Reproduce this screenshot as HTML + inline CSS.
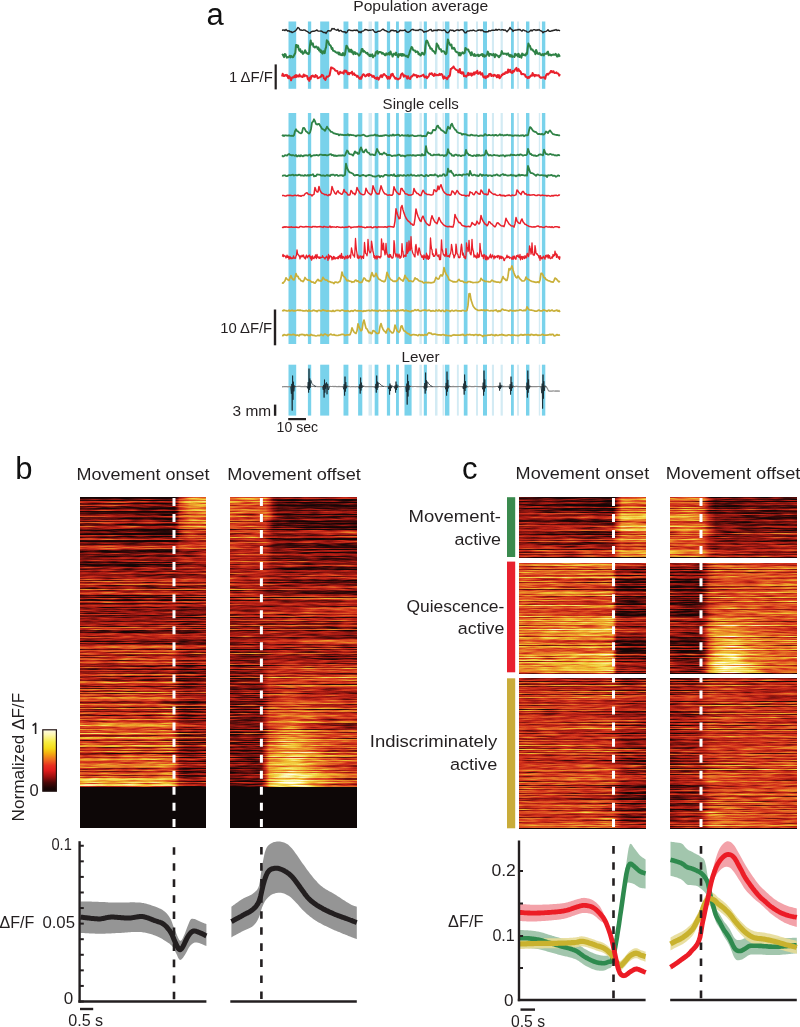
<!DOCTYPE html>
<html><head><meta charset="utf-8"><title>Figure</title>
<style>
html,body{margin:0;padding:0;background:#fff;overflow:hidden}
svg{display:block;will-change:transform;font-family:"Liberation Sans", sans-serif}
</style></head><body>
<svg width="800" height="1027" viewBox="0 0 800 1027">
<defs>
<filter id="hm" filterUnits="objectBoundingBox" x="0" y="0" width="1" height="1" color-interpolation-filters="sRGB">
<feTurbulence type="fractalNoise" baseFrequency="0.004 0.75" numOctaves="1" seed="5" result="t1"/>
<feColorMatrix in="t1" type="matrix" values="1 0 0 0 0  1 0 0 0 0  1 0 0 0 0  0 0 0 0 1" result="n1"/>
<feTurbulence type="fractalNoise" baseFrequency="0.05 0.75" numOctaves="2" seed="9" result="t2"/>
<feColorMatrix in="t2" type="matrix" values="1 0 0 0 0  1 0 0 0 0  1 0 0 0 0  0 0 0 0 1" result="n2"/>
<feComposite in="n1" in2="n2" operator="arithmetic" k1="0" k2="0.7" k3="0.3" k4="0" result="n"/>
<feComposite in="SourceGraphic" in2="n" operator="arithmetic" k1="0" k2="1" k3="1.6" k4="-0.8" result="v"/>
<feComponentTransfer in="v"><feFuncR type="table" tableValues="0.078 0.157 0.235 0.349 0.463 0.569 0.675 0.749 0.824 0.855 0.886 0.902 0.918 0.929 0.941 0.951 0.961 0.971 0.980 0.990 1.000"/><feFuncG type="table" tableValues="0.024 0.031 0.039 0.055 0.071 0.090 0.110 0.153 0.196 0.278 0.361 0.459 0.557 0.655 0.753 0.820 0.886 0.922 0.957 0.978 1.000"/><feFuncB type="table" tableValues="0.024 0.031 0.039 0.047 0.055 0.067 0.078 0.094 0.110 0.125 0.141 0.149 0.157 0.176 0.196 0.275 0.353 0.510 0.667 0.804 0.941"/><feFuncA type="linear" slope="0" intercept="1"/></feComponentTransfer>
</filter>
<linearGradient id="g1"><stop offset="0.00" stop-color="#292929"/><stop offset="0.24" stop-color="#292929"/><stop offset="0.40" stop-color="#242424"/><stop offset="0.56" stop-color="#1b1b1b"/><stop offset="0.65" stop-color="#181818"/><stop offset="0.70" stop-color="#181818"/><stop offset="0.72" stop-color="#181818"/><stop offset="0.75" stop-color="#181818"/><stop offset="0.77" stop-color="#333333"/><stop offset="0.79" stop-color="#636363"/><stop offset="0.83" stop-color="#7d7d7d"/><stop offset="0.87" stop-color="#959595"/><stop offset="0.93" stop-color="#9c9c9c"/><stop offset="1.00" stop-color="#9c9c9c"/></linearGradient>
<linearGradient id="g2"><stop offset="0.00" stop-color="#2b2b2b"/><stop offset="0.24" stop-color="#2b2b2b"/><stop offset="0.40" stop-color="#252525"/><stop offset="0.56" stop-color="#1c1c1c"/><stop offset="0.65" stop-color="#191919"/><stop offset="0.70" stop-color="#191919"/><stop offset="0.72" stop-color="#191919"/><stop offset="0.75" stop-color="#191919"/><stop offset="0.77" stop-color="#333333"/><stop offset="0.79" stop-color="#606060"/><stop offset="0.83" stop-color="#7a7a7a"/><stop offset="0.87" stop-color="#929292"/><stop offset="0.93" stop-color="#999999"/><stop offset="1.00" stop-color="#999999"/></linearGradient>
<linearGradient id="g3"><stop offset="0.00" stop-color="#2c2c2c"/><stop offset="0.24" stop-color="#2c2c2c"/><stop offset="0.40" stop-color="#272727"/><stop offset="0.56" stop-color="#1e1e1e"/><stop offset="0.65" stop-color="#1a1a1a"/><stop offset="0.70" stop-color="#1a1a1a"/><stop offset="0.72" stop-color="#1a1a1a"/><stop offset="0.75" stop-color="#1a1a1a"/><stop offset="0.77" stop-color="#333333"/><stop offset="0.79" stop-color="#5d5d5d"/><stop offset="0.83" stop-color="#757575"/><stop offset="0.87" stop-color="#8c8c8c"/><stop offset="0.93" stop-color="#939393"/><stop offset="1.00" stop-color="#939393"/></linearGradient>
<linearGradient id="g4"><stop offset="0.00" stop-color="#2d2d2d"/><stop offset="0.24" stop-color="#2d2d2d"/><stop offset="0.40" stop-color="#282828"/><stop offset="0.56" stop-color="#1f1f1f"/><stop offset="0.65" stop-color="#1c1c1c"/><stop offset="0.70" stop-color="#1c1c1c"/><stop offset="0.72" stop-color="#1c1c1c"/><stop offset="0.75" stop-color="#1c1c1c"/><stop offset="0.77" stop-color="#323232"/><stop offset="0.79" stop-color="#5a5a5a"/><stop offset="0.83" stop-color="#707070"/><stop offset="0.87" stop-color="#848484"/><stop offset="0.93" stop-color="#8a8a8a"/><stop offset="1.00" stop-color="#8a8a8a"/></linearGradient>
<linearGradient id="g5"><stop offset="0.00" stop-color="#303030"/><stop offset="0.24" stop-color="#303030"/><stop offset="0.40" stop-color="#2a2a2a"/><stop offset="0.56" stop-color="#212121"/><stop offset="0.65" stop-color="#1e1e1e"/><stop offset="0.70" stop-color="#1e1e1e"/><stop offset="0.72" stop-color="#1e1e1e"/><stop offset="0.75" stop-color="#1e1e1e"/><stop offset="0.77" stop-color="#333333"/><stop offset="0.79" stop-color="#575757"/><stop offset="0.83" stop-color="#6a6a6a"/><stop offset="0.87" stop-color="#7a7a7a"/><stop offset="0.93" stop-color="#7f7f7f"/><stop offset="1.00" stop-color="#7f7f7f"/></linearGradient>
<linearGradient id="g6"><stop offset="0.00" stop-color="#323232"/><stop offset="0.24" stop-color="#323232"/><stop offset="0.40" stop-color="#2d2d2d"/><stop offset="0.56" stop-color="#232323"/><stop offset="0.65" stop-color="#202020"/><stop offset="0.70" stop-color="#202020"/><stop offset="0.72" stop-color="#202020"/><stop offset="0.75" stop-color="#202020"/><stop offset="0.77" stop-color="#333333"/><stop offset="0.79" stop-color="#535353"/><stop offset="0.83" stop-color="#636363"/><stop offset="0.87" stop-color="#6f6f6f"/><stop offset="0.93" stop-color="#737373"/><stop offset="1.00" stop-color="#737373"/></linearGradient>
<linearGradient id="g7"><stop offset="0.00" stop-color="#343434"/><stop offset="0.24" stop-color="#343434"/><stop offset="0.40" stop-color="#2f2f2f"/><stop offset="0.56" stop-color="#272727"/><stop offset="0.65" stop-color="#242424"/><stop offset="0.70" stop-color="#242424"/><stop offset="0.72" stop-color="#242424"/><stop offset="0.75" stop-color="#242424"/><stop offset="0.77" stop-color="#343434"/><stop offset="0.79" stop-color="#515151"/><stop offset="0.83" stop-color="#5d5d5d"/><stop offset="0.87" stop-color="#656565"/><stop offset="0.93" stop-color="#686868"/><stop offset="1.00" stop-color="#686868"/></linearGradient>
<linearGradient id="g8"><stop offset="0.00" stop-color="#373737"/><stop offset="0.24" stop-color="#373737"/><stop offset="0.40" stop-color="#333333"/><stop offset="0.56" stop-color="#2b2b2b"/><stop offset="0.65" stop-color="#292929"/><stop offset="0.70" stop-color="#292929"/><stop offset="0.72" stop-color="#292929"/><stop offset="0.75" stop-color="#292929"/><stop offset="0.77" stop-color="#373737"/><stop offset="0.79" stop-color="#4f4f4f"/><stop offset="0.83" stop-color="#585858"/><stop offset="0.87" stop-color="#5c5c5c"/><stop offset="0.93" stop-color="#5d5d5d"/><stop offset="1.00" stop-color="#5d5d5d"/></linearGradient>
<linearGradient id="g9"><stop offset="0.00" stop-color="#393939"/><stop offset="0.24" stop-color="#393939"/><stop offset="0.40" stop-color="#363636"/><stop offset="0.56" stop-color="#313131"/><stop offset="0.65" stop-color="#2f2f2f"/><stop offset="0.70" stop-color="#2f2f2f"/><stop offset="0.72" stop-color="#2f2f2f"/><stop offset="0.75" stop-color="#2f2f2f"/><stop offset="0.77" stop-color="#3a3a3a"/><stop offset="0.79" stop-color="#4d4d4d"/><stop offset="0.83" stop-color="#535353"/><stop offset="0.87" stop-color="#555555"/><stop offset="0.93" stop-color="#555555"/><stop offset="1.00" stop-color="#555555"/></linearGradient>
<linearGradient id="g10"><stop offset="0.00" stop-color="#3c3c3c"/><stop offset="0.24" stop-color="#3c3c3c"/><stop offset="0.40" stop-color="#3a3a3a"/><stop offset="0.56" stop-color="#373737"/><stop offset="0.65" stop-color="#363636"/><stop offset="0.70" stop-color="#353535"/><stop offset="0.72" stop-color="#353535"/><stop offset="0.75" stop-color="#353535"/><stop offset="0.77" stop-color="#3e3e3e"/><stop offset="0.79" stop-color="#4c4c4c"/><stop offset="0.83" stop-color="#505050"/><stop offset="0.87" stop-color="#505050"/><stop offset="0.93" stop-color="#505050"/><stop offset="1.00" stop-color="#505050"/></linearGradient>
<linearGradient id="g11"><stop offset="0.00" stop-color="#3e3e3e"/><stop offset="0.24" stop-color="#3e3e3e"/><stop offset="0.40" stop-color="#3d3d3d"/><stop offset="0.56" stop-color="#3c3c3c"/><stop offset="0.65" stop-color="#3b3b3b"/><stop offset="0.70" stop-color="#3b3b3b"/><stop offset="0.72" stop-color="#3b3b3b"/><stop offset="0.75" stop-color="#3e3e3e"/><stop offset="0.77" stop-color="#444444"/><stop offset="0.79" stop-color="#4b4b4b"/><stop offset="0.83" stop-color="#4d4d4d"/><stop offset="0.87" stop-color="#4d4d4d"/><stop offset="0.93" stop-color="#4d4d4d"/><stop offset="1.00" stop-color="#4d4d4d"/></linearGradient>
<linearGradient id="g12"><stop offset="0.00" stop-color="#414141"/><stop offset="0.24" stop-color="#414141"/><stop offset="0.40" stop-color="#414141"/><stop offset="0.56" stop-color="#404040"/><stop offset="0.65" stop-color="#404040"/><stop offset="0.70" stop-color="#404040"/><stop offset="0.72" stop-color="#404040"/><stop offset="0.75" stop-color="#424242"/><stop offset="0.77" stop-color="#454545"/><stop offset="0.79" stop-color="#494949"/><stop offset="0.83" stop-color="#4b4b4b"/><stop offset="0.87" stop-color="#4b4b4b"/><stop offset="0.93" stop-color="#505050"/><stop offset="1.00" stop-color="#555555"/></linearGradient>
<linearGradient id="g13"><stop offset="0.00" stop-color="#434343"/><stop offset="0.24" stop-color="#434343"/><stop offset="0.40" stop-color="#434343"/><stop offset="0.56" stop-color="#434343"/><stop offset="0.65" stop-color="#434343"/><stop offset="0.70" stop-color="#434343"/><stop offset="0.72" stop-color="#434343"/><stop offset="0.75" stop-color="#444444"/><stop offset="0.77" stop-color="#454545"/><stop offset="0.79" stop-color="#474747"/><stop offset="0.83" stop-color="#484848"/><stop offset="0.87" stop-color="#484848"/><stop offset="0.93" stop-color="#4d4d4d"/><stop offset="1.00" stop-color="#525252"/></linearGradient>
<linearGradient id="g14"><stop offset="0.00" stop-color="#444444"/><stop offset="0.24" stop-color="#444444"/><stop offset="0.40" stop-color="#444444"/><stop offset="0.56" stop-color="#444444"/><stop offset="0.65" stop-color="#444444"/><stop offset="0.70" stop-color="#444444"/><stop offset="0.72" stop-color="#444444"/><stop offset="0.75" stop-color="#444444"/><stop offset="0.77" stop-color="#454545"/><stop offset="0.79" stop-color="#454545"/><stop offset="0.83" stop-color="#464646"/><stop offset="0.87" stop-color="#464646"/><stop offset="0.93" stop-color="#4b4b4b"/><stop offset="1.00" stop-color="#505050"/></linearGradient>
<linearGradient id="g15"><stop offset="0.00" stop-color="#454545"/><stop offset="0.24" stop-color="#454545"/><stop offset="0.40" stop-color="#454545"/><stop offset="0.56" stop-color="#454545"/><stop offset="0.65" stop-color="#454545"/><stop offset="0.70" stop-color="#454545"/><stop offset="0.72" stop-color="#454545"/><stop offset="0.75" stop-color="#454545"/><stop offset="0.77" stop-color="#444444"/><stop offset="0.79" stop-color="#444444"/><stop offset="0.83" stop-color="#444444"/><stop offset="0.87" stop-color="#444444"/><stop offset="0.93" stop-color="#494949"/><stop offset="1.00" stop-color="#4e4e4e"/></linearGradient>
<linearGradient id="g16"><stop offset="0.00" stop-color="#464646"/><stop offset="0.24" stop-color="#464646"/><stop offset="0.40" stop-color="#464646"/><stop offset="0.56" stop-color="#464646"/><stop offset="0.65" stop-color="#464646"/><stop offset="0.70" stop-color="#464646"/><stop offset="0.72" stop-color="#464646"/><stop offset="0.75" stop-color="#454545"/><stop offset="0.77" stop-color="#444444"/><stop offset="0.79" stop-color="#434343"/><stop offset="0.83" stop-color="#434343"/><stop offset="0.87" stop-color="#434343"/><stop offset="0.93" stop-color="#484848"/><stop offset="1.00" stop-color="#4d4d4d"/></linearGradient>
<linearGradient id="g17"><stop offset="0.00" stop-color="#474747"/><stop offset="0.24" stop-color="#474747"/><stop offset="0.40" stop-color="#474747"/><stop offset="0.56" stop-color="#474747"/><stop offset="0.65" stop-color="#474747"/><stop offset="0.70" stop-color="#474747"/><stop offset="0.72" stop-color="#474747"/><stop offset="0.75" stop-color="#464646"/><stop offset="0.77" stop-color="#444444"/><stop offset="0.79" stop-color="#434343"/><stop offset="0.83" stop-color="#424242"/><stop offset="0.87" stop-color="#424242"/><stop offset="0.93" stop-color="#474747"/><stop offset="1.00" stop-color="#4c4c4c"/></linearGradient>
<linearGradient id="g18"><stop offset="0.00" stop-color="#484848"/><stop offset="0.24" stop-color="#484848"/><stop offset="0.40" stop-color="#484848"/><stop offset="0.56" stop-color="#484848"/><stop offset="0.65" stop-color="#484848"/><stop offset="0.70" stop-color="#484848"/><stop offset="0.72" stop-color="#484848"/><stop offset="0.75" stop-color="#474747"/><stop offset="0.77" stop-color="#444444"/><stop offset="0.79" stop-color="#424242"/><stop offset="0.83" stop-color="#414141"/><stop offset="0.87" stop-color="#414141"/><stop offset="0.93" stop-color="#464646"/><stop offset="1.00" stop-color="#4b4b4b"/></linearGradient>
<linearGradient id="g19"><stop offset="0.00" stop-color="#494949"/><stop offset="0.24" stop-color="#494949"/><stop offset="0.40" stop-color="#494949"/><stop offset="0.56" stop-color="#494949"/><stop offset="0.65" stop-color="#494949"/><stop offset="0.70" stop-color="#494949"/><stop offset="0.72" stop-color="#494949"/><stop offset="0.75" stop-color="#484848"/><stop offset="0.77" stop-color="#444444"/><stop offset="0.79" stop-color="#414141"/><stop offset="0.83" stop-color="#3f3f3f"/><stop offset="0.87" stop-color="#3f3f3f"/><stop offset="0.93" stop-color="#454545"/><stop offset="1.00" stop-color="#4a4a4a"/></linearGradient>
<linearGradient id="g20"><stop offset="0.00" stop-color="#4a4a4a"/><stop offset="0.24" stop-color="#4a4a4a"/><stop offset="0.40" stop-color="#4a4a4a"/><stop offset="0.56" stop-color="#4a4a4a"/><stop offset="0.65" stop-color="#4a4a4a"/><stop offset="0.70" stop-color="#4a4a4a"/><stop offset="0.72" stop-color="#4a4a4a"/><stop offset="0.75" stop-color="#484848"/><stop offset="0.77" stop-color="#444444"/><stop offset="0.79" stop-color="#404040"/><stop offset="0.83" stop-color="#3e3e3e"/><stop offset="0.87" stop-color="#3e3e3e"/><stop offset="0.93" stop-color="#434343"/><stop offset="1.00" stop-color="#494949"/></linearGradient>
<linearGradient id="g21"><stop offset="0.00" stop-color="#4b4b4b"/><stop offset="0.24" stop-color="#4b4b4b"/><stop offset="0.40" stop-color="#4b4b4b"/><stop offset="0.56" stop-color="#4b4b4b"/><stop offset="0.65" stop-color="#4b4b4b"/><stop offset="0.70" stop-color="#4b4b4b"/><stop offset="0.72" stop-color="#4b4b4b"/><stop offset="0.75" stop-color="#494949"/><stop offset="0.77" stop-color="#444444"/><stop offset="0.79" stop-color="#3f3f3f"/><stop offset="0.83" stop-color="#3d3d3d"/><stop offset="0.87" stop-color="#3d3d3d"/><stop offset="0.93" stop-color="#424242"/><stop offset="1.00" stop-color="#474747"/></linearGradient>
<linearGradient id="g22"><stop offset="0.00" stop-color="#4d4d4d"/><stop offset="0.24" stop-color="#4d4d4d"/><stop offset="0.40" stop-color="#4d4d4d"/><stop offset="0.56" stop-color="#4d4d4d"/><stop offset="0.65" stop-color="#4d4d4d"/><stop offset="0.70" stop-color="#4d4d4d"/><stop offset="0.72" stop-color="#4d4d4d"/><stop offset="0.75" stop-color="#4a4a4a"/><stop offset="0.77" stop-color="#454545"/><stop offset="0.79" stop-color="#3f3f3f"/><stop offset="0.83" stop-color="#3d3d3d"/><stop offset="0.87" stop-color="#3d3d3d"/><stop offset="0.93" stop-color="#424242"/><stop offset="1.00" stop-color="#474747"/></linearGradient>
<linearGradient id="g23"><stop offset="0.00" stop-color="#4e4e4e"/><stop offset="0.24" stop-color="#4e4e4e"/><stop offset="0.40" stop-color="#4e4e4e"/><stop offset="0.56" stop-color="#4e4e4e"/><stop offset="0.65" stop-color="#4e4e4e"/><stop offset="0.70" stop-color="#4e4e4e"/><stop offset="0.72" stop-color="#4e4e4e"/><stop offset="0.75" stop-color="#4b4b4b"/><stop offset="0.77" stop-color="#454545"/><stop offset="0.79" stop-color="#3f3f3f"/><stop offset="0.83" stop-color="#3c3c3c"/><stop offset="0.87" stop-color="#3c3c3c"/><stop offset="0.93" stop-color="#414141"/><stop offset="1.00" stop-color="#464646"/></linearGradient>
<linearGradient id="g24"><stop offset="0.00" stop-color="#4f4f4f"/><stop offset="0.24" stop-color="#4f4f4f"/><stop offset="0.40" stop-color="#4f4f4f"/><stop offset="0.56" stop-color="#4f4f4f"/><stop offset="0.65" stop-color="#4f4f4f"/><stop offset="0.70" stop-color="#4f4f4f"/><stop offset="0.72" stop-color="#4f4f4f"/><stop offset="0.75" stop-color="#4c4c4c"/><stop offset="0.77" stop-color="#454545"/><stop offset="0.79" stop-color="#3f3f3f"/><stop offset="0.83" stop-color="#3c3c3c"/><stop offset="0.87" stop-color="#3c3c3c"/><stop offset="0.93" stop-color="#414141"/><stop offset="1.00" stop-color="#464646"/></linearGradient>
<linearGradient id="g25"><stop offset="0.00" stop-color="#505050"/><stop offset="0.24" stop-color="#505050"/><stop offset="0.40" stop-color="#505050"/><stop offset="0.56" stop-color="#505050"/><stop offset="0.65" stop-color="#505050"/><stop offset="0.70" stop-color="#505050"/><stop offset="0.72" stop-color="#505050"/><stop offset="0.75" stop-color="#4d4d4d"/><stop offset="0.77" stop-color="#464646"/><stop offset="0.79" stop-color="#3e3e3e"/><stop offset="0.83" stop-color="#3b3b3b"/><stop offset="0.87" stop-color="#3b3b3b"/><stop offset="0.93" stop-color="#404040"/><stop offset="1.00" stop-color="#454545"/></linearGradient>
<linearGradient id="g26"><stop offset="0.00" stop-color="#525252"/><stop offset="0.24" stop-color="#525252"/><stop offset="0.40" stop-color="#525252"/><stop offset="0.56" stop-color="#525252"/><stop offset="0.65" stop-color="#525252"/><stop offset="0.70" stop-color="#525252"/><stop offset="0.72" stop-color="#525252"/><stop offset="0.75" stop-color="#4e4e4e"/><stop offset="0.77" stop-color="#464646"/><stop offset="0.79" stop-color="#3e3e3e"/><stop offset="0.83" stop-color="#3b3b3b"/><stop offset="0.87" stop-color="#3b3b3b"/><stop offset="0.93" stop-color="#404040"/><stop offset="1.00" stop-color="#454545"/></linearGradient>
<linearGradient id="g27"><stop offset="0.00" stop-color="#535353"/><stop offset="0.24" stop-color="#535353"/><stop offset="0.40" stop-color="#535353"/><stop offset="0.56" stop-color="#535353"/><stop offset="0.65" stop-color="#535353"/><stop offset="0.70" stop-color="#535353"/><stop offset="0.72" stop-color="#535353"/><stop offset="0.75" stop-color="#4f4f4f"/><stop offset="0.77" stop-color="#474747"/><stop offset="0.79" stop-color="#3e3e3e"/><stop offset="0.83" stop-color="#3a3a3a"/><stop offset="0.87" stop-color="#3a3a3a"/><stop offset="0.93" stop-color="#3f3f3f"/><stop offset="1.00" stop-color="#444444"/></linearGradient>
<linearGradient id="g28"><stop offset="0.00" stop-color="#555555"/><stop offset="0.24" stop-color="#555555"/><stop offset="0.40" stop-color="#555555"/><stop offset="0.56" stop-color="#555555"/><stop offset="0.65" stop-color="#555555"/><stop offset="0.70" stop-color="#555555"/><stop offset="0.72" stop-color="#555555"/><stop offset="0.75" stop-color="#505050"/><stop offset="0.77" stop-color="#474747"/><stop offset="0.79" stop-color="#3e3e3e"/><stop offset="0.83" stop-color="#3a3a3a"/><stop offset="0.87" stop-color="#3a3a3a"/><stop offset="0.93" stop-color="#3f3f3f"/><stop offset="1.00" stop-color="#444444"/></linearGradient>
<linearGradient id="g29"><stop offset="0.00" stop-color="#565656"/><stop offset="0.24" stop-color="#565656"/><stop offset="0.40" stop-color="#565656"/><stop offset="0.56" stop-color="#565656"/><stop offset="0.65" stop-color="#565656"/><stop offset="0.70" stop-color="#565656"/><stop offset="0.72" stop-color="#565656"/><stop offset="0.75" stop-color="#525252"/><stop offset="0.77" stop-color="#484848"/><stop offset="0.79" stop-color="#3e3e3e"/><stop offset="0.83" stop-color="#393939"/><stop offset="0.87" stop-color="#393939"/><stop offset="0.93" stop-color="#3e3e3e"/><stop offset="1.00" stop-color="#434343"/></linearGradient>
<linearGradient id="g30"><stop offset="0.00" stop-color="#585858"/><stop offset="0.24" stop-color="#585858"/><stop offset="0.40" stop-color="#585858"/><stop offset="0.56" stop-color="#585858"/><stop offset="0.65" stop-color="#585858"/><stop offset="0.70" stop-color="#585858"/><stop offset="0.72" stop-color="#585858"/><stop offset="0.75" stop-color="#535353"/><stop offset="0.77" stop-color="#484848"/><stop offset="0.79" stop-color="#3d3d3d"/><stop offset="0.83" stop-color="#393939"/><stop offset="0.87" stop-color="#393939"/><stop offset="0.93" stop-color="#3e3e3e"/><stop offset="1.00" stop-color="#434343"/></linearGradient>
<linearGradient id="g31"><stop offset="0.00" stop-color="#595959"/><stop offset="0.24" stop-color="#595959"/><stop offset="0.40" stop-color="#595959"/><stop offset="0.56" stop-color="#595959"/><stop offset="0.65" stop-color="#595959"/><stop offset="0.70" stop-color="#595959"/><stop offset="0.72" stop-color="#595959"/><stop offset="0.75" stop-color="#545454"/><stop offset="0.77" stop-color="#494949"/><stop offset="0.79" stop-color="#3d3d3d"/><stop offset="0.83" stop-color="#383838"/><stop offset="0.87" stop-color="#383838"/><stop offset="0.93" stop-color="#3d3d3d"/><stop offset="1.00" stop-color="#424242"/></linearGradient>
<linearGradient id="g32"><stop offset="0.00" stop-color="#5b5b5b"/><stop offset="0.24" stop-color="#5b5b5b"/><stop offset="0.40" stop-color="#5b5b5b"/><stop offset="0.56" stop-color="#5b5b5b"/><stop offset="0.65" stop-color="#5b5b5b"/><stop offset="0.70" stop-color="#5b5b5b"/><stop offset="0.72" stop-color="#5b5b5b"/><stop offset="0.75" stop-color="#555555"/><stop offset="0.77" stop-color="#494949"/><stop offset="0.79" stop-color="#3d3d3d"/><stop offset="0.83" stop-color="#383838"/><stop offset="0.87" stop-color="#383838"/><stop offset="0.93" stop-color="#3d3d3d"/><stop offset="1.00" stop-color="#424242"/></linearGradient>
<linearGradient id="g33"><stop offset="0.00" stop-color="#5c5c5c"/><stop offset="0.24" stop-color="#5c5c5c"/><stop offset="0.40" stop-color="#5c5c5c"/><stop offset="0.56" stop-color="#5c5c5c"/><stop offset="0.65" stop-color="#5d5d5d"/><stop offset="0.70" stop-color="#5d5d5d"/><stop offset="0.72" stop-color="#5d5d5d"/><stop offset="0.75" stop-color="#575757"/><stop offset="0.77" stop-color="#4a4a4a"/><stop offset="0.79" stop-color="#3d3d3d"/><stop offset="0.83" stop-color="#383838"/><stop offset="0.87" stop-color="#383838"/><stop offset="0.93" stop-color="#3d3d3d"/><stop offset="1.00" stop-color="#424242"/></linearGradient>
<linearGradient id="g34"><stop offset="0.00" stop-color="#5e5e5e"/><stop offset="0.24" stop-color="#5e5e5e"/><stop offset="0.40" stop-color="#5e5e5e"/><stop offset="0.56" stop-color="#5e5e5e"/><stop offset="0.65" stop-color="#5f5f5f"/><stop offset="0.70" stop-color="#5f5f5f"/><stop offset="0.72" stop-color="#5f5f5f"/><stop offset="0.75" stop-color="#595959"/><stop offset="0.77" stop-color="#4b4b4b"/><stop offset="0.79" stop-color="#3e3e3e"/><stop offset="0.83" stop-color="#373737"/><stop offset="0.87" stop-color="#373737"/><stop offset="0.93" stop-color="#3c3c3c"/><stop offset="1.00" stop-color="#424242"/></linearGradient>
<linearGradient id="g35"><stop offset="0.00" stop-color="#606060"/><stop offset="0.24" stop-color="#606060"/><stop offset="0.40" stop-color="#606060"/><stop offset="0.56" stop-color="#606060"/><stop offset="0.65" stop-color="#616161"/><stop offset="0.70" stop-color="#616161"/><stop offset="0.72" stop-color="#616161"/><stop offset="0.75" stop-color="#5b5b5b"/><stop offset="0.77" stop-color="#4c4c4c"/><stop offset="0.79" stop-color="#3e3e3e"/><stop offset="0.83" stop-color="#373737"/><stop offset="0.87" stop-color="#373737"/><stop offset="0.93" stop-color="#3c3c3c"/><stop offset="1.00" stop-color="#414141"/></linearGradient>
<linearGradient id="g36"><stop offset="0.00" stop-color="#626262"/><stop offset="0.24" stop-color="#626262"/><stop offset="0.40" stop-color="#626262"/><stop offset="0.56" stop-color="#626262"/><stop offset="0.65" stop-color="#646464"/><stop offset="0.70" stop-color="#646464"/><stop offset="0.72" stop-color="#646464"/><stop offset="0.75" stop-color="#5d5d5d"/><stop offset="0.77" stop-color="#4e4e4e"/><stop offset="0.79" stop-color="#3e3e3e"/><stop offset="0.83" stop-color="#373737"/><stop offset="0.87" stop-color="#373737"/><stop offset="0.93" stop-color="#3c3c3c"/><stop offset="1.00" stop-color="#414141"/></linearGradient>
<linearGradient id="g37"><stop offset="0.00" stop-color="#636363"/><stop offset="0.24" stop-color="#636363"/><stop offset="0.40" stop-color="#636363"/><stop offset="0.56" stop-color="#646464"/><stop offset="0.65" stop-color="#676767"/><stop offset="0.70" stop-color="#676767"/><stop offset="0.72" stop-color="#676767"/><stop offset="0.75" stop-color="#606060"/><stop offset="0.77" stop-color="#4f4f4f"/><stop offset="0.79" stop-color="#3e3e3e"/><stop offset="0.83" stop-color="#373737"/><stop offset="0.87" stop-color="#373737"/><stop offset="0.93" stop-color="#3c3c3c"/><stop offset="1.00" stop-color="#414141"/></linearGradient>
<linearGradient id="g38"><stop offset="0.00" stop-color="#656565"/><stop offset="0.24" stop-color="#656565"/><stop offset="0.40" stop-color="#656565"/><stop offset="0.56" stop-color="#676767"/><stop offset="0.65" stop-color="#696969"/><stop offset="0.70" stop-color="#6a6a6a"/><stop offset="0.72" stop-color="#6a6a6a"/><stop offset="0.75" stop-color="#626262"/><stop offset="0.77" stop-color="#505050"/><stop offset="0.79" stop-color="#3e3e3e"/><stop offset="0.83" stop-color="#363636"/><stop offset="0.87" stop-color="#363636"/><stop offset="0.93" stop-color="#3b3b3b"/><stop offset="1.00" stop-color="#414141"/></linearGradient>
<linearGradient id="g39"><stop offset="0.00" stop-color="#676767"/><stop offset="0.24" stop-color="#676767"/><stop offset="0.40" stop-color="#676767"/><stop offset="0.56" stop-color="#696969"/><stop offset="0.65" stop-color="#6c6c6c"/><stop offset="0.70" stop-color="#6d6d6d"/><stop offset="0.72" stop-color="#6d6d6d"/><stop offset="0.75" stop-color="#656565"/><stop offset="0.77" stop-color="#525252"/><stop offset="0.79" stop-color="#3f3f3f"/><stop offset="0.83" stop-color="#363636"/><stop offset="0.87" stop-color="#363636"/><stop offset="0.93" stop-color="#3b3b3b"/><stop offset="1.00" stop-color="#404040"/></linearGradient>
<linearGradient id="g40"><stop offset="0.00" stop-color="#696969"/><stop offset="0.24" stop-color="#696969"/><stop offset="0.40" stop-color="#696969"/><stop offset="0.56" stop-color="#6b6b6b"/><stop offset="0.65" stop-color="#6f6f6f"/><stop offset="0.70" stop-color="#707070"/><stop offset="0.72" stop-color="#707070"/><stop offset="0.75" stop-color="#676767"/><stop offset="0.77" stop-color="#535353"/><stop offset="0.79" stop-color="#3f3f3f"/><stop offset="0.83" stop-color="#363636"/><stop offset="0.87" stop-color="#363636"/><stop offset="0.93" stop-color="#3b3b3b"/><stop offset="1.00" stop-color="#404040"/></linearGradient>
<linearGradient id="g41"><stop offset="0.00" stop-color="#6b6b6b"/><stop offset="0.24" stop-color="#6b6b6b"/><stop offset="0.40" stop-color="#6b6b6b"/><stop offset="0.56" stop-color="#6d6d6d"/><stop offset="0.65" stop-color="#727272"/><stop offset="0.70" stop-color="#737373"/><stop offset="0.72" stop-color="#737373"/><stop offset="0.75" stop-color="#6a6a6a"/><stop offset="0.77" stop-color="#545454"/><stop offset="0.79" stop-color="#3f3f3f"/><stop offset="0.83" stop-color="#363636"/><stop offset="0.87" stop-color="#363636"/><stop offset="0.93" stop-color="#3b3b3b"/><stop offset="1.00" stop-color="#404040"/></linearGradient>
<linearGradient id="g42"><stop offset="0.00" stop-color="#6e6e6e"/><stop offset="0.24" stop-color="#6e6e6e"/><stop offset="0.40" stop-color="#6e6e6e"/><stop offset="0.56" stop-color="#717171"/><stop offset="0.65" stop-color="#767676"/><stop offset="0.70" stop-color="#777777"/><stop offset="0.72" stop-color="#777777"/><stop offset="0.75" stop-color="#6d6d6d"/><stop offset="0.77" stop-color="#565656"/><stop offset="0.79" stop-color="#404040"/><stop offset="0.83" stop-color="#353535"/><stop offset="0.87" stop-color="#353535"/><stop offset="0.93" stop-color="#3a3a3a"/><stop offset="1.00" stop-color="#3f3f3f"/></linearGradient>
<linearGradient id="g43"><stop offset="0.00" stop-color="#717171"/><stop offset="0.24" stop-color="#717171"/><stop offset="0.40" stop-color="#717171"/><stop offset="0.56" stop-color="#747474"/><stop offset="0.65" stop-color="#7a7a7a"/><stop offset="0.70" stop-color="#7b7b7b"/><stop offset="0.72" stop-color="#7c7c7c"/><stop offset="0.75" stop-color="#707070"/><stop offset="0.77" stop-color="#585858"/><stop offset="0.79" stop-color="#404040"/><stop offset="0.83" stop-color="#353535"/><stop offset="0.87" stop-color="#353535"/><stop offset="0.93" stop-color="#3a3a3a"/><stop offset="1.00" stop-color="#3f3f3f"/></linearGradient>
<linearGradient id="g44"><stop offset="0.00" stop-color="#747474"/><stop offset="0.24" stop-color="#747474"/><stop offset="0.40" stop-color="#747474"/><stop offset="0.56" stop-color="#777777"/><stop offset="0.65" stop-color="#7d7d7d"/><stop offset="0.70" stop-color="#7f7f7f"/><stop offset="0.72" stop-color="#7f7f7f"/><stop offset="0.75" stop-color="#747474"/><stop offset="0.77" stop-color="#5a5a5a"/><stop offset="0.79" stop-color="#404040"/><stop offset="0.83" stop-color="#353535"/><stop offset="0.87" stop-color="#353535"/><stop offset="0.93" stop-color="#3a3a3a"/><stop offset="1.00" stop-color="#3f3f3f"/></linearGradient>
<linearGradient id="g45"><stop offset="0.00" stop-color="#777777"/><stop offset="0.24" stop-color="#777777"/><stop offset="0.40" stop-color="#777777"/><stop offset="0.56" stop-color="#7a7a7a"/><stop offset="0.65" stop-color="#818181"/><stop offset="0.70" stop-color="#838383"/><stop offset="0.72" stop-color="#838383"/><stop offset="0.75" stop-color="#777777"/><stop offset="0.77" stop-color="#5c5c5c"/><stop offset="0.79" stop-color="#414141"/><stop offset="0.83" stop-color="#343434"/><stop offset="0.87" stop-color="#343434"/><stop offset="0.93" stop-color="#393939"/><stop offset="1.00" stop-color="#3e3e3e"/></linearGradient>
<linearGradient id="g46"><stop offset="0.00" stop-color="#7a7a7a"/><stop offset="0.24" stop-color="#7a7a7a"/><stop offset="0.40" stop-color="#7a7a7a"/><stop offset="0.56" stop-color="#7e7e7e"/><stop offset="0.65" stop-color="#858585"/><stop offset="0.70" stop-color="#878787"/><stop offset="0.72" stop-color="#878787"/><stop offset="0.75" stop-color="#7a7a7a"/><stop offset="0.77" stop-color="#5d5d5d"/><stop offset="0.79" stop-color="#414141"/><stop offset="0.83" stop-color="#343434"/><stop offset="0.87" stop-color="#343434"/><stop offset="0.93" stop-color="#393939"/><stop offset="1.00" stop-color="#3e3e3e"/></linearGradient>
<linearGradient id="g47"><stop offset="0.00" stop-color="#848484"/><stop offset="0.24" stop-color="#848484"/><stop offset="0.40" stop-color="#848484"/><stop offset="0.56" stop-color="#878787"/><stop offset="0.65" stop-color="#8e8e8e"/><stop offset="0.70" stop-color="#909090"/><stop offset="0.72" stop-color="#909090"/><stop offset="0.75" stop-color="#828282"/><stop offset="0.77" stop-color="#626262"/><stop offset="0.79" stop-color="#424242"/><stop offset="0.83" stop-color="#343434"/><stop offset="0.87" stop-color="#343434"/><stop offset="0.93" stop-color="#393939"/><stop offset="1.00" stop-color="#3e3e3e"/></linearGradient>
<linearGradient id="g48"><stop offset="0.00" stop-color="#909090"/><stop offset="0.24" stop-color="#909090"/><stop offset="0.40" stop-color="#909090"/><stop offset="0.56" stop-color="#949494"/><stop offset="0.65" stop-color="#9b9b9b"/><stop offset="0.70" stop-color="#9d9d9d"/><stop offset="0.72" stop-color="#9d9d9d"/><stop offset="0.75" stop-color="#8c8c8c"/><stop offset="0.77" stop-color="#686868"/><stop offset="0.79" stop-color="#444444"/><stop offset="0.83" stop-color="#333333"/><stop offset="0.87" stop-color="#333333"/><stop offset="0.93" stop-color="#383838"/><stop offset="1.00" stop-color="#3d3d3d"/></linearGradient>
<linearGradient id="g49"><stop offset="0.00" stop-color="#9d9d9d"/><stop offset="0.24" stop-color="#9d9d9d"/><stop offset="0.40" stop-color="#9d9d9d"/><stop offset="0.56" stop-color="#a1a1a1"/><stop offset="0.65" stop-color="#a8a8a8"/><stop offset="0.70" stop-color="#aaaaaa"/><stop offset="0.72" stop-color="#aaaaaa"/><stop offset="0.75" stop-color="#989898"/><stop offset="0.77" stop-color="#6f6f6f"/><stop offset="0.79" stop-color="#464646"/><stop offset="0.83" stop-color="#333333"/><stop offset="0.87" stop-color="#333333"/><stop offset="0.93" stop-color="#383838"/><stop offset="1.00" stop-color="#3d3d3d"/></linearGradient>
<linearGradient id="g50"><stop offset="0.00" stop-color="#888888"/><stop offset="0.16" stop-color="#888888"/><stop offset="0.20" stop-color="#888888"/><stop offset="0.23" stop-color="#888888"/><stop offset="0.25" stop-color="#888888"/><stop offset="0.28" stop-color="#868686"/><stop offset="0.31" stop-color="#666666"/><stop offset="0.34" stop-color="#393939"/><stop offset="0.38" stop-color="#222222"/><stop offset="0.43" stop-color="#222222"/><stop offset="0.49" stop-color="#222222"/><stop offset="0.55" stop-color="#222222"/><stop offset="0.65" stop-color="#222222"/><stop offset="0.79" stop-color="#222222"/><stop offset="1.00" stop-color="#222222"/></linearGradient>
<linearGradient id="g51"><stop offset="0.00" stop-color="#808080"/><stop offset="0.16" stop-color="#808080"/><stop offset="0.20" stop-color="#808080"/><stop offset="0.23" stop-color="#808080"/><stop offset="0.25" stop-color="#808080"/><stop offset="0.28" stop-color="#7e7e7e"/><stop offset="0.31" stop-color="#626262"/><stop offset="0.34" stop-color="#393939"/><stop offset="0.38" stop-color="#242424"/><stop offset="0.43" stop-color="#242424"/><stop offset="0.49" stop-color="#242424"/><stop offset="0.55" stop-color="#242424"/><stop offset="0.65" stop-color="#242424"/><stop offset="0.79" stop-color="#242424"/><stop offset="1.00" stop-color="#242424"/></linearGradient>
<linearGradient id="g52"><stop offset="0.00" stop-color="#787878"/><stop offset="0.16" stop-color="#787878"/><stop offset="0.20" stop-color="#787878"/><stop offset="0.23" stop-color="#787878"/><stop offset="0.25" stop-color="#787878"/><stop offset="0.28" stop-color="#777777"/><stop offset="0.31" stop-color="#5d5d5d"/><stop offset="0.34" stop-color="#393939"/><stop offset="0.38" stop-color="#262626"/><stop offset="0.43" stop-color="#262626"/><stop offset="0.49" stop-color="#262626"/><stop offset="0.55" stop-color="#262626"/><stop offset="0.65" stop-color="#262626"/><stop offset="0.79" stop-color="#262626"/><stop offset="1.00" stop-color="#262626"/></linearGradient>
<linearGradient id="g53"><stop offset="0.00" stop-color="#727272"/><stop offset="0.16" stop-color="#727272"/><stop offset="0.20" stop-color="#727272"/><stop offset="0.23" stop-color="#727272"/><stop offset="0.25" stop-color="#727272"/><stop offset="0.28" stop-color="#717171"/><stop offset="0.31" stop-color="#5a5a5a"/><stop offset="0.34" stop-color="#393939"/><stop offset="0.38" stop-color="#282828"/><stop offset="0.43" stop-color="#282828"/><stop offset="0.49" stop-color="#282828"/><stop offset="0.55" stop-color="#282828"/><stop offset="0.65" stop-color="#282828"/><stop offset="0.79" stop-color="#282828"/><stop offset="1.00" stop-color="#282828"/></linearGradient>
<linearGradient id="g54"><stop offset="0.00" stop-color="#6c6c6c"/><stop offset="0.16" stop-color="#6c6c6c"/><stop offset="0.20" stop-color="#6c6c6c"/><stop offset="0.23" stop-color="#6c6c6c"/><stop offset="0.25" stop-color="#6c6c6c"/><stop offset="0.28" stop-color="#6b6b6b"/><stop offset="0.31" stop-color="#565656"/><stop offset="0.34" stop-color="#393939"/><stop offset="0.38" stop-color="#2b2b2b"/><stop offset="0.43" stop-color="#2b2b2b"/><stop offset="0.49" stop-color="#2b2b2b"/><stop offset="0.55" stop-color="#2b2b2b"/><stop offset="0.65" stop-color="#2b2b2b"/><stop offset="0.79" stop-color="#2b2b2b"/><stop offset="1.00" stop-color="#2b2b2b"/></linearGradient>
<linearGradient id="g55"><stop offset="0.00" stop-color="#666666"/><stop offset="0.16" stop-color="#666666"/><stop offset="0.20" stop-color="#666666"/><stop offset="0.23" stop-color="#666666"/><stop offset="0.25" stop-color="#666666"/><stop offset="0.28" stop-color="#656565"/><stop offset="0.31" stop-color="#535353"/><stop offset="0.34" stop-color="#3a3a3a"/><stop offset="0.38" stop-color="#2d2d2d"/><stop offset="0.43" stop-color="#2d2d2d"/><stop offset="0.49" stop-color="#2d2d2d"/><stop offset="0.55" stop-color="#2d2d2d"/><stop offset="0.65" stop-color="#2d2d2d"/><stop offset="0.79" stop-color="#2d2d2d"/><stop offset="1.00" stop-color="#2d2d2d"/></linearGradient>
<linearGradient id="g56"><stop offset="0.00" stop-color="#636363"/><stop offset="0.16" stop-color="#636363"/><stop offset="0.20" stop-color="#636363"/><stop offset="0.23" stop-color="#636363"/><stop offset="0.25" stop-color="#636363"/><stop offset="0.28" stop-color="#626262"/><stop offset="0.31" stop-color="#525252"/><stop offset="0.34" stop-color="#3b3b3b"/><stop offset="0.38" stop-color="#303030"/><stop offset="0.43" stop-color="#303030"/><stop offset="0.49" stop-color="#303030"/><stop offset="0.55" stop-color="#303030"/><stop offset="0.65" stop-color="#303030"/><stop offset="0.79" stop-color="#303030"/><stop offset="1.00" stop-color="#303030"/></linearGradient>
<linearGradient id="g57"><stop offset="0.00" stop-color="#606060"/><stop offset="0.16" stop-color="#606060"/><stop offset="0.20" stop-color="#606060"/><stop offset="0.23" stop-color="#606060"/><stop offset="0.25" stop-color="#606060"/><stop offset="0.28" stop-color="#5f5f5f"/><stop offset="0.31" stop-color="#4f4f4f"/><stop offset="0.34" stop-color="#3b3b3b"/><stop offset="0.38" stop-color="#333333"/><stop offset="0.43" stop-color="#333333"/><stop offset="0.49" stop-color="#333333"/><stop offset="0.55" stop-color="#333333"/><stop offset="0.65" stop-color="#333333"/><stop offset="0.79" stop-color="#333333"/><stop offset="1.00" stop-color="#333333"/></linearGradient>
<linearGradient id="g58"><stop offset="0.00" stop-color="#5d5d5d"/><stop offset="0.16" stop-color="#5d5d5d"/><stop offset="0.20" stop-color="#5d5d5d"/><stop offset="0.23" stop-color="#5d5d5d"/><stop offset="0.25" stop-color="#5d5d5d"/><stop offset="0.28" stop-color="#5b5b5b"/><stop offset="0.31" stop-color="#4c4c4c"/><stop offset="0.34" stop-color="#3a3a3a"/><stop offset="0.38" stop-color="#353535"/><stop offset="0.43" stop-color="#353535"/><stop offset="0.49" stop-color="#353535"/><stop offset="0.55" stop-color="#353535"/><stop offset="0.65" stop-color="#353535"/><stop offset="0.79" stop-color="#353535"/><stop offset="1.00" stop-color="#353535"/></linearGradient>
<linearGradient id="g59"><stop offset="0.00" stop-color="#5a5a5a"/><stop offset="0.16" stop-color="#5a5a5a"/><stop offset="0.20" stop-color="#5a5a5a"/><stop offset="0.23" stop-color="#5a5a5a"/><stop offset="0.25" stop-color="#5a5a5a"/><stop offset="0.28" stop-color="#585858"/><stop offset="0.31" stop-color="#494949"/><stop offset="0.34" stop-color="#3a3a3a"/><stop offset="0.38" stop-color="#383838"/><stop offset="0.43" stop-color="#383838"/><stop offset="0.49" stop-color="#383838"/><stop offset="0.55" stop-color="#383838"/><stop offset="0.65" stop-color="#383838"/><stop offset="0.79" stop-color="#383838"/><stop offset="1.00" stop-color="#383838"/></linearGradient>
<linearGradient id="g60"><stop offset="0.00" stop-color="#575757"/><stop offset="0.16" stop-color="#575757"/><stop offset="0.20" stop-color="#575757"/><stop offset="0.23" stop-color="#575757"/><stop offset="0.25" stop-color="#575757"/><stop offset="0.28" stop-color="#545454"/><stop offset="0.31" stop-color="#464646"/><stop offset="0.34" stop-color="#3b3b3b"/><stop offset="0.38" stop-color="#3b3b3b"/><stop offset="0.43" stop-color="#3b3b3b"/><stop offset="0.49" stop-color="#3b3b3b"/><stop offset="0.55" stop-color="#3b3b3b"/><stop offset="0.65" stop-color="#3b3b3b"/><stop offset="0.79" stop-color="#3b3b3b"/><stop offset="1.00" stop-color="#3b3b3b"/></linearGradient>
<linearGradient id="g61"><stop offset="0.00" stop-color="#555555"/><stop offset="0.16" stop-color="#555555"/><stop offset="0.20" stop-color="#555555"/><stop offset="0.23" stop-color="#555555"/><stop offset="0.25" stop-color="#555555"/><stop offset="0.28" stop-color="#515151"/><stop offset="0.31" stop-color="#444444"/><stop offset="0.34" stop-color="#3c3c3c"/><stop offset="0.38" stop-color="#3c3c3c"/><stop offset="0.43" stop-color="#3c3c3c"/><stop offset="0.49" stop-color="#3c3c3c"/><stop offset="0.55" stop-color="#3c3c3c"/><stop offset="0.65" stop-color="#3c3c3c"/><stop offset="0.79" stop-color="#3c3c3c"/><stop offset="1.00" stop-color="#3c3c3c"/></linearGradient>
<linearGradient id="g62"><stop offset="0.00" stop-color="#545454"/><stop offset="0.16" stop-color="#545454"/><stop offset="0.20" stop-color="#545454"/><stop offset="0.23" stop-color="#545454"/><stop offset="0.25" stop-color="#545454"/><stop offset="0.28" stop-color="#4f4f4f"/><stop offset="0.31" stop-color="#424242"/><stop offset="0.34" stop-color="#3e3e3e"/><stop offset="0.38" stop-color="#3e3e3e"/><stop offset="0.43" stop-color="#3e3e3e"/><stop offset="0.49" stop-color="#3e3e3e"/><stop offset="0.55" stop-color="#3e3e3e"/><stop offset="0.65" stop-color="#3e3e3e"/><stop offset="0.79" stop-color="#3e3e3e"/><stop offset="1.00" stop-color="#3e3e3e"/></linearGradient>
<linearGradient id="g63"><stop offset="0.00" stop-color="#525252"/><stop offset="0.16" stop-color="#525252"/><stop offset="0.20" stop-color="#525252"/><stop offset="0.23" stop-color="#525252"/><stop offset="0.25" stop-color="#525252"/><stop offset="0.28" stop-color="#4d4d4d"/><stop offset="0.31" stop-color="#414141"/><stop offset="0.34" stop-color="#3f3f3f"/><stop offset="0.38" stop-color="#3f3f3f"/><stop offset="0.43" stop-color="#3f3f3f"/><stop offset="0.49" stop-color="#3f3f3f"/><stop offset="0.55" stop-color="#3f3f3f"/><stop offset="0.65" stop-color="#3f3f3f"/><stop offset="0.79" stop-color="#3f3f3f"/><stop offset="1.00" stop-color="#3f3f3f"/></linearGradient>
<linearGradient id="g64"><stop offset="0.00" stop-color="#515151"/><stop offset="0.16" stop-color="#515151"/><stop offset="0.20" stop-color="#515151"/><stop offset="0.23" stop-color="#515151"/><stop offset="0.25" stop-color="#505050"/><stop offset="0.28" stop-color="#4b4b4b"/><stop offset="0.31" stop-color="#414141"/><stop offset="0.34" stop-color="#414141"/><stop offset="0.38" stop-color="#414141"/><stop offset="0.43" stop-color="#414141"/><stop offset="0.49" stop-color="#414141"/><stop offset="0.55" stop-color="#414141"/><stop offset="0.65" stop-color="#414141"/><stop offset="0.79" stop-color="#414141"/><stop offset="1.00" stop-color="#414141"/></linearGradient>
<linearGradient id="g65"><stop offset="0.00" stop-color="#4f4f4f"/><stop offset="0.16" stop-color="#4f4f4f"/><stop offset="0.20" stop-color="#4f4f4f"/><stop offset="0.23" stop-color="#4f4f4f"/><stop offset="0.25" stop-color="#4f4f4f"/><stop offset="0.28" stop-color="#494949"/><stop offset="0.31" stop-color="#424242"/><stop offset="0.34" stop-color="#424242"/><stop offset="0.38" stop-color="#424242"/><stop offset="0.43" stop-color="#424242"/><stop offset="0.49" stop-color="#424242"/><stop offset="0.55" stop-color="#424242"/><stop offset="0.65" stop-color="#424242"/><stop offset="0.79" stop-color="#424242"/><stop offset="1.00" stop-color="#424242"/></linearGradient>
<linearGradient id="g66"><stop offset="0.00" stop-color="#4e4e4e"/><stop offset="0.16" stop-color="#4e4e4e"/><stop offset="0.20" stop-color="#4e4e4e"/><stop offset="0.23" stop-color="#4e4e4e"/><stop offset="0.25" stop-color="#4d4d4d"/><stop offset="0.28" stop-color="#494949"/><stop offset="0.31" stop-color="#444444"/><stop offset="0.34" stop-color="#444444"/><stop offset="0.38" stop-color="#444444"/><stop offset="0.43" stop-color="#444444"/><stop offset="0.49" stop-color="#444444"/><stop offset="0.55" stop-color="#444444"/><stop offset="0.65" stop-color="#444444"/><stop offset="0.79" stop-color="#444444"/><stop offset="1.00" stop-color="#444444"/></linearGradient>
<linearGradient id="g67"><stop offset="0.00" stop-color="#4c4c4c"/><stop offset="0.16" stop-color="#4c4c4c"/><stop offset="0.20" stop-color="#4c4c4c"/><stop offset="0.23" stop-color="#4c4c4c"/><stop offset="0.25" stop-color="#4c4c4c"/><stop offset="0.28" stop-color="#494949"/><stop offset="0.31" stop-color="#454545"/><stop offset="0.34" stop-color="#454545"/><stop offset="0.38" stop-color="#454545"/><stop offset="0.43" stop-color="#454545"/><stop offset="0.49" stop-color="#454545"/><stop offset="0.55" stop-color="#454545"/><stop offset="0.65" stop-color="#454545"/><stop offset="0.79" stop-color="#454545"/><stop offset="1.00" stop-color="#454545"/></linearGradient>
<linearGradient id="g68"><stop offset="0.00" stop-color="#4a4a4a"/><stop offset="0.16" stop-color="#4a4a4a"/><stop offset="0.20" stop-color="#4a4a4a"/><stop offset="0.23" stop-color="#4a4a4a"/><stop offset="0.25" stop-color="#4a4a4a"/><stop offset="0.28" stop-color="#494949"/><stop offset="0.31" stop-color="#474747"/><stop offset="0.34" stop-color="#474747"/><stop offset="0.38" stop-color="#474747"/><stop offset="0.43" stop-color="#474747"/><stop offset="0.49" stop-color="#474747"/><stop offset="0.55" stop-color="#474747"/><stop offset="0.65" stop-color="#474747"/><stop offset="0.79" stop-color="#474747"/><stop offset="1.00" stop-color="#474747"/></linearGradient>
<linearGradient id="g69"><stop offset="0.00" stop-color="#494949"/><stop offset="0.16" stop-color="#494949"/><stop offset="0.20" stop-color="#494949"/><stop offset="0.23" stop-color="#494949"/><stop offset="0.25" stop-color="#494949"/><stop offset="0.28" stop-color="#494949"/><stop offset="0.31" stop-color="#484848"/><stop offset="0.34" stop-color="#484848"/><stop offset="0.38" stop-color="#484848"/><stop offset="0.43" stop-color="#484848"/><stop offset="0.49" stop-color="#484848"/><stop offset="0.55" stop-color="#484848"/><stop offset="0.65" stop-color="#484848"/><stop offset="0.79" stop-color="#484848"/><stop offset="1.00" stop-color="#484848"/></linearGradient>
<linearGradient id="g70"><stop offset="0.00" stop-color="#474747"/><stop offset="0.16" stop-color="#474747"/><stop offset="0.20" stop-color="#474747"/><stop offset="0.23" stop-color="#474747"/><stop offset="0.25" stop-color="#484848"/><stop offset="0.28" stop-color="#494949"/><stop offset="0.31" stop-color="#4a4a4a"/><stop offset="0.34" stop-color="#4a4a4a"/><stop offset="0.38" stop-color="#4a4a4a"/><stop offset="0.43" stop-color="#4a4a4a"/><stop offset="0.49" stop-color="#4a4a4a"/><stop offset="0.55" stop-color="#4a4a4a"/><stop offset="0.65" stop-color="#4a4a4a"/><stop offset="0.79" stop-color="#4a4a4a"/><stop offset="1.00" stop-color="#4a4a4a"/></linearGradient>
<linearGradient id="g71"><stop offset="0.00" stop-color="#464646"/><stop offset="0.16" stop-color="#464646"/><stop offset="0.20" stop-color="#464646"/><stop offset="0.23" stop-color="#464646"/><stop offset="0.25" stop-color="#464646"/><stop offset="0.28" stop-color="#494949"/><stop offset="0.31" stop-color="#4b4b4b"/><stop offset="0.34" stop-color="#4b4b4b"/><stop offset="0.38" stop-color="#4b4b4b"/><stop offset="0.43" stop-color="#4b4b4b"/><stop offset="0.49" stop-color="#4b4b4b"/><stop offset="0.55" stop-color="#4b4b4b"/><stop offset="0.65" stop-color="#4b4b4b"/><stop offset="0.79" stop-color="#4b4b4b"/><stop offset="1.00" stop-color="#4b4b4b"/></linearGradient>
<linearGradient id="g72"><stop offset="0.00" stop-color="#444444"/><stop offset="0.16" stop-color="#444444"/><stop offset="0.20" stop-color="#444444"/><stop offset="0.23" stop-color="#444444"/><stop offset="0.25" stop-color="#454545"/><stop offset="0.28" stop-color="#494949"/><stop offset="0.31" stop-color="#4d4d4d"/><stop offset="0.34" stop-color="#4d4d4d"/><stop offset="0.38" stop-color="#4d4d4d"/><stop offset="0.43" stop-color="#4d4d4d"/><stop offset="0.49" stop-color="#4d4d4d"/><stop offset="0.55" stop-color="#4d4d4d"/><stop offset="0.65" stop-color="#4d4d4d"/><stop offset="0.79" stop-color="#4d4d4d"/><stop offset="1.00" stop-color="#4d4d4d"/></linearGradient>
<linearGradient id="g73"><stop offset="0.00" stop-color="#434343"/><stop offset="0.16" stop-color="#434343"/><stop offset="0.20" stop-color="#434343"/><stop offset="0.23" stop-color="#434343"/><stop offset="0.25" stop-color="#434343"/><stop offset="0.28" stop-color="#494949"/><stop offset="0.31" stop-color="#4f4f4f"/><stop offset="0.34" stop-color="#4f4f4f"/><stop offset="0.38" stop-color="#4f4f4f"/><stop offset="0.43" stop-color="#4f4f4f"/><stop offset="0.49" stop-color="#4f4f4f"/><stop offset="0.55" stop-color="#4f4f4f"/><stop offset="0.65" stop-color="#4f4f4f"/><stop offset="0.79" stop-color="#4f4f4f"/><stop offset="1.00" stop-color="#4f4f4f"/></linearGradient>
<linearGradient id="g74"><stop offset="0.00" stop-color="#414141"/><stop offset="0.16" stop-color="#414141"/><stop offset="0.20" stop-color="#414141"/><stop offset="0.23" stop-color="#414141"/><stop offset="0.25" stop-color="#424242"/><stop offset="0.28" stop-color="#494949"/><stop offset="0.31" stop-color="#505050"/><stop offset="0.34" stop-color="#505050"/><stop offset="0.38" stop-color="#505050"/><stop offset="0.43" stop-color="#505050"/><stop offset="0.49" stop-color="#505050"/><stop offset="0.55" stop-color="#505050"/><stop offset="0.65" stop-color="#505050"/><stop offset="0.79" stop-color="#505050"/><stop offset="1.00" stop-color="#505050"/></linearGradient>
<linearGradient id="g75"><stop offset="0.00" stop-color="#404040"/><stop offset="0.16" stop-color="#404040"/><stop offset="0.20" stop-color="#404040"/><stop offset="0.23" stop-color="#404040"/><stop offset="0.25" stop-color="#414141"/><stop offset="0.28" stop-color="#494949"/><stop offset="0.31" stop-color="#525252"/><stop offset="0.34" stop-color="#525252"/><stop offset="0.38" stop-color="#525252"/><stop offset="0.43" stop-color="#525252"/><stop offset="0.49" stop-color="#525252"/><stop offset="0.55" stop-color="#525252"/><stop offset="0.65" stop-color="#525252"/><stop offset="0.79" stop-color="#525252"/><stop offset="1.00" stop-color="#525252"/></linearGradient>
<linearGradient id="g76"><stop offset="0.00" stop-color="#3e3e3e"/><stop offset="0.16" stop-color="#3e3e3e"/><stop offset="0.20" stop-color="#3e3e3e"/><stop offset="0.23" stop-color="#3e3e3e"/><stop offset="0.25" stop-color="#3f3f3f"/><stop offset="0.28" stop-color="#494949"/><stop offset="0.31" stop-color="#535353"/><stop offset="0.34" stop-color="#535353"/><stop offset="0.38" stop-color="#535353"/><stop offset="0.43" stop-color="#535353"/><stop offset="0.49" stop-color="#535353"/><stop offset="0.55" stop-color="#535353"/><stop offset="0.65" stop-color="#535353"/><stop offset="0.79" stop-color="#535353"/><stop offset="1.00" stop-color="#535353"/></linearGradient>
<linearGradient id="g77"><stop offset="0.00" stop-color="#3d3d3d"/><stop offset="0.16" stop-color="#3d3d3d"/><stop offset="0.20" stop-color="#3d3d3d"/><stop offset="0.23" stop-color="#3d3d3d"/><stop offset="0.25" stop-color="#3e3e3e"/><stop offset="0.28" stop-color="#494949"/><stop offset="0.31" stop-color="#555555"/><stop offset="0.34" stop-color="#555555"/><stop offset="0.38" stop-color="#555555"/><stop offset="0.43" stop-color="#555555"/><stop offset="0.49" stop-color="#555555"/><stop offset="0.55" stop-color="#555555"/><stop offset="0.65" stop-color="#555555"/><stop offset="0.79" stop-color="#555555"/><stop offset="1.00" stop-color="#555555"/></linearGradient>
<linearGradient id="g78"><stop offset="0.00" stop-color="#3b3b3b"/><stop offset="0.16" stop-color="#3b3b3b"/><stop offset="0.20" stop-color="#3b3b3b"/><stop offset="0.23" stop-color="#3b3b3b"/><stop offset="0.25" stop-color="#3c3c3c"/><stop offset="0.28" stop-color="#494949"/><stop offset="0.31" stop-color="#565656"/><stop offset="0.34" stop-color="#565656"/><stop offset="0.38" stop-color="#575757"/><stop offset="0.43" stop-color="#575757"/><stop offset="0.49" stop-color="#575757"/><stop offset="0.55" stop-color="#575757"/><stop offset="0.65" stop-color="#565656"/><stop offset="0.79" stop-color="#565656"/><stop offset="1.00" stop-color="#565656"/></linearGradient>
<linearGradient id="g79"><stop offset="0.00" stop-color="#3a3a3a"/><stop offset="0.16" stop-color="#3a3a3a"/><stop offset="0.20" stop-color="#3a3a3a"/><stop offset="0.23" stop-color="#3a3a3a"/><stop offset="0.25" stop-color="#3b3b3b"/><stop offset="0.28" stop-color="#494949"/><stop offset="0.31" stop-color="#585858"/><stop offset="0.34" stop-color="#595959"/><stop offset="0.38" stop-color="#595959"/><stop offset="0.43" stop-color="#5a5a5a"/><stop offset="0.49" stop-color="#5b5b5b"/><stop offset="0.55" stop-color="#5a5a5a"/><stop offset="0.65" stop-color="#585858"/><stop offset="0.79" stop-color="#585858"/><stop offset="1.00" stop-color="#585858"/></linearGradient>
<linearGradient id="g80"><stop offset="0.00" stop-color="#383838"/><stop offset="0.16" stop-color="#383838"/><stop offset="0.20" stop-color="#383838"/><stop offset="0.23" stop-color="#383838"/><stop offset="0.25" stop-color="#3a3a3a"/><stop offset="0.28" stop-color="#494949"/><stop offset="0.31" stop-color="#5a5a5a"/><stop offset="0.34" stop-color="#5b5b5b"/><stop offset="0.38" stop-color="#5c5c5c"/><stop offset="0.43" stop-color="#5e5e5e"/><stop offset="0.49" stop-color="#5f5f5f"/><stop offset="0.55" stop-color="#5e5e5e"/><stop offset="0.65" stop-color="#5b5b5b"/><stop offset="0.79" stop-color="#595959"/><stop offset="1.00" stop-color="#595959"/></linearGradient>
<linearGradient id="g81"><stop offset="0.00" stop-color="#373737"/><stop offset="0.16" stop-color="#373737"/><stop offset="0.20" stop-color="#373737"/><stop offset="0.23" stop-color="#373737"/><stop offset="0.25" stop-color="#393939"/><stop offset="0.28" stop-color="#4a4a4a"/><stop offset="0.31" stop-color="#5d5d5d"/><stop offset="0.34" stop-color="#5e5e5e"/><stop offset="0.38" stop-color="#606060"/><stop offset="0.43" stop-color="#626262"/><stop offset="0.49" stop-color="#646464"/><stop offset="0.55" stop-color="#626262"/><stop offset="0.65" stop-color="#5e5e5e"/><stop offset="0.79" stop-color="#5b5b5b"/><stop offset="1.00" stop-color="#5b5b5b"/></linearGradient>
<linearGradient id="g82"><stop offset="0.00" stop-color="#373737"/><stop offset="0.16" stop-color="#373737"/><stop offset="0.20" stop-color="#373737"/><stop offset="0.23" stop-color="#373737"/><stop offset="0.25" stop-color="#383838"/><stop offset="0.28" stop-color="#4a4a4a"/><stop offset="0.31" stop-color="#606060"/><stop offset="0.34" stop-color="#616161"/><stop offset="0.38" stop-color="#646464"/><stop offset="0.43" stop-color="#686868"/><stop offset="0.49" stop-color="#6a6a6a"/><stop offset="0.55" stop-color="#686868"/><stop offset="0.65" stop-color="#616161"/><stop offset="0.79" stop-color="#5d5d5d"/><stop offset="1.00" stop-color="#5c5c5c"/></linearGradient>
<linearGradient id="g83"><stop offset="0.00" stop-color="#363636"/><stop offset="0.16" stop-color="#363636"/><stop offset="0.20" stop-color="#363636"/><stop offset="0.23" stop-color="#363636"/><stop offset="0.25" stop-color="#383838"/><stop offset="0.28" stop-color="#4b4b4b"/><stop offset="0.31" stop-color="#636363"/><stop offset="0.34" stop-color="#656565"/><stop offset="0.38" stop-color="#696969"/><stop offset="0.43" stop-color="#6d6d6d"/><stop offset="0.49" stop-color="#707070"/><stop offset="0.55" stop-color="#6d6d6d"/><stop offset="0.65" stop-color="#656565"/><stop offset="0.79" stop-color="#5e5e5e"/><stop offset="1.00" stop-color="#5e5e5e"/></linearGradient>
<linearGradient id="g84"><stop offset="0.00" stop-color="#353535"/><stop offset="0.16" stop-color="#353535"/><stop offset="0.20" stop-color="#353535"/><stop offset="0.23" stop-color="#353535"/><stop offset="0.25" stop-color="#373737"/><stop offset="0.28" stop-color="#4c4c4c"/><stop offset="0.31" stop-color="#666666"/><stop offset="0.34" stop-color="#6a6a6a"/><stop offset="0.38" stop-color="#6e6e6e"/><stop offset="0.43" stop-color="#737373"/><stop offset="0.49" stop-color="#777777"/><stop offset="0.55" stop-color="#737373"/><stop offset="0.65" stop-color="#696969"/><stop offset="0.79" stop-color="#606060"/><stop offset="1.00" stop-color="#5f5f5f"/></linearGradient>
<linearGradient id="g85"><stop offset="0.00" stop-color="#343434"/><stop offset="0.16" stop-color="#343434"/><stop offset="0.20" stop-color="#343434"/><stop offset="0.23" stop-color="#343434"/><stop offset="0.25" stop-color="#363636"/><stop offset="0.28" stop-color="#4e4e4e"/><stop offset="0.31" stop-color="#6a6a6a"/><stop offset="0.34" stop-color="#6e6e6e"/><stop offset="0.38" stop-color="#747474"/><stop offset="0.43" stop-color="#7a7a7a"/><stop offset="0.49" stop-color="#7e7e7e"/><stop offset="0.55" stop-color="#7a7a7a"/><stop offset="0.65" stop-color="#6d6d6d"/><stop offset="0.79" stop-color="#626262"/><stop offset="1.00" stop-color="#616161"/></linearGradient>
<linearGradient id="g86"><stop offset="0.00" stop-color="#343434"/><stop offset="0.16" stop-color="#343434"/><stop offset="0.20" stop-color="#343434"/><stop offset="0.23" stop-color="#343434"/><stop offset="0.25" stop-color="#363636"/><stop offset="0.28" stop-color="#4f4f4f"/><stop offset="0.31" stop-color="#6e6e6e"/><stop offset="0.34" stop-color="#737373"/><stop offset="0.38" stop-color="#7a7a7a"/><stop offset="0.43" stop-color="#818181"/><stop offset="0.49" stop-color="#858585"/><stop offset="0.55" stop-color="#818181"/><stop offset="0.65" stop-color="#727272"/><stop offset="0.79" stop-color="#646464"/><stop offset="1.00" stop-color="#626262"/></linearGradient>
<linearGradient id="g87"><stop offset="0.00" stop-color="#333333"/><stop offset="0.16" stop-color="#333333"/><stop offset="0.20" stop-color="#333333"/><stop offset="0.23" stop-color="#333333"/><stop offset="0.25" stop-color="#353535"/><stop offset="0.28" stop-color="#505050"/><stop offset="0.31" stop-color="#737373"/><stop offset="0.34" stop-color="#787878"/><stop offset="0.38" stop-color="#808080"/><stop offset="0.43" stop-color="#888888"/><stop offset="0.49" stop-color="#8d8d8d"/><stop offset="0.55" stop-color="#888888"/><stop offset="0.65" stop-color="#777777"/><stop offset="0.79" stop-color="#676767"/><stop offset="1.00" stop-color="#646464"/></linearGradient>
<linearGradient id="g88"><stop offset="0.00" stop-color="#323232"/><stop offset="0.16" stop-color="#323232"/><stop offset="0.20" stop-color="#323232"/><stop offset="0.23" stop-color="#323232"/><stop offset="0.25" stop-color="#353535"/><stop offset="0.28" stop-color="#525252"/><stop offset="0.31" stop-color="#777777"/><stop offset="0.34" stop-color="#7e7e7e"/><stop offset="0.38" stop-color="#868686"/><stop offset="0.43" stop-color="#8f8f8f"/><stop offset="0.49" stop-color="#949494"/><stop offset="0.55" stop-color="#8f8f8f"/><stop offset="0.65" stop-color="#7c7c7c"/><stop offset="0.79" stop-color="#696969"/><stop offset="1.00" stop-color="#666666"/></linearGradient>
<linearGradient id="g89"><stop offset="0.00" stop-color="#313131"/><stop offset="0.16" stop-color="#313131"/><stop offset="0.20" stop-color="#313131"/><stop offset="0.23" stop-color="#313131"/><stop offset="0.25" stop-color="#343434"/><stop offset="0.28" stop-color="#545454"/><stop offset="0.31" stop-color="#7c7c7c"/><stop offset="0.34" stop-color="#838383"/><stop offset="0.38" stop-color="#8c8c8c"/><stop offset="0.43" stop-color="#969696"/><stop offset="0.49" stop-color="#9b9b9b"/><stop offset="0.55" stop-color="#969696"/><stop offset="0.65" stop-color="#818181"/><stop offset="0.79" stop-color="#6b6b6b"/><stop offset="1.00" stop-color="#676767"/></linearGradient>
<linearGradient id="g90"><stop offset="0.00" stop-color="#303030"/><stop offset="0.16" stop-color="#303030"/><stop offset="0.20" stop-color="#303030"/><stop offset="0.23" stop-color="#303030"/><stop offset="0.25" stop-color="#333333"/><stop offset="0.28" stop-color="#555555"/><stop offset="0.31" stop-color="#818181"/><stop offset="0.34" stop-color="#898989"/><stop offset="0.38" stop-color="#939393"/><stop offset="0.43" stop-color="#9d9d9d"/><stop offset="0.49" stop-color="#a3a3a3"/><stop offset="0.55" stop-color="#9d9d9d"/><stop offset="0.65" stop-color="#878787"/><stop offset="0.79" stop-color="#6e6e6e"/><stop offset="1.00" stop-color="#696969"/></linearGradient>
<linearGradient id="g91"><stop offset="0.00" stop-color="#303030"/><stop offset="0.16" stop-color="#303030"/><stop offset="0.20" stop-color="#303030"/><stop offset="0.23" stop-color="#303030"/><stop offset="0.25" stop-color="#333333"/><stop offset="0.28" stop-color="#575757"/><stop offset="0.31" stop-color="#868686"/><stop offset="0.34" stop-color="#8e8e8e"/><stop offset="0.38" stop-color="#999999"/><stop offset="0.43" stop-color="#a4a4a4"/><stop offset="0.49" stop-color="#aaaaaa"/><stop offset="0.55" stop-color="#a4a4a4"/><stop offset="0.65" stop-color="#8c8c8c"/><stop offset="0.79" stop-color="#717171"/><stop offset="1.00" stop-color="#6a6a6a"/></linearGradient>
<linearGradient id="g92"><stop offset="0.00" stop-color="#2f2f2f"/><stop offset="0.16" stop-color="#2f2f2f"/><stop offset="0.20" stop-color="#2f2f2f"/><stop offset="0.23" stop-color="#2f2f2f"/><stop offset="0.25" stop-color="#333333"/><stop offset="0.28" stop-color="#595959"/><stop offset="0.31" stop-color="#8b8b8b"/><stop offset="0.34" stop-color="#949494"/><stop offset="0.38" stop-color="#9f9f9f"/><stop offset="0.43" stop-color="#aaaaaa"/><stop offset="0.49" stop-color="#b0b0b0"/><stop offset="0.55" stop-color="#aaaaaa"/><stop offset="0.65" stop-color="#929292"/><stop offset="0.79" stop-color="#747474"/><stop offset="1.00" stop-color="#6c6c6c"/></linearGradient>
<linearGradient id="g93"><stop offset="0.00" stop-color="#2e2e2e"/><stop offset="0.16" stop-color="#2e2e2e"/><stop offset="0.20" stop-color="#2e2e2e"/><stop offset="0.23" stop-color="#2e2e2e"/><stop offset="0.25" stop-color="#323232"/><stop offset="0.28" stop-color="#5b5b5b"/><stop offset="0.31" stop-color="#909090"/><stop offset="0.34" stop-color="#999999"/><stop offset="0.38" stop-color="#a5a5a5"/><stop offset="0.43" stop-color="#b0b0b0"/><stop offset="0.49" stop-color="#b6b6b6"/><stop offset="0.55" stop-color="#b0b0b0"/><stop offset="0.65" stop-color="#979797"/><stop offset="0.79" stop-color="#777777"/><stop offset="1.00" stop-color="#6e6e6e"/></linearGradient>
<linearGradient id="g94"><stop offset="0.00" stop-color="#2e2e2e"/><stop offset="0.16" stop-color="#2e2e2e"/><stop offset="0.20" stop-color="#2e2e2e"/><stop offset="0.23" stop-color="#2e2e2e"/><stop offset="0.25" stop-color="#323232"/><stop offset="0.28" stop-color="#5d5d5d"/><stop offset="0.31" stop-color="#959595"/><stop offset="0.34" stop-color="#9f9f9f"/><stop offset="0.38" stop-color="#aaaaaa"/><stop offset="0.43" stop-color="#b6b6b6"/><stop offset="0.49" stop-color="#bcbcbc"/><stop offset="0.55" stop-color="#b6b6b6"/><stop offset="0.65" stop-color="#9c9c9c"/><stop offset="0.79" stop-color="#7a7a7a"/><stop offset="1.00" stop-color="#6f6f6f"/></linearGradient>
<linearGradient id="g95"><stop offset="0.00" stop-color="#2d2d2d"/><stop offset="0.16" stop-color="#2d2d2d"/><stop offset="0.20" stop-color="#2d2d2d"/><stop offset="0.23" stop-color="#2d2d2d"/><stop offset="0.25" stop-color="#313131"/><stop offset="0.28" stop-color="#5f5f5f"/><stop offset="0.31" stop-color="#9a9a9a"/><stop offset="0.34" stop-color="#a3a3a3"/><stop offset="0.38" stop-color="#afafaf"/><stop offset="0.43" stop-color="#bababa"/><stop offset="0.49" stop-color="#c1c1c1"/><stop offset="0.55" stop-color="#bababa"/><stop offset="0.65" stop-color="#a1a1a1"/><stop offset="0.79" stop-color="#7e7e7e"/><stop offset="1.00" stop-color="#717171"/></linearGradient>
<linearGradient id="g96"><stop offset="0.00" stop-color="#2d2d2d"/><stop offset="0.16" stop-color="#2d2d2d"/><stop offset="0.20" stop-color="#2d2d2d"/><stop offset="0.23" stop-color="#2d2d2d"/><stop offset="0.25" stop-color="#313131"/><stop offset="0.28" stop-color="#636363"/><stop offset="0.31" stop-color="#a4a4a4"/><stop offset="0.34" stop-color="#afafaf"/><stop offset="0.38" stop-color="#bdbdbd"/><stop offset="0.43" stop-color="#cacaca"/><stop offset="0.49" stop-color="#d1d1d1"/><stop offset="0.55" stop-color="#cacaca"/><stop offset="0.65" stop-color="#acacac"/><stop offset="0.79" stop-color="#828282"/><stop offset="1.00" stop-color="#737373"/></linearGradient>
<linearGradient id="g97"><stop offset="0.00" stop-color="#2c2c2c"/><stop offset="0.16" stop-color="#2c2c2c"/><stop offset="0.20" stop-color="#2c2c2c"/><stop offset="0.23" stop-color="#2c2c2c"/><stop offset="0.25" stop-color="#313131"/><stop offset="0.28" stop-color="#676767"/><stop offset="0.31" stop-color="#b0b0b0"/><stop offset="0.34" stop-color="#bebebe"/><stop offset="0.38" stop-color="#cfcfcf"/><stop offset="0.43" stop-color="#dfdfdf"/><stop offset="0.49" stop-color="#e8e8e8"/><stop offset="0.55" stop-color="#dfdfdf"/><stop offset="0.65" stop-color="#bababa"/><stop offset="0.79" stop-color="#888888"/><stop offset="1.00" stop-color="#757575"/></linearGradient>
<linearGradient id="g98"><stop offset="0.00" stop-color="#2b2b2b"/><stop offset="0.16" stop-color="#2b2b2b"/><stop offset="0.20" stop-color="#2b2b2b"/><stop offset="0.23" stop-color="#2b2b2b"/><stop offset="0.25" stop-color="#303030"/><stop offset="0.28" stop-color="#696969"/><stop offset="0.31" stop-color="#b4b4b4"/><stop offset="0.34" stop-color="#c2c2c2"/><stop offset="0.38" stop-color="#d3d3d3"/><stop offset="0.43" stop-color="#e4e4e4"/><stop offset="0.49" stop-color="#ededed"/><stop offset="0.55" stop-color="#e4e4e4"/><stop offset="0.65" stop-color="#bfbfbf"/><stop offset="0.79" stop-color="#8a8a8a"/><stop offset="1.00" stop-color="#767676"/></linearGradient>
<linearGradient id="g99"><stop offset="0.00" stop-color="#303030"/><stop offset="0.20" stop-color="#303030"/><stop offset="0.40" stop-color="#2e2e2e"/><stop offset="0.52" stop-color="#272727"/><stop offset="0.61" stop-color="#222222"/><stop offset="0.67" stop-color="#202020"/><stop offset="0.71" stop-color="#202020"/><stop offset="0.74" stop-color="#242424"/><stop offset="0.77" stop-color="#5c5c5c"/><stop offset="0.81" stop-color="#989898"/><stop offset="0.86" stop-color="#989898"/><stop offset="1.00" stop-color="#989898"/></linearGradient>
<linearGradient id="g100"><stop offset="0.00" stop-color="#333333"/><stop offset="0.20" stop-color="#333333"/><stop offset="0.40" stop-color="#313131"/><stop offset="0.52" stop-color="#2a2a2a"/><stop offset="0.61" stop-color="#252525"/><stop offset="0.67" stop-color="#232323"/><stop offset="0.71" stop-color="#232323"/><stop offset="0.74" stop-color="#272727"/><stop offset="0.77" stop-color="#5d5d5d"/><stop offset="0.81" stop-color="#969696"/><stop offset="0.86" stop-color="#969696"/><stop offset="1.00" stop-color="#969696"/></linearGradient>
<linearGradient id="g101"><stop offset="0.00" stop-color="#363636"/><stop offset="0.20" stop-color="#363636"/><stop offset="0.40" stop-color="#343434"/><stop offset="0.52" stop-color="#2d2d2d"/><stop offset="0.61" stop-color="#282828"/><stop offset="0.67" stop-color="#272727"/><stop offset="0.71" stop-color="#272727"/><stop offset="0.74" stop-color="#2a2a2a"/><stop offset="0.77" stop-color="#5e5e5e"/><stop offset="0.81" stop-color="#949494"/><stop offset="0.86" stop-color="#949494"/><stop offset="1.00" stop-color="#949494"/></linearGradient>
<linearGradient id="g102"><stop offset="0.00" stop-color="#393939"/><stop offset="0.20" stop-color="#393939"/><stop offset="0.40" stop-color="#373737"/><stop offset="0.52" stop-color="#303030"/><stop offset="0.61" stop-color="#2b2b2b"/><stop offset="0.67" stop-color="#2a2a2a"/><stop offset="0.71" stop-color="#2a2a2a"/><stop offset="0.74" stop-color="#2d2d2d"/><stop offset="0.77" stop-color="#5e5e5e"/><stop offset="0.81" stop-color="#939393"/><stop offset="0.86" stop-color="#939393"/><stop offset="1.00" stop-color="#939393"/></linearGradient>
<linearGradient id="g103"><stop offset="0.00" stop-color="#3d3d3d"/><stop offset="0.20" stop-color="#3d3d3d"/><stop offset="0.40" stop-color="#3b3b3b"/><stop offset="0.52" stop-color="#343434"/><stop offset="0.61" stop-color="#2f2f2f"/><stop offset="0.67" stop-color="#2e2e2e"/><stop offset="0.71" stop-color="#2e2e2e"/><stop offset="0.74" stop-color="#313131"/><stop offset="0.77" stop-color="#5f5f5f"/><stop offset="0.81" stop-color="#919191"/><stop offset="0.86" stop-color="#919191"/><stop offset="1.00" stop-color="#919191"/></linearGradient>
<linearGradient id="g104"><stop offset="0.00" stop-color="#404040"/><stop offset="0.20" stop-color="#404040"/><stop offset="0.40" stop-color="#3e3e3e"/><stop offset="0.52" stop-color="#393939"/><stop offset="0.61" stop-color="#353535"/><stop offset="0.67" stop-color="#343434"/><stop offset="0.71" stop-color="#343434"/><stop offset="0.74" stop-color="#373737"/><stop offset="0.77" stop-color="#626262"/><stop offset="0.81" stop-color="#8f8f8f"/><stop offset="0.86" stop-color="#8f8f8f"/><stop offset="1.00" stop-color="#8f8f8f"/></linearGradient>
<linearGradient id="g105"><stop offset="0.00" stop-color="#444444"/><stop offset="0.20" stop-color="#444444"/><stop offset="0.40" stop-color="#434343"/><stop offset="0.52" stop-color="#404040"/><stop offset="0.61" stop-color="#3d3d3d"/><stop offset="0.67" stop-color="#3d3d3d"/><stop offset="0.71" stop-color="#3d3d3d"/><stop offset="0.74" stop-color="#3f3f3f"/><stop offset="0.77" stop-color="#656565"/><stop offset="0.81" stop-color="#8d8d8d"/><stop offset="0.86" stop-color="#8d8d8d"/><stop offset="1.00" stop-color="#8d8d8d"/></linearGradient>
<linearGradient id="g106"><stop offset="0.00" stop-color="#484848"/><stop offset="0.20" stop-color="#484848"/><stop offset="0.40" stop-color="#474747"/><stop offset="0.52" stop-color="#464646"/><stop offset="0.61" stop-color="#454545"/><stop offset="0.67" stop-color="#454545"/><stop offset="0.71" stop-color="#454545"/><stop offset="0.74" stop-color="#474747"/><stop offset="0.77" stop-color="#686868"/><stop offset="0.81" stop-color="#8a8a8a"/><stop offset="0.86" stop-color="#8a8a8a"/><stop offset="1.00" stop-color="#8a8a8a"/></linearGradient>
<linearGradient id="g107"><stop offset="0.00" stop-color="#4c4c4c"/><stop offset="0.20" stop-color="#4c4c4c"/><stop offset="0.40" stop-color="#4c4c4c"/><stop offset="0.52" stop-color="#4c4c4c"/><stop offset="0.61" stop-color="#4b4b4b"/><stop offset="0.67" stop-color="#4b4b4b"/><stop offset="0.71" stop-color="#4b4b4b"/><stop offset="0.74" stop-color="#4d4d4d"/><stop offset="0.77" stop-color="#6a6a6a"/><stop offset="0.81" stop-color="#888888"/><stop offset="0.86" stop-color="#888888"/><stop offset="1.00" stop-color="#888888"/></linearGradient>
<linearGradient id="g108"><stop offset="0.00" stop-color="#505050"/><stop offset="0.20" stop-color="#505050"/><stop offset="0.40" stop-color="#505050"/><stop offset="0.52" stop-color="#505050"/><stop offset="0.61" stop-color="#505050"/><stop offset="0.67" stop-color="#505050"/><stop offset="0.71" stop-color="#505050"/><stop offset="0.74" stop-color="#515151"/><stop offset="0.77" stop-color="#6b6b6b"/><stop offset="0.81" stop-color="#868686"/><stop offset="0.86" stop-color="#868686"/><stop offset="1.00" stop-color="#868686"/></linearGradient>
<linearGradient id="g109"><stop offset="0.00" stop-color="#747474"/><stop offset="0.20" stop-color="#747474"/><stop offset="0.40" stop-color="#747474"/><stop offset="0.52" stop-color="#747474"/><stop offset="0.61" stop-color="#747474"/><stop offset="0.67" stop-color="#747474"/><stop offset="0.71" stop-color="#747474"/><stop offset="0.74" stop-color="#6f6f6f"/><stop offset="0.77" stop-color="#3a3a3a"/><stop offset="0.81" stop-color="#353535"/><stop offset="0.86" stop-color="#353535"/><stop offset="1.00" stop-color="#353535"/></linearGradient>
<linearGradient id="g110"><stop offset="0.00" stop-color="#767676"/><stop offset="0.20" stop-color="#767676"/><stop offset="0.40" stop-color="#767676"/><stop offset="0.52" stop-color="#767676"/><stop offset="0.61" stop-color="#767676"/><stop offset="0.67" stop-color="#767676"/><stop offset="0.71" stop-color="#767676"/><stop offset="0.74" stop-color="#717171"/><stop offset="0.77" stop-color="#3a3a3a"/><stop offset="0.81" stop-color="#353535"/><stop offset="0.86" stop-color="#353535"/><stop offset="1.00" stop-color="#353535"/></linearGradient>
<linearGradient id="g111"><stop offset="0.00" stop-color="#787878"/><stop offset="0.20" stop-color="#787878"/><stop offset="0.40" stop-color="#787878"/><stop offset="0.52" stop-color="#787878"/><stop offset="0.61" stop-color="#787878"/><stop offset="0.67" stop-color="#787878"/><stop offset="0.71" stop-color="#787878"/><stop offset="0.74" stop-color="#737373"/><stop offset="0.77" stop-color="#3a3a3a"/><stop offset="0.81" stop-color="#353535"/><stop offset="0.86" stop-color="#353535"/><stop offset="1.00" stop-color="#353535"/></linearGradient>
<linearGradient id="g112"><stop offset="0.00" stop-color="#7a7a7a"/><stop offset="0.20" stop-color="#7a7a7a"/><stop offset="0.40" stop-color="#7a7a7a"/><stop offset="0.52" stop-color="#7a7a7a"/><stop offset="0.61" stop-color="#7a7a7a"/><stop offset="0.67" stop-color="#7a7a7a"/><stop offset="0.71" stop-color="#7a7a7a"/><stop offset="0.74" stop-color="#757575"/><stop offset="0.77" stop-color="#3a3a3a"/><stop offset="0.81" stop-color="#353535"/><stop offset="0.86" stop-color="#353535"/><stop offset="1.00" stop-color="#353535"/></linearGradient>
<linearGradient id="g113"><stop offset="0.00" stop-color="#7c7c7c"/><stop offset="0.20" stop-color="#7c7c7c"/><stop offset="0.40" stop-color="#7c7c7c"/><stop offset="0.52" stop-color="#7c7c7c"/><stop offset="0.61" stop-color="#7c7c7c"/><stop offset="0.67" stop-color="#7c7c7c"/><stop offset="0.71" stop-color="#7c7c7c"/><stop offset="0.74" stop-color="#777777"/><stop offset="0.77" stop-color="#3a3a3a"/><stop offset="0.81" stop-color="#343434"/><stop offset="0.86" stop-color="#343434"/><stop offset="1.00" stop-color="#343434"/></linearGradient>
<linearGradient id="g114"><stop offset="0.00" stop-color="#7e7e7e"/><stop offset="0.20" stop-color="#7e7e7e"/><stop offset="0.40" stop-color="#7e7e7e"/><stop offset="0.52" stop-color="#7e7e7e"/><stop offset="0.61" stop-color="#7e7e7e"/><stop offset="0.67" stop-color="#7e7e7e"/><stop offset="0.71" stop-color="#7e7e7e"/><stop offset="0.74" stop-color="#797979"/><stop offset="0.77" stop-color="#3a3a3a"/><stop offset="0.81" stop-color="#343434"/><stop offset="0.86" stop-color="#343434"/><stop offset="1.00" stop-color="#343434"/></linearGradient>
<linearGradient id="g115"><stop offset="0.00" stop-color="#808080"/><stop offset="0.20" stop-color="#808080"/><stop offset="0.40" stop-color="#808080"/><stop offset="0.52" stop-color="#808080"/><stop offset="0.61" stop-color="#808080"/><stop offset="0.67" stop-color="#808080"/><stop offset="0.71" stop-color="#808080"/><stop offset="0.74" stop-color="#7a7a7a"/><stop offset="0.77" stop-color="#393939"/><stop offset="0.81" stop-color="#343434"/><stop offset="0.86" stop-color="#343434"/><stop offset="1.00" stop-color="#343434"/></linearGradient>
<linearGradient id="g116"><stop offset="0.00" stop-color="#828282"/><stop offset="0.20" stop-color="#828282"/><stop offset="0.40" stop-color="#828282"/><stop offset="0.52" stop-color="#828282"/><stop offset="0.61" stop-color="#828282"/><stop offset="0.67" stop-color="#828282"/><stop offset="0.71" stop-color="#828282"/><stop offset="0.74" stop-color="#7c7c7c"/><stop offset="0.77" stop-color="#393939"/><stop offset="0.81" stop-color="#333333"/><stop offset="0.86" stop-color="#333333"/><stop offset="1.00" stop-color="#333333"/></linearGradient>
<linearGradient id="g117"><stop offset="0.00" stop-color="#838383"/><stop offset="0.20" stop-color="#838383"/><stop offset="0.40" stop-color="#838383"/><stop offset="0.52" stop-color="#838383"/><stop offset="0.61" stop-color="#838383"/><stop offset="0.67" stop-color="#838383"/><stop offset="0.71" stop-color="#838383"/><stop offset="0.74" stop-color="#7d7d7d"/><stop offset="0.77" stop-color="#393939"/><stop offset="0.81" stop-color="#333333"/><stop offset="0.86" stop-color="#333333"/><stop offset="1.00" stop-color="#333333"/></linearGradient>
<linearGradient id="g118"><stop offset="0.00" stop-color="#858585"/><stop offset="0.20" stop-color="#858585"/><stop offset="0.40" stop-color="#858585"/><stop offset="0.52" stop-color="#868686"/><stop offset="0.61" stop-color="#878787"/><stop offset="0.67" stop-color="#878787"/><stop offset="0.71" stop-color="#878787"/><stop offset="0.74" stop-color="#818181"/><stop offset="0.77" stop-color="#393939"/><stop offset="0.81" stop-color="#333333"/><stop offset="0.86" stop-color="#333333"/><stop offset="1.00" stop-color="#333333"/></linearGradient>
<linearGradient id="g119"><stop offset="0.00" stop-color="#868686"/><stop offset="0.20" stop-color="#868686"/><stop offset="0.40" stop-color="#878787"/><stop offset="0.52" stop-color="#8a8a8a"/><stop offset="0.61" stop-color="#8b8b8b"/><stop offset="0.67" stop-color="#8b8b8b"/><stop offset="0.71" stop-color="#8b8b8b"/><stop offset="0.74" stop-color="#858585"/><stop offset="0.77" stop-color="#393939"/><stop offset="0.81" stop-color="#333333"/><stop offset="0.86" stop-color="#333333"/><stop offset="1.00" stop-color="#333333"/></linearGradient>
<linearGradient id="g120"><stop offset="0.00" stop-color="#888888"/><stop offset="0.20" stop-color="#888888"/><stop offset="0.40" stop-color="#8a8a8a"/><stop offset="0.52" stop-color="#8e8e8e"/><stop offset="0.61" stop-color="#909090"/><stop offset="0.67" stop-color="#909090"/><stop offset="0.71" stop-color="#909090"/><stop offset="0.74" stop-color="#898989"/><stop offset="0.77" stop-color="#393939"/><stop offset="0.81" stop-color="#323232"/><stop offset="0.86" stop-color="#323232"/><stop offset="1.00" stop-color="#323232"/></linearGradient>
<linearGradient id="g121"><stop offset="0.00" stop-color="#898989"/><stop offset="0.20" stop-color="#898989"/><stop offset="0.40" stop-color="#8c8c8c"/><stop offset="0.52" stop-color="#929292"/><stop offset="0.61" stop-color="#959595"/><stop offset="0.67" stop-color="#959595"/><stop offset="0.71" stop-color="#959595"/><stop offset="0.74" stop-color="#8e8e8e"/><stop offset="0.77" stop-color="#393939"/><stop offset="0.81" stop-color="#323232"/><stop offset="0.86" stop-color="#323232"/><stop offset="1.00" stop-color="#323232"/></linearGradient>
<linearGradient id="g122"><stop offset="0.00" stop-color="#8c8c8c"/><stop offset="0.20" stop-color="#8c8c8c"/><stop offset="0.40" stop-color="#909090"/><stop offset="0.52" stop-color="#979797"/><stop offset="0.61" stop-color="#9b9b9b"/><stop offset="0.67" stop-color="#9b9b9b"/><stop offset="0.71" stop-color="#9b9b9b"/><stop offset="0.74" stop-color="#939393"/><stop offset="0.77" stop-color="#3a3a3a"/><stop offset="0.81" stop-color="#323232"/><stop offset="0.86" stop-color="#323232"/><stop offset="1.00" stop-color="#323232"/></linearGradient>
<linearGradient id="g123"><stop offset="0.00" stop-color="#8e8e8e"/><stop offset="0.20" stop-color="#8e8e8e"/><stop offset="0.40" stop-color="#939393"/><stop offset="0.52" stop-color="#9c9c9c"/><stop offset="0.61" stop-color="#a0a0a0"/><stop offset="0.67" stop-color="#a1a1a1"/><stop offset="0.71" stop-color="#a1a1a1"/><stop offset="0.74" stop-color="#989898"/><stop offset="0.77" stop-color="#3a3a3a"/><stop offset="0.81" stop-color="#323232"/><stop offset="0.86" stop-color="#323232"/><stop offset="1.00" stop-color="#323232"/></linearGradient>
<linearGradient id="g124"><stop offset="0.00" stop-color="#919191"/><stop offset="0.20" stop-color="#919191"/><stop offset="0.40" stop-color="#969696"/><stop offset="0.52" stop-color="#a0a0a0"/><stop offset="0.61" stop-color="#a5a5a5"/><stop offset="0.67" stop-color="#a5a5a5"/><stop offset="0.71" stop-color="#a5a5a5"/><stop offset="0.74" stop-color="#9d9d9d"/><stop offset="0.77" stop-color="#3a3a3a"/><stop offset="0.81" stop-color="#313131"/><stop offset="0.86" stop-color="#313131"/><stop offset="1.00" stop-color="#313131"/></linearGradient>
<linearGradient id="g125"><stop offset="0.00" stop-color="#949494"/><stop offset="0.20" stop-color="#949494"/><stop offset="0.40" stop-color="#999999"/><stop offset="0.52" stop-color="#a3a3a3"/><stop offset="0.61" stop-color="#a8a8a8"/><stop offset="0.67" stop-color="#a8a8a8"/><stop offset="0.71" stop-color="#a8a8a8"/><stop offset="0.74" stop-color="#9f9f9f"/><stop offset="0.77" stop-color="#3a3a3a"/><stop offset="0.81" stop-color="#313131"/><stop offset="0.86" stop-color="#313131"/><stop offset="1.00" stop-color="#313131"/></linearGradient>
<linearGradient id="g126"><stop offset="0.00" stop-color="#979797"/><stop offset="0.20" stop-color="#979797"/><stop offset="0.40" stop-color="#9c9c9c"/><stop offset="0.52" stop-color="#a6a6a6"/><stop offset="0.61" stop-color="#ababab"/><stop offset="0.67" stop-color="#ababab"/><stop offset="0.71" stop-color="#ababab"/><stop offset="0.74" stop-color="#a2a2a2"/><stop offset="0.77" stop-color="#3a3a3a"/><stop offset="0.81" stop-color="#313131"/><stop offset="0.86" stop-color="#313131"/><stop offset="1.00" stop-color="#313131"/></linearGradient>
<linearGradient id="g127"><stop offset="0.00" stop-color="#999999"/><stop offset="0.20" stop-color="#999999"/><stop offset="0.40" stop-color="#9e9e9e"/><stop offset="0.52" stop-color="#a8a8a8"/><stop offset="0.61" stop-color="#adadad"/><stop offset="0.67" stop-color="#adadad"/><stop offset="0.71" stop-color="#adadad"/><stop offset="0.74" stop-color="#a4a4a4"/><stop offset="0.77" stop-color="#3a3a3a"/><stop offset="0.81" stop-color="#303030"/><stop offset="0.86" stop-color="#303030"/><stop offset="1.00" stop-color="#303030"/></linearGradient>
<linearGradient id="g128"><stop offset="0.00" stop-color="#5c5c5c"/><stop offset="0.20" stop-color="#5c5c5c"/><stop offset="0.40" stop-color="#5c5c5c"/><stop offset="0.52" stop-color="#5c5c5c"/><stop offset="0.61" stop-color="#5c5c5c"/><stop offset="0.67" stop-color="#5c5c5c"/><stop offset="0.71" stop-color="#5c5c5c"/><stop offset="0.74" stop-color="#5c5c5c"/><stop offset="0.77" stop-color="#575757"/><stop offset="0.81" stop-color="#4f4f4f"/><stop offset="0.86" stop-color="#4e4e4e"/><stop offset="1.00" stop-color="#4e4e4e"/></linearGradient>
<linearGradient id="g129"><stop offset="0.00" stop-color="#5c5c5c"/><stop offset="0.20" stop-color="#5c5c5c"/><stop offset="0.40" stop-color="#5c5c5c"/><stop offset="0.52" stop-color="#5c5c5c"/><stop offset="0.61" stop-color="#5c5c5c"/><stop offset="0.67" stop-color="#5c5c5c"/><stop offset="0.71" stop-color="#5c5c5c"/><stop offset="0.74" stop-color="#5c5c5c"/><stop offset="0.77" stop-color="#575757"/><stop offset="0.81" stop-color="#4e4e4e"/><stop offset="0.86" stop-color="#4d4d4d"/><stop offset="1.00" stop-color="#4d4d4d"/></linearGradient>
<linearGradient id="g130"><stop offset="0.00" stop-color="#5d5d5d"/><stop offset="0.20" stop-color="#5d5d5d"/><stop offset="0.40" stop-color="#5d5d5d"/><stop offset="0.52" stop-color="#5d5d5d"/><stop offset="0.61" stop-color="#5d5d5d"/><stop offset="0.67" stop-color="#5d5d5d"/><stop offset="0.71" stop-color="#5d5d5d"/><stop offset="0.74" stop-color="#5d5d5d"/><stop offset="0.77" stop-color="#565656"/><stop offset="0.81" stop-color="#4d4d4d"/><stop offset="0.86" stop-color="#4c4c4c"/><stop offset="1.00" stop-color="#4c4c4c"/></linearGradient>
<linearGradient id="g131"><stop offset="0.00" stop-color="#5d5d5d"/><stop offset="0.20" stop-color="#5d5d5d"/><stop offset="0.40" stop-color="#5d5d5d"/><stop offset="0.52" stop-color="#5d5d5d"/><stop offset="0.61" stop-color="#5d5d5d"/><stop offset="0.67" stop-color="#5d5d5d"/><stop offset="0.71" stop-color="#5d5d5d"/><stop offset="0.74" stop-color="#5d5d5d"/><stop offset="0.77" stop-color="#565656"/><stop offset="0.81" stop-color="#4c4c4c"/><stop offset="0.86" stop-color="#4b4b4b"/><stop offset="1.00" stop-color="#4b4b4b"/></linearGradient>
<linearGradient id="g132"><stop offset="0.00" stop-color="#5e5e5e"/><stop offset="0.20" stop-color="#5e5e5e"/><stop offset="0.40" stop-color="#5e5e5e"/><stop offset="0.52" stop-color="#5e5e5e"/><stop offset="0.61" stop-color="#5e5e5e"/><stop offset="0.67" stop-color="#5e5e5e"/><stop offset="0.71" stop-color="#5e5e5e"/><stop offset="0.74" stop-color="#5d5d5d"/><stop offset="0.77" stop-color="#565656"/><stop offset="0.81" stop-color="#4b4b4b"/><stop offset="0.86" stop-color="#494949"/><stop offset="1.00" stop-color="#494949"/></linearGradient>
<linearGradient id="g133"><stop offset="0.00" stop-color="#5e5e5e"/><stop offset="0.20" stop-color="#5e5e5e"/><stop offset="0.40" stop-color="#5e5e5e"/><stop offset="0.52" stop-color="#5e5e5e"/><stop offset="0.61" stop-color="#5e5e5e"/><stop offset="0.67" stop-color="#5e5e5e"/><stop offset="0.71" stop-color="#5e5e5e"/><stop offset="0.74" stop-color="#5e5e5e"/><stop offset="0.77" stop-color="#565656"/><stop offset="0.81" stop-color="#4a4a4a"/><stop offset="0.86" stop-color="#484848"/><stop offset="1.00" stop-color="#484848"/></linearGradient>
<linearGradient id="g134"><stop offset="0.00" stop-color="#5f5f5f"/><stop offset="0.20" stop-color="#5f5f5f"/><stop offset="0.40" stop-color="#5f5f5f"/><stop offset="0.52" stop-color="#5f5f5f"/><stop offset="0.61" stop-color="#5f5f5f"/><stop offset="0.67" stop-color="#5f5f5f"/><stop offset="0.71" stop-color="#5f5f5f"/><stop offset="0.74" stop-color="#5e5e5e"/><stop offset="0.77" stop-color="#565656"/><stop offset="0.81" stop-color="#494949"/><stop offset="0.86" stop-color="#474747"/><stop offset="1.00" stop-color="#474747"/></linearGradient>
<linearGradient id="g135"><stop offset="0.00" stop-color="#5f5f5f"/><stop offset="0.20" stop-color="#5f5f5f"/><stop offset="0.40" stop-color="#5f5f5f"/><stop offset="0.52" stop-color="#5f5f5f"/><stop offset="0.61" stop-color="#5f5f5f"/><stop offset="0.67" stop-color="#5f5f5f"/><stop offset="0.71" stop-color="#5f5f5f"/><stop offset="0.74" stop-color="#5e5e5e"/><stop offset="0.77" stop-color="#555555"/><stop offset="0.81" stop-color="#474747"/><stop offset="0.86" stop-color="#454545"/><stop offset="1.00" stop-color="#454545"/></linearGradient>
<linearGradient id="g136"><stop offset="0.00" stop-color="#5f5f5f"/><stop offset="0.20" stop-color="#5f5f5f"/><stop offset="0.40" stop-color="#5f5f5f"/><stop offset="0.52" stop-color="#5f5f5f"/><stop offset="0.61" stop-color="#5f5f5f"/><stop offset="0.67" stop-color="#5f5f5f"/><stop offset="0.71" stop-color="#5f5f5f"/><stop offset="0.74" stop-color="#5f5f5f"/><stop offset="0.77" stop-color="#555555"/><stop offset="0.81" stop-color="#464646"/><stop offset="0.86" stop-color="#444444"/><stop offset="1.00" stop-color="#444444"/></linearGradient>
<linearGradient id="g137"><stop offset="0.00" stop-color="#606060"/><stop offset="0.20" stop-color="#606060"/><stop offset="0.40" stop-color="#606060"/><stop offset="0.52" stop-color="#606060"/><stop offset="0.61" stop-color="#606060"/><stop offset="0.67" stop-color="#606060"/><stop offset="0.71" stop-color="#606060"/><stop offset="0.74" stop-color="#5f5f5f"/><stop offset="0.77" stop-color="#555555"/><stop offset="0.81" stop-color="#454545"/><stop offset="0.86" stop-color="#434343"/><stop offset="1.00" stop-color="#434343"/></linearGradient>
<linearGradient id="g138"><stop offset="0.00" stop-color="#606060"/><stop offset="0.20" stop-color="#606060"/><stop offset="0.40" stop-color="#606060"/><stop offset="0.52" stop-color="#606060"/><stop offset="0.61" stop-color="#606060"/><stop offset="0.67" stop-color="#606060"/><stop offset="0.71" stop-color="#606060"/><stop offset="0.74" stop-color="#606060"/><stop offset="0.77" stop-color="#555555"/><stop offset="0.81" stop-color="#444444"/><stop offset="0.86" stop-color="#424242"/><stop offset="1.00" stop-color="#424242"/></linearGradient>
<linearGradient id="g139"><stop offset="0.00" stop-color="#616161"/><stop offset="0.20" stop-color="#616161"/><stop offset="0.40" stop-color="#616161"/><stop offset="0.52" stop-color="#616161"/><stop offset="0.61" stop-color="#616161"/><stop offset="0.67" stop-color="#616161"/><stop offset="0.71" stop-color="#616161"/><stop offset="0.74" stop-color="#606060"/><stop offset="0.77" stop-color="#555555"/><stop offset="0.81" stop-color="#434343"/><stop offset="0.86" stop-color="#404040"/><stop offset="1.00" stop-color="#404040"/></linearGradient>
<linearGradient id="g140"><stop offset="0.00" stop-color="#616161"/><stop offset="0.20" stop-color="#616161"/><stop offset="0.40" stop-color="#616161"/><stop offset="0.52" stop-color="#616161"/><stop offset="0.61" stop-color="#616161"/><stop offset="0.67" stop-color="#616161"/><stop offset="0.71" stop-color="#616161"/><stop offset="0.74" stop-color="#616161"/><stop offset="0.77" stop-color="#555555"/><stop offset="0.81" stop-color="#424242"/><stop offset="0.86" stop-color="#3f3f3f"/><stop offset="1.00" stop-color="#3f3f3f"/></linearGradient>
<linearGradient id="g141"><stop offset="0.00" stop-color="#626262"/><stop offset="0.20" stop-color="#626262"/><stop offset="0.40" stop-color="#626262"/><stop offset="0.52" stop-color="#626262"/><stop offset="0.61" stop-color="#626262"/><stop offset="0.67" stop-color="#626262"/><stop offset="0.71" stop-color="#626262"/><stop offset="0.74" stop-color="#616161"/><stop offset="0.77" stop-color="#555555"/><stop offset="0.81" stop-color="#414141"/><stop offset="0.86" stop-color="#3f3f3f"/><stop offset="1.00" stop-color="#3f3f3f"/></linearGradient>
<linearGradient id="g142"><stop offset="0.00" stop-color="#636363"/><stop offset="0.20" stop-color="#636363"/><stop offset="0.40" stop-color="#636363"/><stop offset="0.52" stop-color="#636363"/><stop offset="0.61" stop-color="#636363"/><stop offset="0.67" stop-color="#636363"/><stop offset="0.71" stop-color="#636363"/><stop offset="0.74" stop-color="#626262"/><stop offset="0.77" stop-color="#555555"/><stop offset="0.81" stop-color="#414141"/><stop offset="0.86" stop-color="#3e3e3e"/><stop offset="1.00" stop-color="#3e3e3e"/></linearGradient>
<linearGradient id="g143"><stop offset="0.00" stop-color="#646464"/><stop offset="0.20" stop-color="#646464"/><stop offset="0.40" stop-color="#646464"/><stop offset="0.52" stop-color="#646464"/><stop offset="0.61" stop-color="#646464"/><stop offset="0.67" stop-color="#646464"/><stop offset="0.71" stop-color="#646464"/><stop offset="0.74" stop-color="#636363"/><stop offset="0.77" stop-color="#555555"/><stop offset="0.81" stop-color="#404040"/><stop offset="0.86" stop-color="#3d3d3d"/><stop offset="1.00" stop-color="#3d3d3d"/></linearGradient>
<linearGradient id="g144"><stop offset="0.00" stop-color="#646464"/><stop offset="0.20" stop-color="#646464"/><stop offset="0.40" stop-color="#646464"/><stop offset="0.52" stop-color="#646464"/><stop offset="0.61" stop-color="#646464"/><stop offset="0.67" stop-color="#646464"/><stop offset="0.71" stop-color="#646464"/><stop offset="0.74" stop-color="#646464"/><stop offset="0.77" stop-color="#555555"/><stop offset="0.81" stop-color="#3f3f3f"/><stop offset="0.86" stop-color="#3c3c3c"/><stop offset="1.00" stop-color="#3c3c3c"/></linearGradient>
<linearGradient id="g145"><stop offset="0.00" stop-color="#656565"/><stop offset="0.20" stop-color="#656565"/><stop offset="0.40" stop-color="#656565"/><stop offset="0.52" stop-color="#656565"/><stop offset="0.61" stop-color="#656565"/><stop offset="0.67" stop-color="#656565"/><stop offset="0.71" stop-color="#656565"/><stop offset="0.74" stop-color="#646464"/><stop offset="0.77" stop-color="#555555"/><stop offset="0.81" stop-color="#3f3f3f"/><stop offset="0.86" stop-color="#3b3b3b"/><stop offset="1.00" stop-color="#3b3b3b"/></linearGradient>
<linearGradient id="g146"><stop offset="0.00" stop-color="#666666"/><stop offset="0.20" stop-color="#666666"/><stop offset="0.40" stop-color="#666666"/><stop offset="0.52" stop-color="#666666"/><stop offset="0.61" stop-color="#666666"/><stop offset="0.67" stop-color="#666666"/><stop offset="0.71" stop-color="#666666"/><stop offset="0.74" stop-color="#656565"/><stop offset="0.77" stop-color="#565656"/><stop offset="0.81" stop-color="#3e3e3e"/><stop offset="0.86" stop-color="#3b3b3b"/><stop offset="1.00" stop-color="#3b3b3b"/></linearGradient>
<linearGradient id="g147"><stop offset="0.00" stop-color="#676767"/><stop offset="0.20" stop-color="#676767"/><stop offset="0.40" stop-color="#676767"/><stop offset="0.52" stop-color="#676767"/><stop offset="0.61" stop-color="#676767"/><stop offset="0.67" stop-color="#676767"/><stop offset="0.71" stop-color="#676767"/><stop offset="0.74" stop-color="#666666"/><stop offset="0.77" stop-color="#565656"/><stop offset="0.81" stop-color="#3d3d3d"/><stop offset="0.86" stop-color="#3a3a3a"/><stop offset="1.00" stop-color="#3a3a3a"/></linearGradient>
<linearGradient id="g148"><stop offset="0.00" stop-color="#686868"/><stop offset="0.20" stop-color="#686868"/><stop offset="0.40" stop-color="#686868"/><stop offset="0.52" stop-color="#686868"/><stop offset="0.61" stop-color="#686868"/><stop offset="0.67" stop-color="#686868"/><stop offset="0.71" stop-color="#686868"/><stop offset="0.74" stop-color="#676767"/><stop offset="0.77" stop-color="#565656"/><stop offset="0.81" stop-color="#3d3d3d"/><stop offset="0.86" stop-color="#393939"/><stop offset="1.00" stop-color="#393939"/></linearGradient>
<linearGradient id="g149"><stop offset="0.00" stop-color="#686868"/><stop offset="0.20" stop-color="#686868"/><stop offset="0.40" stop-color="#686868"/><stop offset="0.52" stop-color="#686868"/><stop offset="0.61" stop-color="#686868"/><stop offset="0.67" stop-color="#686868"/><stop offset="0.71" stop-color="#686868"/><stop offset="0.74" stop-color="#676767"/><stop offset="0.77" stop-color="#565656"/><stop offset="0.81" stop-color="#3c3c3c"/><stop offset="0.86" stop-color="#383838"/><stop offset="1.00" stop-color="#383838"/></linearGradient>
<linearGradient id="g150"><stop offset="0.00" stop-color="#696969"/><stop offset="0.20" stop-color="#696969"/><stop offset="0.40" stop-color="#696969"/><stop offset="0.52" stop-color="#696969"/><stop offset="0.61" stop-color="#696969"/><stop offset="0.67" stop-color="#696969"/><stop offset="0.71" stop-color="#696969"/><stop offset="0.74" stop-color="#686868"/><stop offset="0.77" stop-color="#565656"/><stop offset="0.81" stop-color="#3b3b3b"/><stop offset="0.86" stop-color="#383838"/><stop offset="1.00" stop-color="#383838"/></linearGradient>
<linearGradient id="g151"><stop offset="0.00" stop-color="#6a6a6a"/><stop offset="0.20" stop-color="#6a6a6a"/><stop offset="0.40" stop-color="#6a6a6a"/><stop offset="0.52" stop-color="#6a6a6a"/><stop offset="0.61" stop-color="#6a6a6a"/><stop offset="0.67" stop-color="#6a6a6a"/><stop offset="0.71" stop-color="#6a6a6a"/><stop offset="0.74" stop-color="#696969"/><stop offset="0.77" stop-color="#575757"/><stop offset="0.81" stop-color="#3b3b3b"/><stop offset="0.86" stop-color="#373737"/><stop offset="1.00" stop-color="#373737"/></linearGradient>
<linearGradient id="g152"><stop offset="0.00" stop-color="#6b6b6b"/><stop offset="0.20" stop-color="#6b6b6b"/><stop offset="0.40" stop-color="#6b6b6b"/><stop offset="0.52" stop-color="#6b6b6b"/><stop offset="0.61" stop-color="#6b6b6b"/><stop offset="0.67" stop-color="#6b6b6b"/><stop offset="0.71" stop-color="#6b6b6b"/><stop offset="0.74" stop-color="#6a6a6a"/><stop offset="0.77" stop-color="#575757"/><stop offset="0.81" stop-color="#3a3a3a"/><stop offset="0.86" stop-color="#363636"/><stop offset="1.00" stop-color="#363636"/></linearGradient>
<linearGradient id="g153"><stop offset="0.00" stop-color="#848484"/><stop offset="0.13" stop-color="#848484"/><stop offset="0.17" stop-color="#848484"/><stop offset="0.20" stop-color="#848484"/><stop offset="0.24" stop-color="#848484"/><stop offset="0.27" stop-color="#7d7d7d"/><stop offset="0.31" stop-color="#474747"/><stop offset="0.36" stop-color="#232323"/><stop offset="0.43" stop-color="#232323"/><stop offset="0.51" stop-color="#232323"/><stop offset="0.63" stop-color="#232323"/><stop offset="0.79" stop-color="#232323"/><stop offset="1.00" stop-color="#232323"/></linearGradient>
<linearGradient id="g154"><stop offset="0.00" stop-color="#838383"/><stop offset="0.13" stop-color="#838383"/><stop offset="0.17" stop-color="#838383"/><stop offset="0.20" stop-color="#838383"/><stop offset="0.24" stop-color="#838383"/><stop offset="0.27" stop-color="#7c7c7c"/><stop offset="0.31" stop-color="#494949"/><stop offset="0.36" stop-color="#262626"/><stop offset="0.43" stop-color="#262626"/><stop offset="0.51" stop-color="#262626"/><stop offset="0.63" stop-color="#262626"/><stop offset="0.79" stop-color="#262626"/><stop offset="1.00" stop-color="#262626"/></linearGradient>
<linearGradient id="g155"><stop offset="0.00" stop-color="#828282"/><stop offset="0.13" stop-color="#828282"/><stop offset="0.17" stop-color="#828282"/><stop offset="0.20" stop-color="#828282"/><stop offset="0.24" stop-color="#828282"/><stop offset="0.27" stop-color="#7c7c7c"/><stop offset="0.31" stop-color="#4b4b4b"/><stop offset="0.36" stop-color="#292929"/><stop offset="0.43" stop-color="#292929"/><stop offset="0.51" stop-color="#292929"/><stop offset="0.63" stop-color="#292929"/><stop offset="0.79" stop-color="#292929"/><stop offset="1.00" stop-color="#292929"/></linearGradient>
<linearGradient id="g156"><stop offset="0.00" stop-color="#818181"/><stop offset="0.13" stop-color="#818181"/><stop offset="0.17" stop-color="#818181"/><stop offset="0.20" stop-color="#818181"/><stop offset="0.24" stop-color="#818181"/><stop offset="0.27" stop-color="#7b7b7b"/><stop offset="0.31" stop-color="#4d4d4d"/><stop offset="0.36" stop-color="#2d2d2d"/><stop offset="0.43" stop-color="#2d2d2d"/><stop offset="0.51" stop-color="#2d2d2d"/><stop offset="0.63" stop-color="#2d2d2d"/><stop offset="0.79" stop-color="#2d2d2d"/><stop offset="1.00" stop-color="#2d2d2d"/></linearGradient>
<linearGradient id="g157"><stop offset="0.00" stop-color="#808080"/><stop offset="0.13" stop-color="#808080"/><stop offset="0.17" stop-color="#808080"/><stop offset="0.20" stop-color="#808080"/><stop offset="0.24" stop-color="#808080"/><stop offset="0.27" stop-color="#7b7b7b"/><stop offset="0.31" stop-color="#4f4f4f"/><stop offset="0.36" stop-color="#313131"/><stop offset="0.43" stop-color="#313131"/><stop offset="0.51" stop-color="#313131"/><stop offset="0.63" stop-color="#313131"/><stop offset="0.79" stop-color="#313131"/><stop offset="1.00" stop-color="#313131"/></linearGradient>
<linearGradient id="g158"><stop offset="0.00" stop-color="#808080"/><stop offset="0.13" stop-color="#808080"/><stop offset="0.17" stop-color="#808080"/><stop offset="0.20" stop-color="#808080"/><stop offset="0.24" stop-color="#808080"/><stop offset="0.27" stop-color="#7a7a7a"/><stop offset="0.31" stop-color="#525252"/><stop offset="0.36" stop-color="#363636"/><stop offset="0.43" stop-color="#363636"/><stop offset="0.51" stop-color="#363636"/><stop offset="0.63" stop-color="#363636"/><stop offset="0.79" stop-color="#363636"/><stop offset="1.00" stop-color="#363636"/></linearGradient>
<linearGradient id="g159"><stop offset="0.00" stop-color="#808080"/><stop offset="0.13" stop-color="#808080"/><stop offset="0.17" stop-color="#808080"/><stop offset="0.20" stop-color="#808080"/><stop offset="0.24" stop-color="#808080"/><stop offset="0.27" stop-color="#7a7a7a"/><stop offset="0.31" stop-color="#555555"/><stop offset="0.36" stop-color="#3b3b3b"/><stop offset="0.43" stop-color="#3b3b3b"/><stop offset="0.51" stop-color="#3b3b3b"/><stop offset="0.63" stop-color="#3b3b3b"/><stop offset="0.79" stop-color="#3b3b3b"/><stop offset="1.00" stop-color="#3b3b3b"/></linearGradient>
<linearGradient id="g160"><stop offset="0.00" stop-color="#808080"/><stop offset="0.13" stop-color="#808080"/><stop offset="0.17" stop-color="#808080"/><stop offset="0.20" stop-color="#808080"/><stop offset="0.24" stop-color="#808080"/><stop offset="0.27" stop-color="#7b7b7b"/><stop offset="0.31" stop-color="#585858"/><stop offset="0.36" stop-color="#404040"/><stop offset="0.43" stop-color="#404040"/><stop offset="0.51" stop-color="#404040"/><stop offset="0.63" stop-color="#404040"/><stop offset="0.79" stop-color="#404040"/><stop offset="1.00" stop-color="#404040"/></linearGradient>
<linearGradient id="g161"><stop offset="0.00" stop-color="#808080"/><stop offset="0.13" stop-color="#808080"/><stop offset="0.17" stop-color="#808080"/><stop offset="0.20" stop-color="#808080"/><stop offset="0.24" stop-color="#808080"/><stop offset="0.27" stop-color="#7b7b7b"/><stop offset="0.31" stop-color="#5b5b5b"/><stop offset="0.36" stop-color="#454545"/><stop offset="0.43" stop-color="#454545"/><stop offset="0.51" stop-color="#454545"/><stop offset="0.63" stop-color="#454545"/><stop offset="0.79" stop-color="#454545"/><stop offset="1.00" stop-color="#454545"/></linearGradient>
<linearGradient id="g162"><stop offset="0.00" stop-color="#808080"/><stop offset="0.13" stop-color="#808080"/><stop offset="0.17" stop-color="#808080"/><stop offset="0.20" stop-color="#808080"/><stop offset="0.24" stop-color="#808080"/><stop offset="0.27" stop-color="#7c7c7c"/><stop offset="0.31" stop-color="#5e5e5e"/><stop offset="0.36" stop-color="#4a4a4a"/><stop offset="0.43" stop-color="#4a4a4a"/><stop offset="0.51" stop-color="#4a4a4a"/><stop offset="0.63" stop-color="#4a4a4a"/><stop offset="0.79" stop-color="#4a4a4a"/><stop offset="1.00" stop-color="#4a4a4a"/></linearGradient>
<linearGradient id="g163"><stop offset="0.00" stop-color="#363636"/><stop offset="0.13" stop-color="#2b2b2b"/><stop offset="0.17" stop-color="#2b2b2b"/><stop offset="0.20" stop-color="#2b2b2b"/><stop offset="0.24" stop-color="#2b2b2b"/><stop offset="0.27" stop-color="#3c3c3c"/><stop offset="0.31" stop-color="#636363"/><stop offset="0.36" stop-color="#737373"/><stop offset="0.43" stop-color="#737373"/><stop offset="0.51" stop-color="#737373"/><stop offset="0.63" stop-color="#737373"/><stop offset="0.79" stop-color="#737373"/><stop offset="1.00" stop-color="#737373"/></linearGradient>
<linearGradient id="g164"><stop offset="0.00" stop-color="#363636"/><stop offset="0.13" stop-color="#2b2b2b"/><stop offset="0.17" stop-color="#2b2b2b"/><stop offset="0.20" stop-color="#2b2b2b"/><stop offset="0.24" stop-color="#2b2b2b"/><stop offset="0.27" stop-color="#3c3c3c"/><stop offset="0.31" stop-color="#646464"/><stop offset="0.36" stop-color="#747474"/><stop offset="0.43" stop-color="#747474"/><stop offset="0.51" stop-color="#747474"/><stop offset="0.63" stop-color="#747474"/><stop offset="0.79" stop-color="#747474"/><stop offset="1.00" stop-color="#747474"/></linearGradient>
<linearGradient id="g165"><stop offset="0.00" stop-color="#363636"/><stop offset="0.13" stop-color="#2b2b2b"/><stop offset="0.17" stop-color="#2b2b2b"/><stop offset="0.20" stop-color="#2b2b2b"/><stop offset="0.24" stop-color="#2b2b2b"/><stop offset="0.27" stop-color="#3c3c3c"/><stop offset="0.31" stop-color="#646464"/><stop offset="0.36" stop-color="#757575"/><stop offset="0.43" stop-color="#757575"/><stop offset="0.51" stop-color="#757575"/><stop offset="0.63" stop-color="#757575"/><stop offset="0.79" stop-color="#757575"/><stop offset="1.00" stop-color="#757575"/></linearGradient>
<linearGradient id="g166"><stop offset="0.00" stop-color="#363636"/><stop offset="0.13" stop-color="#2b2b2b"/><stop offset="0.17" stop-color="#2b2b2b"/><stop offset="0.20" stop-color="#2b2b2b"/><stop offset="0.24" stop-color="#2b2b2b"/><stop offset="0.27" stop-color="#3c3c3c"/><stop offset="0.31" stop-color="#656565"/><stop offset="0.36" stop-color="#767676"/><stop offset="0.43" stop-color="#767676"/><stop offset="0.51" stop-color="#767676"/><stop offset="0.63" stop-color="#767676"/><stop offset="0.79" stop-color="#767676"/><stop offset="1.00" stop-color="#767676"/></linearGradient>
<linearGradient id="g167"><stop offset="0.00" stop-color="#363636"/><stop offset="0.13" stop-color="#2b2b2b"/><stop offset="0.17" stop-color="#2b2b2b"/><stop offset="0.20" stop-color="#2b2b2b"/><stop offset="0.24" stop-color="#2b2b2b"/><stop offset="0.27" stop-color="#3c3c3c"/><stop offset="0.31" stop-color="#666666"/><stop offset="0.36" stop-color="#767676"/><stop offset="0.43" stop-color="#767676"/><stop offset="0.51" stop-color="#767676"/><stop offset="0.63" stop-color="#767676"/><stop offset="0.79" stop-color="#767676"/><stop offset="1.00" stop-color="#767676"/></linearGradient>
<linearGradient id="g168"><stop offset="0.00" stop-color="#363636"/><stop offset="0.13" stop-color="#2b2b2b"/><stop offset="0.17" stop-color="#2b2b2b"/><stop offset="0.20" stop-color="#2b2b2b"/><stop offset="0.24" stop-color="#2b2b2b"/><stop offset="0.27" stop-color="#3c3c3c"/><stop offset="0.31" stop-color="#666666"/><stop offset="0.36" stop-color="#777777"/><stop offset="0.43" stop-color="#777777"/><stop offset="0.51" stop-color="#777777"/><stop offset="0.63" stop-color="#777777"/><stop offset="0.79" stop-color="#777777"/><stop offset="1.00" stop-color="#777777"/></linearGradient>
<linearGradient id="g169"><stop offset="0.00" stop-color="#363636"/><stop offset="0.13" stop-color="#2b2b2b"/><stop offset="0.17" stop-color="#2b2b2b"/><stop offset="0.20" stop-color="#2b2b2b"/><stop offset="0.24" stop-color="#2b2b2b"/><stop offset="0.27" stop-color="#3d3d3d"/><stop offset="0.31" stop-color="#676767"/><stop offset="0.36" stop-color="#787878"/><stop offset="0.43" stop-color="#787878"/><stop offset="0.51" stop-color="#787878"/><stop offset="0.63" stop-color="#787878"/><stop offset="0.79" stop-color="#787878"/><stop offset="1.00" stop-color="#787878"/></linearGradient>
<linearGradient id="g170"><stop offset="0.00" stop-color="#363636"/><stop offset="0.13" stop-color="#2b2b2b"/><stop offset="0.17" stop-color="#2b2b2b"/><stop offset="0.20" stop-color="#2b2b2b"/><stop offset="0.24" stop-color="#2b2b2b"/><stop offset="0.27" stop-color="#3d3d3d"/><stop offset="0.31" stop-color="#686868"/><stop offset="0.36" stop-color="#7b7b7b"/><stop offset="0.43" stop-color="#7c7c7c"/><stop offset="0.51" stop-color="#7c7c7c"/><stop offset="0.63" stop-color="#7a7a7a"/><stop offset="0.79" stop-color="#797979"/><stop offset="1.00" stop-color="#797979"/></linearGradient>
<linearGradient id="g171"><stop offset="0.00" stop-color="#363636"/><stop offset="0.13" stop-color="#2b2b2b"/><stop offset="0.17" stop-color="#2b2b2b"/><stop offset="0.20" stop-color="#2b2b2b"/><stop offset="0.24" stop-color="#2b2b2b"/><stop offset="0.27" stop-color="#3e3e3e"/><stop offset="0.31" stop-color="#6b6b6b"/><stop offset="0.36" stop-color="#808080"/><stop offset="0.43" stop-color="#828282"/><stop offset="0.51" stop-color="#828282"/><stop offset="0.63" stop-color="#7e7e7e"/><stop offset="0.79" stop-color="#7a7a7a"/><stop offset="1.00" stop-color="#7a7a7a"/></linearGradient>
<linearGradient id="g172"><stop offset="0.00" stop-color="#363636"/><stop offset="0.13" stop-color="#2b2b2b"/><stop offset="0.17" stop-color="#2b2b2b"/><stop offset="0.20" stop-color="#2b2b2b"/><stop offset="0.24" stop-color="#2b2b2b"/><stop offset="0.27" stop-color="#3e3e3e"/><stop offset="0.31" stop-color="#6e6e6e"/><stop offset="0.36" stop-color="#868686"/><stop offset="0.43" stop-color="#8a8a8a"/><stop offset="0.51" stop-color="#8a8a8a"/><stop offset="0.63" stop-color="#828282"/><stop offset="0.79" stop-color="#7b7b7b"/><stop offset="1.00" stop-color="#7a7a7a"/></linearGradient>
<linearGradient id="g173"><stop offset="0.00" stop-color="#363636"/><stop offset="0.13" stop-color="#2b2b2b"/><stop offset="0.17" stop-color="#2b2b2b"/><stop offset="0.20" stop-color="#2b2b2b"/><stop offset="0.24" stop-color="#2b2b2b"/><stop offset="0.27" stop-color="#3f3f3f"/><stop offset="0.31" stop-color="#717171"/><stop offset="0.36" stop-color="#8d8d8d"/><stop offset="0.43" stop-color="#949494"/><stop offset="0.51" stop-color="#949494"/><stop offset="0.63" stop-color="#878787"/><stop offset="0.79" stop-color="#7c7c7c"/><stop offset="1.00" stop-color="#7b7b7b"/></linearGradient>
<linearGradient id="g174"><stop offset="0.00" stop-color="#363636"/><stop offset="0.13" stop-color="#2b2b2b"/><stop offset="0.17" stop-color="#2b2b2b"/><stop offset="0.20" stop-color="#2b2b2b"/><stop offset="0.24" stop-color="#2b2b2b"/><stop offset="0.27" stop-color="#404040"/><stop offset="0.31" stop-color="#757575"/><stop offset="0.36" stop-color="#959595"/><stop offset="0.43" stop-color="#9f9f9f"/><stop offset="0.51" stop-color="#9f9f9f"/><stop offset="0.63" stop-color="#8c8c8c"/><stop offset="0.79" stop-color="#7d7d7d"/><stop offset="1.00" stop-color="#7c7c7c"/></linearGradient>
<linearGradient id="g175"><stop offset="0.00" stop-color="#363636"/><stop offset="0.13" stop-color="#2b2b2b"/><stop offset="0.17" stop-color="#2b2b2b"/><stop offset="0.20" stop-color="#2b2b2b"/><stop offset="0.24" stop-color="#2b2b2b"/><stop offset="0.27" stop-color="#404040"/><stop offset="0.31" stop-color="#797979"/><stop offset="0.36" stop-color="#9d9d9d"/><stop offset="0.43" stop-color="#ababab"/><stop offset="0.51" stop-color="#ababab"/><stop offset="0.63" stop-color="#929292"/><stop offset="0.79" stop-color="#7e7e7e"/><stop offset="1.00" stop-color="#7d7d7d"/></linearGradient>
<linearGradient id="g176"><stop offset="0.00" stop-color="#363636"/><stop offset="0.13" stop-color="#2b2b2b"/><stop offset="0.17" stop-color="#2b2b2b"/><stop offset="0.20" stop-color="#2b2b2b"/><stop offset="0.24" stop-color="#2b2b2b"/><stop offset="0.27" stop-color="#414141"/><stop offset="0.31" stop-color="#7e7e7e"/><stop offset="0.36" stop-color="#a5a5a5"/><stop offset="0.43" stop-color="#b6b6b6"/><stop offset="0.51" stop-color="#b6b6b6"/><stop offset="0.63" stop-color="#989898"/><stop offset="0.79" stop-color="#808080"/><stop offset="1.00" stop-color="#7e7e7e"/></linearGradient>
<linearGradient id="g177"><stop offset="0.00" stop-color="#363636"/><stop offset="0.13" stop-color="#2b2b2b"/><stop offset="0.17" stop-color="#2b2b2b"/><stop offset="0.20" stop-color="#2b2b2b"/><stop offset="0.24" stop-color="#2b2b2b"/><stop offset="0.27" stop-color="#424242"/><stop offset="0.31" stop-color="#828282"/><stop offset="0.36" stop-color="#adadad"/><stop offset="0.43" stop-color="#c1c1c1"/><stop offset="0.51" stop-color="#c1c1c1"/><stop offset="0.63" stop-color="#9d9d9d"/><stop offset="0.79" stop-color="#818181"/><stop offset="1.00" stop-color="#7f7f7f"/></linearGradient>
<linearGradient id="g178"><stop offset="0.00" stop-color="#363636"/><stop offset="0.13" stop-color="#2b2b2b"/><stop offset="0.17" stop-color="#2b2b2b"/><stop offset="0.20" stop-color="#2b2b2b"/><stop offset="0.24" stop-color="#2b2b2b"/><stop offset="0.27" stop-color="#434343"/><stop offset="0.31" stop-color="#858585"/><stop offset="0.36" stop-color="#b4b4b4"/><stop offset="0.43" stop-color="#cbcbcb"/><stop offset="0.51" stop-color="#cbcbcb"/><stop offset="0.63" stop-color="#a2a2a2"/><stop offset="0.79" stop-color="#828282"/><stop offset="1.00" stop-color="#7f7f7f"/></linearGradient>
<linearGradient id="g179"><stop offset="0.00" stop-color="#363636"/><stop offset="0.13" stop-color="#2b2b2b"/><stop offset="0.17" stop-color="#2b2b2b"/><stop offset="0.20" stop-color="#2b2b2b"/><stop offset="0.24" stop-color="#2b2b2b"/><stop offset="0.27" stop-color="#434343"/><stop offset="0.31" stop-color="#888888"/><stop offset="0.36" stop-color="#bababa"/><stop offset="0.43" stop-color="#d2d2d2"/><stop offset="0.51" stop-color="#d2d2d2"/><stop offset="0.63" stop-color="#a6a6a6"/><stop offset="0.79" stop-color="#848484"/><stop offset="1.00" stop-color="#808080"/></linearGradient>
<linearGradient id="g180"><stop offset="0.00" stop-color="#363636"/><stop offset="0.13" stop-color="#2b2b2b"/><stop offset="0.17" stop-color="#2b2b2b"/><stop offset="0.20" stop-color="#2b2b2b"/><stop offset="0.24" stop-color="#2b2b2b"/><stop offset="0.27" stop-color="#444444"/><stop offset="0.31" stop-color="#8a8a8a"/><stop offset="0.36" stop-color="#bebebe"/><stop offset="0.43" stop-color="#d7d7d7"/><stop offset="0.51" stop-color="#d7d7d7"/><stop offset="0.63" stop-color="#a9a9a9"/><stop offset="0.79" stop-color="#858585"/><stop offset="1.00" stop-color="#818181"/></linearGradient>
<linearGradient id="g181"><stop offset="0.00" stop-color="#363636"/><stop offset="0.13" stop-color="#2b2b2b"/><stop offset="0.17" stop-color="#2b2b2b"/><stop offset="0.20" stop-color="#2b2b2b"/><stop offset="0.24" stop-color="#2b2b2b"/><stop offset="0.27" stop-color="#444444"/><stop offset="0.31" stop-color="#8b8b8b"/><stop offset="0.36" stop-color="#bfbfbf"/><stop offset="0.43" stop-color="#d9d9d9"/><stop offset="0.51" stop-color="#d9d9d9"/><stop offset="0.63" stop-color="#aaaaaa"/><stop offset="0.79" stop-color="#858585"/><stop offset="1.00" stop-color="#828282"/></linearGradient>
<linearGradient id="g182"><stop offset="0.00" stop-color="#3d3d3d"/><stop offset="0.13" stop-color="#4c4c4c"/><stop offset="0.17" stop-color="#4c4c4c"/><stop offset="0.20" stop-color="#4c4c4c"/><stop offset="0.24" stop-color="#4c4c4c"/><stop offset="0.27" stop-color="#525252"/><stop offset="0.31" stop-color="#5e5e5e"/><stop offset="0.36" stop-color="#616161"/><stop offset="0.43" stop-color="#616161"/><stop offset="0.51" stop-color="#616161"/><stop offset="0.63" stop-color="#565656"/><stop offset="0.79" stop-color="#545454"/><stop offset="1.00" stop-color="#545454"/></linearGradient>
<linearGradient id="g183"><stop offset="0.00" stop-color="#3d3d3d"/><stop offset="0.13" stop-color="#4c4c4c"/><stop offset="0.17" stop-color="#4c4c4c"/><stop offset="0.20" stop-color="#4c4c4c"/><stop offset="0.24" stop-color="#4c4c4c"/><stop offset="0.27" stop-color="#525252"/><stop offset="0.31" stop-color="#5e5e5e"/><stop offset="0.36" stop-color="#626262"/><stop offset="0.43" stop-color="#626262"/><stop offset="0.51" stop-color="#626262"/><stop offset="0.63" stop-color="#575757"/><stop offset="0.79" stop-color="#555555"/><stop offset="1.00" stop-color="#555555"/></linearGradient>
<linearGradient id="g184"><stop offset="0.00" stop-color="#3d3d3d"/><stop offset="0.13" stop-color="#4c4c4c"/><stop offset="0.17" stop-color="#4c4c4c"/><stop offset="0.20" stop-color="#4c4c4c"/><stop offset="0.24" stop-color="#4c4c4c"/><stop offset="0.27" stop-color="#525252"/><stop offset="0.31" stop-color="#5f5f5f"/><stop offset="0.36" stop-color="#626262"/><stop offset="0.43" stop-color="#626262"/><stop offset="0.51" stop-color="#626262"/><stop offset="0.63" stop-color="#585858"/><stop offset="0.79" stop-color="#565656"/><stop offset="1.00" stop-color="#565656"/></linearGradient>
<linearGradient id="g185"><stop offset="0.00" stop-color="#3c3c3c"/><stop offset="0.13" stop-color="#4c4c4c"/><stop offset="0.17" stop-color="#4c4c4c"/><stop offset="0.20" stop-color="#4c4c4c"/><stop offset="0.24" stop-color="#4c4c4c"/><stop offset="0.27" stop-color="#525252"/><stop offset="0.31" stop-color="#5f5f5f"/><stop offset="0.36" stop-color="#636363"/><stop offset="0.43" stop-color="#636363"/><stop offset="0.51" stop-color="#636363"/><stop offset="0.63" stop-color="#595959"/><stop offset="0.79" stop-color="#585858"/><stop offset="1.00" stop-color="#585858"/></linearGradient>
<linearGradient id="g186"><stop offset="0.00" stop-color="#3c3c3c"/><stop offset="0.13" stop-color="#4c4c4c"/><stop offset="0.17" stop-color="#4c4c4c"/><stop offset="0.20" stop-color="#4c4c4c"/><stop offset="0.24" stop-color="#4c4c4c"/><stop offset="0.27" stop-color="#525252"/><stop offset="0.31" stop-color="#606060"/><stop offset="0.36" stop-color="#636363"/><stop offset="0.43" stop-color="#636363"/><stop offset="0.51" stop-color="#636363"/><stop offset="0.63" stop-color="#5c5c5c"/><stop offset="0.79" stop-color="#5b5b5b"/><stop offset="1.00" stop-color="#5b5b5b"/></linearGradient>
<linearGradient id="g187"><stop offset="0.00" stop-color="#3c3c3c"/><stop offset="0.13" stop-color="#4b4b4b"/><stop offset="0.17" stop-color="#4b4b4b"/><stop offset="0.20" stop-color="#4b4b4b"/><stop offset="0.24" stop-color="#4b4b4b"/><stop offset="0.27" stop-color="#525252"/><stop offset="0.31" stop-color="#606060"/><stop offset="0.36" stop-color="#646464"/><stop offset="0.43" stop-color="#646464"/><stop offset="0.51" stop-color="#646464"/><stop offset="0.63" stop-color="#5f5f5f"/><stop offset="0.79" stop-color="#5e5e5e"/><stop offset="1.00" stop-color="#5e5e5e"/></linearGradient>
<linearGradient id="g188"><stop offset="0.00" stop-color="#3c3c3c"/><stop offset="0.13" stop-color="#4b4b4b"/><stop offset="0.17" stop-color="#4b4b4b"/><stop offset="0.20" stop-color="#4b4b4b"/><stop offset="0.24" stop-color="#4b4b4b"/><stop offset="0.27" stop-color="#525252"/><stop offset="0.31" stop-color="#616161"/><stop offset="0.36" stop-color="#656565"/><stop offset="0.43" stop-color="#656565"/><stop offset="0.51" stop-color="#656565"/><stop offset="0.63" stop-color="#626262"/><stop offset="0.79" stop-color="#616161"/><stop offset="1.00" stop-color="#616161"/></linearGradient>
<linearGradient id="g189"><stop offset="0.00" stop-color="#3c3c3c"/><stop offset="0.13" stop-color="#4b4b4b"/><stop offset="0.17" stop-color="#4b4b4b"/><stop offset="0.20" stop-color="#4b4b4b"/><stop offset="0.24" stop-color="#4b4b4b"/><stop offset="0.27" stop-color="#525252"/><stop offset="0.31" stop-color="#616161"/><stop offset="0.36" stop-color="#656565"/><stop offset="0.43" stop-color="#656565"/><stop offset="0.51" stop-color="#656565"/><stop offset="0.63" stop-color="#646464"/><stop offset="0.79" stop-color="#646464"/><stop offset="1.00" stop-color="#646464"/></linearGradient>
<linearGradient id="g190"><stop offset="0.00" stop-color="#3b3b3b"/><stop offset="0.13" stop-color="#4b4b4b"/><stop offset="0.17" stop-color="#4b4b4b"/><stop offset="0.20" stop-color="#4b4b4b"/><stop offset="0.24" stop-color="#4b4b4b"/><stop offset="0.27" stop-color="#525252"/><stop offset="0.31" stop-color="#616161"/><stop offset="0.36" stop-color="#666666"/><stop offset="0.43" stop-color="#666666"/><stop offset="0.51" stop-color="#666666"/><stop offset="0.63" stop-color="#666666"/><stop offset="0.79" stop-color="#666666"/><stop offset="1.00" stop-color="#666666"/></linearGradient>
<linearGradient id="g191"><stop offset="0.00" stop-color="#3b3b3b"/><stop offset="0.13" stop-color="#4b4b4b"/><stop offset="0.17" stop-color="#4b4b4b"/><stop offset="0.20" stop-color="#4b4b4b"/><stop offset="0.24" stop-color="#4b4b4b"/><stop offset="0.27" stop-color="#525252"/><stop offset="0.31" stop-color="#626262"/><stop offset="0.36" stop-color="#666666"/><stop offset="0.43" stop-color="#666666"/><stop offset="0.51" stop-color="#666666"/><stop offset="0.63" stop-color="#666666"/><stop offset="0.79" stop-color="#666666"/><stop offset="1.00" stop-color="#666666"/></linearGradient>
<linearGradient id="g192"><stop offset="0.00" stop-color="#3b3b3b"/><stop offset="0.13" stop-color="#4a4a4a"/><stop offset="0.17" stop-color="#4a4a4a"/><stop offset="0.20" stop-color="#4a4a4a"/><stop offset="0.24" stop-color="#4a4a4a"/><stop offset="0.27" stop-color="#525252"/><stop offset="0.31" stop-color="#626262"/><stop offset="0.36" stop-color="#676767"/><stop offset="0.43" stop-color="#676767"/><stop offset="0.51" stop-color="#676767"/><stop offset="0.63" stop-color="#676767"/><stop offset="0.79" stop-color="#676767"/><stop offset="1.00" stop-color="#676767"/></linearGradient>
<linearGradient id="g193"><stop offset="0.00" stop-color="#3b3b3b"/><stop offset="0.13" stop-color="#4a4a4a"/><stop offset="0.17" stop-color="#4a4a4a"/><stop offset="0.20" stop-color="#4a4a4a"/><stop offset="0.24" stop-color="#4a4a4a"/><stop offset="0.27" stop-color="#525252"/><stop offset="0.31" stop-color="#636363"/><stop offset="0.36" stop-color="#676767"/><stop offset="0.43" stop-color="#676767"/><stop offset="0.51" stop-color="#676767"/><stop offset="0.63" stop-color="#676767"/><stop offset="0.79" stop-color="#676767"/><stop offset="1.00" stop-color="#676767"/></linearGradient>
<linearGradient id="g194"><stop offset="0.00" stop-color="#3b3b3b"/><stop offset="0.13" stop-color="#4a4a4a"/><stop offset="0.17" stop-color="#4a4a4a"/><stop offset="0.20" stop-color="#4a4a4a"/><stop offset="0.24" stop-color="#4a4a4a"/><stop offset="0.27" stop-color="#525252"/><stop offset="0.31" stop-color="#636363"/><stop offset="0.36" stop-color="#686868"/><stop offset="0.43" stop-color="#686868"/><stop offset="0.51" stop-color="#686868"/><stop offset="0.63" stop-color="#686868"/><stop offset="0.79" stop-color="#686868"/><stop offset="1.00" stop-color="#686868"/></linearGradient>
<linearGradient id="g195"><stop offset="0.00" stop-color="#3a3a3a"/><stop offset="0.13" stop-color="#4a4a4a"/><stop offset="0.17" stop-color="#4a4a4a"/><stop offset="0.20" stop-color="#4a4a4a"/><stop offset="0.24" stop-color="#4a4a4a"/><stop offset="0.27" stop-color="#525252"/><stop offset="0.31" stop-color="#646464"/><stop offset="0.36" stop-color="#686868"/><stop offset="0.43" stop-color="#686868"/><stop offset="0.51" stop-color="#686868"/><stop offset="0.63" stop-color="#686868"/><stop offset="0.79" stop-color="#686868"/><stop offset="1.00" stop-color="#686868"/></linearGradient>
<linearGradient id="g196"><stop offset="0.00" stop-color="#3a3a3a"/><stop offset="0.13" stop-color="#4a4a4a"/><stop offset="0.17" stop-color="#4a4a4a"/><stop offset="0.20" stop-color="#4a4a4a"/><stop offset="0.24" stop-color="#4a4a4a"/><stop offset="0.27" stop-color="#525252"/><stop offset="0.31" stop-color="#646464"/><stop offset="0.36" stop-color="#696969"/><stop offset="0.43" stop-color="#696969"/><stop offset="0.51" stop-color="#696969"/><stop offset="0.63" stop-color="#696969"/><stop offset="0.79" stop-color="#696969"/><stop offset="1.00" stop-color="#696969"/></linearGradient>
<linearGradient id="g197"><stop offset="0.00" stop-color="#3a3a3a"/><stop offset="0.13" stop-color="#494949"/><stop offset="0.17" stop-color="#494949"/><stop offset="0.20" stop-color="#494949"/><stop offset="0.24" stop-color="#494949"/><stop offset="0.27" stop-color="#525252"/><stop offset="0.31" stop-color="#666666"/><stop offset="0.36" stop-color="#6b6b6b"/><stop offset="0.43" stop-color="#6b6b6b"/><stop offset="0.51" stop-color="#6a6a6a"/><stop offset="0.63" stop-color="#6a6a6a"/><stop offset="0.79" stop-color="#696969"/><stop offset="1.00" stop-color="#696969"/></linearGradient>
<linearGradient id="g198"><stop offset="0.00" stop-color="#3a3a3a"/><stop offset="0.13" stop-color="#494949"/><stop offset="0.17" stop-color="#494949"/><stop offset="0.20" stop-color="#494949"/><stop offset="0.24" stop-color="#494949"/><stop offset="0.27" stop-color="#525252"/><stop offset="0.31" stop-color="#686868"/><stop offset="0.36" stop-color="#6e6e6e"/><stop offset="0.43" stop-color="#6e6e6e"/><stop offset="0.51" stop-color="#6c6c6c"/><stop offset="0.63" stop-color="#6b6b6b"/><stop offset="0.79" stop-color="#6a6a6a"/><stop offset="1.00" stop-color="#6a6a6a"/></linearGradient>
<linearGradient id="g199"><stop offset="0.00" stop-color="#3a3a3a"/><stop offset="0.13" stop-color="#494949"/><stop offset="0.17" stop-color="#494949"/><stop offset="0.20" stop-color="#494949"/><stop offset="0.24" stop-color="#494949"/><stop offset="0.27" stop-color="#535353"/><stop offset="0.31" stop-color="#6a6a6a"/><stop offset="0.36" stop-color="#717171"/><stop offset="0.43" stop-color="#717171"/><stop offset="0.51" stop-color="#6f6f6f"/><stop offset="0.63" stop-color="#6c6c6c"/><stop offset="0.79" stop-color="#6a6a6a"/><stop offset="1.00" stop-color="#6a6a6a"/></linearGradient>
<linearGradient id="g200"><stop offset="0.00" stop-color="#393939"/><stop offset="0.13" stop-color="#494949"/><stop offset="0.17" stop-color="#494949"/><stop offset="0.20" stop-color="#494949"/><stop offset="0.24" stop-color="#494949"/><stop offset="0.27" stop-color="#535353"/><stop offset="0.31" stop-color="#6d6d6d"/><stop offset="0.36" stop-color="#757575"/><stop offset="0.43" stop-color="#747474"/><stop offset="0.51" stop-color="#717171"/><stop offset="0.63" stop-color="#6d6d6d"/><stop offset="0.79" stop-color="#6b6b6b"/><stop offset="1.00" stop-color="#6b6b6b"/></linearGradient>
<linearGradient id="g201"><stop offset="0.00" stop-color="#393939"/><stop offset="0.13" stop-color="#494949"/><stop offset="0.17" stop-color="#494949"/><stop offset="0.20" stop-color="#494949"/><stop offset="0.24" stop-color="#494949"/><stop offset="0.27" stop-color="#545454"/><stop offset="0.31" stop-color="#707070"/><stop offset="0.36" stop-color="#787878"/><stop offset="0.43" stop-color="#777777"/><stop offset="0.51" stop-color="#747474"/><stop offset="0.63" stop-color="#6e6e6e"/><stop offset="0.79" stop-color="#6b6b6b"/><stop offset="1.00" stop-color="#6b6b6b"/></linearGradient>
<linearGradient id="g202"><stop offset="0.00" stop-color="#393939"/><stop offset="0.13" stop-color="#484848"/><stop offset="0.17" stop-color="#484848"/><stop offset="0.20" stop-color="#484848"/><stop offset="0.24" stop-color="#484848"/><stop offset="0.27" stop-color="#555555"/><stop offset="0.31" stop-color="#727272"/><stop offset="0.36" stop-color="#7c7c7c"/><stop offset="0.43" stop-color="#7b7b7b"/><stop offset="0.51" stop-color="#767676"/><stop offset="0.63" stop-color="#6f6f6f"/><stop offset="0.79" stop-color="#6c6c6c"/><stop offset="1.00" stop-color="#6c6c6c"/></linearGradient>
<linearGradient id="g203"><stop offset="0.00" stop-color="#393939"/><stop offset="0.13" stop-color="#484848"/><stop offset="0.17" stop-color="#484848"/><stop offset="0.20" stop-color="#484848"/><stop offset="0.24" stop-color="#484848"/><stop offset="0.27" stop-color="#555555"/><stop offset="0.31" stop-color="#757575"/><stop offset="0.36" stop-color="#808080"/><stop offset="0.43" stop-color="#7e7e7e"/><stop offset="0.51" stop-color="#787878"/><stop offset="0.63" stop-color="#707070"/><stop offset="0.79" stop-color="#6c6c6c"/><stop offset="1.00" stop-color="#6c6c6c"/></linearGradient>
<linearGradient id="g204"><stop offset="0.00" stop-color="#393939"/><stop offset="0.13" stop-color="#484848"/><stop offset="0.17" stop-color="#484848"/><stop offset="0.20" stop-color="#484848"/><stop offset="0.24" stop-color="#484848"/><stop offset="0.27" stop-color="#565656"/><stop offset="0.31" stop-color="#777777"/><stop offset="0.36" stop-color="#838383"/><stop offset="0.43" stop-color="#818181"/><stop offset="0.51" stop-color="#7b7b7b"/><stop offset="0.63" stop-color="#717171"/><stop offset="0.79" stop-color="#6d6d6d"/><stop offset="1.00" stop-color="#6d6d6d"/></linearGradient>
<linearGradient id="g205"><stop offset="0.00" stop-color="#383838"/><stop offset="0.13" stop-color="#484848"/><stop offset="0.17" stop-color="#484848"/><stop offset="0.20" stop-color="#484848"/><stop offset="0.24" stop-color="#484848"/><stop offset="0.27" stop-color="#565656"/><stop offset="0.31" stop-color="#797979"/><stop offset="0.36" stop-color="#858585"/><stop offset="0.43" stop-color="#838383"/><stop offset="0.51" stop-color="#7c7c7c"/><stop offset="0.63" stop-color="#727272"/><stop offset="0.79" stop-color="#6d6d6d"/><stop offset="1.00" stop-color="#6d6d6d"/></linearGradient>
<linearGradient id="g206"><stop offset="0.00" stop-color="#383838"/><stop offset="0.13" stop-color="#484848"/><stop offset="0.17" stop-color="#484848"/><stop offset="0.20" stop-color="#484848"/><stop offset="0.24" stop-color="#484848"/><stop offset="0.27" stop-color="#565656"/><stop offset="0.31" stop-color="#7a7a7a"/><stop offset="0.36" stop-color="#878787"/><stop offset="0.43" stop-color="#858585"/><stop offset="0.51" stop-color="#7d7d7d"/><stop offset="0.63" stop-color="#727272"/><stop offset="0.79" stop-color="#6e6e6e"/><stop offset="1.00" stop-color="#6d6d6d"/></linearGradient>
<linearGradient id="cb" x1="0" y1="0" x2="0" y2="1"><stop offset="0" stop-color="#fffbe6"/><stop offset="0.08" stop-color="#fdf6b0"/><stop offset="0.2" stop-color="#f7ec40"/><stop offset="0.3" stop-color="#f5dc18"/><stop offset="0.38" stop-color="#f5b010"/><stop offset="0.48" stop-color="#f07020"/><stop offset="0.58" stop-color="#e83020"/><stop offset="0.66" stop-color="#e01c1c"/><stop offset="0.76" stop-color="#a01010"/><stop offset="0.86" stop-color="#4a0808"/><stop offset="0.95" stop-color="#1a0505"/><stop offset="1" stop-color="#140404"/></linearGradient>
</defs>
<rect width="800" height="1027" fill="#fff"/>
<rect x="288.5" y="21.5" width="7.7" height="67.3" fill="#79d2eb"/>
<rect x="307.9" y="21.5" width="3.3" height="67.3" fill="#79d2eb"/>
<rect x="320.2" y="21.5" width="9" height="67.3" fill="#79d2eb"/>
<rect x="343.5" y="21.5" width="4.9" height="67.3" fill="#79d2eb"/>
<rect x="358.1" y="21.5" width="4.2" height="67.3" fill="#79d2eb"/>
<rect x="368.5" y="21.5" width="3.5" height="67.3" fill="#d3ebf4"/>
<rect x="374.7" y="21.5" width="3.7" height="67.3" fill="#79d2eb"/>
<rect x="386.9" y="21.5" width="3.2" height="67.3" fill="#79d2eb"/>
<rect x="396" y="21.5" width="2.9" height="67.3" fill="#79d2eb"/>
<rect x="404.5" y="21.5" width="7.1" height="67.3" fill="#79d2eb"/>
<rect x="419.4" y="21.5" width="2.5" height="67.3" fill="#d3ebf4"/>
<rect x="423.8" y="21.5" width="3.1" height="67.3" fill="#79d2eb"/>
<rect x="435" y="21.5" width="2.5" height="67.3" fill="#d3ebf4"/>
<rect x="442.5" y="21.5" width="1.9" height="67.3" fill="#d3ebf4"/>
<rect x="445" y="21.5" width="4.4" height="67.3" fill="#79d2eb"/>
<rect x="456.9" y="21.5" width="1.9" height="67.3" fill="#d3ebf4"/>
<rect x="463.8" y="21.5" width="3.7" height="67.3" fill="#79d2eb"/>
<rect x="476" y="21.5" width="2" height="67.3" fill="#d3ebf4"/>
<rect x="483" y="21.5" width="4" height="67.3" fill="#79d2eb"/>
<rect x="491.9" y="21.5" width="2.1" height="67.3" fill="#d3ebf4"/>
<rect x="500.6" y="21.5" width="2.2" height="67.3" fill="#d3ebf4"/>
<rect x="511" y="21.5" width="2.8" height="67.3" fill="#79d2eb"/>
<rect x="517" y="21.5" width="2" height="67.3" fill="#d3ebf4"/>
<rect x="526" y="21.5" width="3.4" height="67.3" fill="#79d2eb"/>
<rect x="538.8" y="21.5" width="1.4" height="67.3" fill="#d3ebf4"/>
<rect x="541.9" y="21.5" width="3.4" height="67.3" fill="#79d2eb"/>
<rect x="288.5" y="113" width="7.7" height="231" fill="#79d2eb"/>
<rect x="307.9" y="113" width="3.3" height="231" fill="#79d2eb"/>
<rect x="320.2" y="113" width="9" height="231" fill="#79d2eb"/>
<rect x="343.5" y="113" width="4.9" height="231" fill="#79d2eb"/>
<rect x="358.1" y="113" width="4.2" height="231" fill="#79d2eb"/>
<rect x="368.5" y="113" width="3.5" height="231" fill="#d3ebf4"/>
<rect x="374.7" y="113" width="3.7" height="231" fill="#79d2eb"/>
<rect x="386.9" y="113" width="3.2" height="231" fill="#79d2eb"/>
<rect x="396" y="113" width="2.9" height="231" fill="#79d2eb"/>
<rect x="404.5" y="113" width="7.1" height="231" fill="#79d2eb"/>
<rect x="419.4" y="113" width="2.5" height="231" fill="#d3ebf4"/>
<rect x="423.8" y="113" width="3.1" height="231" fill="#79d2eb"/>
<rect x="435" y="113" width="2.5" height="231" fill="#d3ebf4"/>
<rect x="442.5" y="113" width="1.9" height="231" fill="#d3ebf4"/>
<rect x="445" y="113" width="4.4" height="231" fill="#79d2eb"/>
<rect x="456.9" y="113" width="1.9" height="231" fill="#d3ebf4"/>
<rect x="463.8" y="113" width="3.7" height="231" fill="#79d2eb"/>
<rect x="476" y="113" width="2" height="231" fill="#d3ebf4"/>
<rect x="483" y="113" width="4" height="231" fill="#79d2eb"/>
<rect x="491.9" y="113" width="2.1" height="231" fill="#d3ebf4"/>
<rect x="500.6" y="113" width="2.2" height="231" fill="#d3ebf4"/>
<rect x="511" y="113" width="2.8" height="231" fill="#79d2eb"/>
<rect x="517" y="113" width="2" height="231" fill="#d3ebf4"/>
<rect x="526" y="113" width="3.4" height="231" fill="#79d2eb"/>
<rect x="538.8" y="113" width="1.4" height="231" fill="#d3ebf4"/>
<rect x="541.9" y="113" width="3.4" height="231" fill="#79d2eb"/>
<rect x="288.5" y="364.7" width="7.7" height="50.9" fill="#79d2eb"/>
<rect x="307.9" y="364.7" width="3.3" height="50.9" fill="#79d2eb"/>
<rect x="320.2" y="364.7" width="9" height="50.9" fill="#79d2eb"/>
<rect x="343.5" y="364.7" width="4.9" height="50.9" fill="#79d2eb"/>
<rect x="358.1" y="364.7" width="4.2" height="50.9" fill="#79d2eb"/>
<rect x="368.5" y="364.7" width="3.5" height="50.9" fill="#d3ebf4"/>
<rect x="374.7" y="364.7" width="3.7" height="50.9" fill="#79d2eb"/>
<rect x="386.9" y="364.7" width="3.2" height="50.9" fill="#79d2eb"/>
<rect x="396" y="364.7" width="2.9" height="50.9" fill="#79d2eb"/>
<rect x="404.5" y="364.7" width="7.1" height="50.9" fill="#79d2eb"/>
<rect x="419.4" y="364.7" width="2.5" height="50.9" fill="#d3ebf4"/>
<rect x="423.8" y="364.7" width="3.1" height="50.9" fill="#79d2eb"/>
<rect x="435" y="364.7" width="2.5" height="50.9" fill="#d3ebf4"/>
<rect x="442.5" y="364.7" width="1.9" height="50.9" fill="#d3ebf4"/>
<rect x="445" y="364.7" width="4.4" height="50.9" fill="#79d2eb"/>
<rect x="456.9" y="364.7" width="1.9" height="50.9" fill="#d3ebf4"/>
<rect x="463.8" y="364.7" width="3.7" height="50.9" fill="#79d2eb"/>
<rect x="476" y="364.7" width="2" height="50.9" fill="#d3ebf4"/>
<rect x="483" y="364.7" width="4" height="50.9" fill="#79d2eb"/>
<rect x="491.9" y="364.7" width="2.1" height="50.9" fill="#d3ebf4"/>
<rect x="500.6" y="364.7" width="2.2" height="50.9" fill="#d3ebf4"/>
<rect x="511" y="364.7" width="2.8" height="50.9" fill="#79d2eb"/>
<rect x="517" y="364.7" width="2" height="50.9" fill="#d3ebf4"/>
<rect x="526" y="364.7" width="3.4" height="50.9" fill="#79d2eb"/>
<rect x="538.8" y="364.7" width="1.4" height="50.9" fill="#d3ebf4"/>
<rect x="541.9" y="364.7" width="3.4" height="50.9" fill="#79d2eb"/>
<path d="M282,30 283,30.2 284,29.9 285,30.6 286,29.4 287,30.4 288,31.2 289,30.6 290,31.8 291,31.5 292,32.5 293,32.1 294,31.7 295,31.2 296,30.2 297,28.8 298,27.5 299,28.2 300,30 301,29.9 302,30.4 303,30.2 304,29.8 305,30.1 306,30.9 307,31.4 308,31.9 309,32.9 310,33.3 311,31.8 312,31.5 313,31.2 314,31.3 315,30.9 316,30.5 317,30 318,31 319,31.1 320,31.1 321,31 322,31.4 323,32.2 324,32.7 325,32.3 326,33.4 327,31.9 328,30.6 329,30.7 330,31.1 331,30.6 332,28.5 333,29.1 334,28.5 335,29.6 336,29.9 337,30.4 338,29.3 339,31.3 340,30.4 341,30.5 342,31.5 343,31.7 344,32 345,31.7 346,33 347,32.3 348,30.3 349,29.8 350,30.1 351,30.6 352,30.4 353,30.8 354,30.1 355,30.3 356,30.5 357,30 358,31 359,32.6 360,31.6 361,32.7 362,31.1 363,31.1 364,30.5 365,29.5 366,29.7 367,29.7 368,30.5 369,30.3 370,30.3 371,30.1 372,29.9 373,29.6 374,31.1 375,32.2 376,32.3 377,32 378,31.2 379,31.3 380,31.1 381,30.5 382,29.8 383,29.1 384,30 385,30.5 386,30.7 387,31.5 388,31.9 389,32.1 390,31.6 391,30.1 392,30.5 393,30.1 394,31 395,30.7 396,30.7 397,32.4 398,32 399,31.7 400,30.1 401,30.5 402,30.4 403,30.5 404,30.4 405,30 406,31.3 407,31.9 408,32.3 409,31.8 410,31.3 411,30.1 412,29.5 413,29.5 414,30 415,30.1 416,30.6 417,30.2 418,30.6 419,29.8 420,29.4 421,29.9 422,30 423,30.9 424,32.3 425,31.4 426,31.9 427,31 428,31 429,30.3 430,29.6 431,29.5 432,31 433,31.1 434,30.1 435,30.6 436,30 437,30.8 438,29.7 439,30 440,30 441,30.1 442,30.5 443,30.4 444,29.8 445,30.4 446,31.9 447,32.6 448,32.7 449,31.8 450,30 451,30.1 452,30.5 453,30.1 454,31.4 455,30.9 456,30.4 457,29.9 458,30 459,30.5 460,30.3 461,29.6 462,29.8 463,30 464,31.5 465,32.7 466,32.9 467,31.4 468,30.9 469,31.1 470,30.5 471,30.4 472,30.7 473,30 474,30.4 475,30.9 476,31.1 477,30.8 478,30 479,30.2 480,29.8 481,30.7 482,29.8 483,30.7 484,31.9 485,31.8 486,32 487,31.6 488,31.9 489,30.5 490,31.1 491,30.6 492,30.2 493,30.3 494,30.3 495,30.4 496,29.3 497,30.3 498,29.7 499,29.4 500,29.9 501,30.1 502,29.6 503,29.7 504,30.3 505,29.9 506,30.7 507,31.7 508,30.5 509,29.5 510,27.5 511,29.1 512,29.7 513,31.4 514,30.2 515,30.4 516,29.9 517,30.1 518,29.5 519,29.7 520,29.5 521,30.5 522,31.2 523,29.8 524,30.2 525,30.9 526,30.9 527,31.9 528,32.2 529,31.8 530,31.1 531,29.9 532,31.1 533,29.9 534,29.6 535,29.7 536,30.5 537,29.7 538,30.3 539,29.5 540,30.5 541,30.8 542,31.4 543,32.8 544,31.7 545,31.6 546,31.4 547,30.7 548,29.7 549,31.2 550,31.2 551,31.2 552,30.5 553,30.7 554,30 555,30.2 556,29.5 557,30.5 558,30.1 559,30.3 560,31" fill="none" stroke="#232323" stroke-width="1.4" stroke-linejoin="round" />
<path d="M282,55.1 282.7,54.6 283.4,55.7 284.1,57.1 284.8,54.1 285.5,54.3 286.2,56.1 286.9,57.6 287.6,57.1 288.3,57.3 289,56.8 289.7,55.7 290.4,57.4 291.1,56 291.8,56.7 292.5,57.3 293.2,57 293.9,55.5 294.6,54.4 295.3,52.8 296,45 296.7,44.9 297.4,47 298.1,45.6 298.8,49.4 299.5,50.7 300.2,49.2 300.9,51.9 301.6,52.4 302.3,51.4 303,53.9 303.7,53.1 304.4,52.5 305.1,50.3 305.8,51.7 306.5,53.3 307.2,53.1 307.9,54 308.6,54.1 309.3,52.2 310,45.2 310.7,40.5 311.4,44.6 312.1,44.5 312.8,43.3 313.5,46.8 314.2,46.8 314.9,47.5 315.6,46.7 316.3,46.6 317,47.2 317.7,48.9 318.4,47.5 319.1,50.4 319.8,49.4 320.5,52.1 321.2,50.5 321.9,52.9 322.6,53.6 323.3,51.2 324,51.4 324.7,53.1 325.4,49.1 326.1,47.2 326.8,40.3 327.5,41.6 328.2,41.5 328.9,43.7 329.6,45.1 330.3,45.2 331,46.4 331.7,49 332.4,48 333.1,50.7 333.8,50.7 334.5,51.4 335.2,51.4 335.9,52.3 336.6,52.8 337.3,52.7 338,52.4 338.7,54.3 339.4,52.7 340.1,54.7 340.8,54.9 341.5,54.4 342.2,55.3 342.9,53 343.6,54.5 344.3,55.5 345,54.2 345.7,49.8 346.4,45.7 347.1,46.3 347.8,47.8 348.5,49.4 349.2,51.6 349.9,49.6 350.6,51.7 351.3,49.7 352,52.6 352.7,51.4 353.4,54.2 354.1,52.5 354.8,52.1 355.5,54 356.2,53.3 356.9,53.4 357.6,53.9 358.3,54.6 359,55.6 359.7,54.9 360.4,53.4 361.1,51.6 361.8,49 362.5,49 363.2,51.7 363.9,50.7 364.6,51.4 365.3,52 366,53 366.7,53.4 367.4,52.9 368.1,54.6 368.8,54.5 369.5,56 370.2,54.6 370.9,56.1 371.6,55.4 372.3,54.3 373,57.4 373.7,55.9 374.4,55.7 375.1,55.7 375.8,52.2 376.5,51.9 377.2,51.1 377.9,53.7 378.6,52.3 379.3,52 380,52 380.7,52.3 381.4,52.5 382.1,53.7 382.8,52.9 383.5,54 384.2,53.9 384.9,55.2 385.6,55.3 386.3,53.4 387,54.3 387.7,54.5 388.4,53.2 389.1,52.9 389.8,54.6 390.5,51.4 391.2,53.8 391.9,54.3 392.6,56.6 393.3,54.4 394,53.6 394.7,54.1 395.4,55 396.1,52.6 396.8,55.1 397.5,55.2 398.2,57.1 398.9,53.9 399.6,55.3 400.3,54.7 401,53.9 401.7,55.8 402.4,54 403.1,55.6 403.8,54.3 404.5,55.5 405.2,55.6 405.9,56.2 406.6,55.7 407.3,56.8 408,57.2 408.7,55.1 409.4,53.3 410.1,50.9 410.8,49 411.5,47 412.2,47.4 412.9,49.5 413.6,50.3 414.3,50.5 415,50.6 415.7,52.2 416.4,51.8 417.1,51.4 417.8,51.8 418.5,54.3 419.2,53.6 419.9,54.8 420.6,55.5 421.3,54.5 422,52.7 422.7,53 423.4,54.2 424.1,54.6 424.8,52.8 425.5,45.6 426.2,41 426.9,40.5 427.6,41.8 428.3,43.4 429,45.7 429.7,46.3 430.4,48.7 431.1,48.2 431.8,48.7 432.5,50.7 433.2,50.7 433.9,51.5 434.6,52.2 435.3,53.5 436,50.4 436.7,43.4 437.4,45.2 438.1,45.2 438.8,47.7 439.5,49.2 440.2,49.3 440.9,49.3 441.6,51.7 442.3,51.2 443,51.3 443.7,51.2 444.4,51.9 445.1,53.7 445.8,54.1 446.5,53.2 447.2,45.8 447.9,39.4 448.6,41.6 449.3,43.1 450,45 450.7,45.4 451.4,44.5 452.1,48.6 452.8,47.5 453.5,48.7 454.2,47.9 454.9,49.5 455.6,51.3 456.3,51.9 457,52.3 457.7,52.2 458.4,53.2 459.1,55.4 459.8,52.7 460.5,55.4 461.2,53.6 461.9,53 462.6,52.3 463.3,53.5 464,53.3 464.7,52.8 465.4,48 466.1,48.6 466.8,49.6 467.5,49.5 468.2,49.4 468.9,51.2 469.6,52.2 470.3,53.4 471,55.3 471.7,52.3 472.4,54.5 473.1,54.5 473.8,55.8 474.5,54.1 475.2,56 475.9,55.6 476.6,55.2 477.3,55.5 478,54.6 478.7,56.1 479.4,55.8 480.1,54.9 480.8,55 481.5,54.3 482.2,54 482.9,56.1 483.6,54.6 484.3,56.7 485,55.6 485.7,56.1 486.4,55.5 487.1,54.5 487.8,51.6 488.5,53.1 489.2,55.9 489.9,53.9 490.6,54 491.3,54.2 492,55.3 492.7,55.3 493.4,53.8 494.1,54.8 494.8,57.2 495.5,54.3 496.2,54.8 496.9,55.5 497.6,55.5 498.3,56.6 499,57.3 499.7,55.8 500.4,55.7 501.1,53.8 501.8,51.1 502.5,53.6 503.2,53.9 503.9,53.5 504.6,53.7 505.3,53.8 506,53.6 506.7,54.8 507.4,54.3 508.1,53.4 508.8,55.2 509.5,56.3 510.2,54.9 510.9,56.5 511.6,55.2 512.3,56.9 513,56.5 513.7,56.5 514.4,56.9 515.1,53.8 515.8,55.4 516.5,55.1 517.2,54.2 517.9,56.4 518.6,53.7 519.3,57 520,55.4 520.7,55.5 521.4,57.7 522.1,53.6 522.8,55.2 523.5,54.2 524.2,55 524.9,55.3 525.6,55.4 526.3,53.4 527,53.9 527.7,48.2 528.4,43.5 529.1,45.4 529.8,45.6 530.5,47.6 531.2,49.6 531.9,49.3 532.6,49.7 533.3,50.9 534,51.7 534.7,51.8 535.4,54.2 536.1,50 536.8,51.7 537.5,53.6 538.2,53.9 538.9,53.4 539.6,53 540.3,54.7 541,54.7 541.7,55.1 542.4,54 543.1,54.6 543.8,55.5 544.5,53.7 545.2,53.9 545.9,53.7 546.6,53.7 547.3,52.3 548,51.6 548.7,55.2 549.4,54.5 550.1,54.4 550.8,55.3 551.5,55.4 552.2,54.7 552.9,54.7 553.6,54.5 554.3,54.7 555,54.8 555.7,53.9 556.4,55.1 557.1,56.5 557.8,56.4 558.5,54.4 559.2,55.4 559.9,56.7" fill="none" stroke="#2f8246" stroke-width="2.0" stroke-linejoin="round" />
<path d="M282,76.5 282.7,73.7 283.4,75.8 284.1,76.1 284.8,75.2 285.5,75 286.2,75.7 286.9,74.9 287.6,76.3 288.3,78.2 289,76.1 289.7,76.8 290.4,78.7 291.1,80.3 291.8,77.9 292.5,77.2 293.2,77.6 293.9,77.1 294.6,75.8 295.3,77.3 296,75 296.7,76.9 297.4,75.6 298.1,76.5 298.8,76.4 299.5,74.5 300.2,76.4 300.9,76.2 301.6,76.5 302.3,77.1 303,76.7 303.7,74.4 304.4,76.3 305.1,75.3 305.8,75.8 306.5,75.8 307.2,76.2 307.9,79.4 308.6,78.4 309.3,80.9 310,77.4 310.7,78.9 311.4,76 312.1,76.2 312.8,75.5 313.5,76.6 314.2,76.3 314.9,77.1 315.6,75 316.3,76.3 317,76 317.7,78.2 318.4,78 319.1,77.6 319.8,77.3 320.5,76.6 321.2,76.5 321.9,74.9 322.6,75.2 323.3,75.8 324,78.5 324.7,78.9 325.4,79.9 326.1,77.9 326.8,76.5 327.5,76.8 328.2,76.6 328.9,75.9 329.6,75.4 330.3,71.6 331,67.6 331.7,67.5 332.4,68.3 333.1,68.3 333.8,68.8 334.5,69.3 335.2,70.5 335.9,70.7 336.6,70.9 337.3,70.9 338,73.2 338.7,74.3 339.4,73.6 340.1,71.8 340.8,72.8 341.5,72.8 342.2,72.4 342.9,72.9 343.6,73.7 344.3,70.6 345,70.4 345.7,71.8 346.4,70.8 347.1,72.6 347.8,74.2 348.5,72.7 349.2,74.3 349.9,72.9 350.6,73.1 351.3,72.8 352,71.7 352.7,74.7 353.4,73.9 354.1,73.3 354.8,75.1 355.5,75 356.2,75.5 356.9,76.6 357.6,75.7 358.3,77 359,78 359.7,78.7 360.4,77.4 361.1,78.8 361.8,77.2 362.5,75.2 363.2,74.3 363.9,74.5 364.6,75.5 365.3,76.4 366,76.1 366.7,74.7 367.4,75.2 368.1,74 368.8,76 369.5,74 370.2,75 370.9,75.1 371.6,75.3 372.3,76.7 373,76.5 373.7,75.9 374.4,77.5 375.1,78.2 375.8,77.9 376.5,78.9 377.2,77.4 377.9,78 378.6,79.7 379.3,78.1 380,76.9 380.7,75.5 381.4,75.3 382.1,77.1 382.8,75.6 383.5,74.3 384.2,74 384.9,74.9 385.6,75.6 386.3,75.9 387,77.6 387.7,78.8 388.4,76.8 389.1,77.2 389.8,78.6 390.5,76.9 391.2,74.3 391.9,75.5 392.6,73.7 393.3,75.5 394,76.5 394.7,77.6 395.4,78.7 396.1,78.1 396.8,78.5 397.5,79.2 398.2,79.4 398.9,78.7 399.6,78.5 400.3,77.9 401,74.8 401.7,73.8 402.4,73.4 403.1,74.9 403.8,76.7 404.5,75.4 405.2,75.7 405.9,75.9 406.6,77.2 407.3,78.6 408,76.2 408.7,78.1 409.4,78.4 410.1,79 410.8,77.3 411.5,76.3 412.2,76.4 412.9,75.6 413.6,74.3 414.3,74.8 415,75.5 415.7,75.1 416.4,75.3 417.1,77.3 417.8,75.7 418.5,75.9 419.2,76.5 419.9,76.5 420.6,76 421.3,76.1 422,75.4 422.7,75.3 423.4,74.6 424.1,76.4 424.8,77.4 425.5,76.7 426.2,76.4 426.9,78.2 427.6,77.3 428.3,76.8 429,75.3 429.7,73.6 430.4,74.1 431.1,73.6 431.8,73.2 432.5,74.9 433.2,74.9 433.9,76 434.6,73.8 435.3,75.3 436,74.5 436.7,75.2 437.4,74.9 438.1,75.3 438.8,75.1 439.5,73.8 440.2,74.9 440.9,74.2 441.6,74 442.3,74.9 443,77.3 443.7,78.7 444.4,76.4 445.1,77.7 445.8,78.1 446.5,77.8 447.2,79.2 447.9,77.6 448.6,76.1 449.3,76.5 450,74.9 450.7,68.9 451.4,68.8 452.1,68 452.8,67.8 453.5,66.5 454.2,67.8 454.9,68.6 455.6,69.4 456.3,69.8 457,70.1 457.7,70.5 458.4,72.3 459.1,70.4 459.8,69 460.5,73.1 461.2,72 461.9,73.6 462.6,72.3 463.3,72.5 464,76.2 464.7,75.8 465.4,75.7 466.1,76.7 466.8,75.6 467.5,75.1 468.2,72.9 468.9,75.1 469.6,73.6 470.3,74.6 471,73.4 471.7,75.6 472.4,73.9 473.1,74.6 473.8,72.5 474.5,74.4 475.2,72.2 475.9,72.5 476.6,73 477.3,70.7 478,73.9 478.7,73.5 479.4,73.1 480.1,72 480.8,74.5 481.5,74.6 482.2,73.2 482.9,75.6 483.6,77.3 484.3,77.5 485,76.4 485.7,78.1 486.4,76.5 487.1,77.1 487.8,75.8 488.5,76.5 489.2,73.9 489.9,74.2 490.6,73.8 491.3,76 492,75.2 492.7,75.4 493.4,76.2 494.1,74.8 494.8,74.9 495.5,75.7 496.2,75.8 496.9,77.3 497.6,75.1 498.3,77.3 499,75.1 499.7,78.3 500.4,77.1 501.1,76.5 501.8,74.7 502.5,75 503.2,73.6 503.9,74.1 504.6,74.1 505.3,72.4 506,72.1 506.7,72.9 507.4,72.8 508.1,69.6 508.8,72.2 509.5,70.6 510.2,69.7 510.9,72.3 511.6,72.7 512.3,72.9 513,70.9 513.7,71.7 514.4,70.8 515.1,69.4 515.8,68.7 516.5,67.9 517.2,70.9 517.9,70.7 518.6,69.1 519.3,71 520,71 520.7,71.8 521.4,74.3 522.1,73.8 522.8,74.2 523.5,74.1 524.2,74.5 524.9,74.6 525.6,76.7 526.3,76.6 527,77.3 527.7,78.3 528.4,77 529.1,77.7 529.8,77 530.5,75.9 531.2,75.4 531.9,75.8 532.6,73 533.3,75.3 534,74.7 534.7,76.3 535.4,75.1 536.1,75.1 536.8,75.6 537.5,75.5 538.2,75.3 538.9,75.3 539.6,76.9 540.3,77.4 541,77.9 541.7,77.4 542.4,77.5 543.1,77.6 543.8,77.2 544.5,77.4 545.2,78.8 545.9,75.8 546.6,74.4 547.3,73.7 548,74.6 548.7,73.4 549.4,73.4 550.1,72.5 550.8,71.1 551.5,71 552.2,72.3 552.9,71.5 553.6,71.3 554.3,72.9 555,72.9 555.7,72.8 556.4,72.4 557.1,73.3 557.8,73.4 558.5,73.9 559.2,75.6 559.9,74" fill="none" stroke="#e9212c" stroke-width="2.0" stroke-linejoin="round" />
<path d="M282,136.1 283,135.2 284,136.1 285,135.3 286,135.4 287,135.6 288,135.5 289,135.3 290,135.6 291,135.8 292,135.6 293,136 294,135.2 295,131.2 296,129.3 297,131 298,131.4 299,132.4 300,133 301,133.4 302,132.5 303,128.1 304,127.8 305,129.3 306,131.3 307,131.9 308,132.9 309,133.6 310,132.5 311,129 312,122.7 313,121.7 314,119.3 315,121.2 316,124 317,124.6 318,124.1 319,123.8 320,125.4 321,126.9 322,128.7 323,129.2 324,129.8 325,130.8 326,129 327,126.7 328,128.2 329,129.6 330,130.4 331,131.9 332,131.9 333,132.7 334,133.4 335,133.5 336,134 337,134.1 338,134.2 339,135.4 340,134.3 341,134.8 342,134.6 343,135 344,135.2 345,135 346,135 347,135.1 348,134.3 349,135.5 350,134.7 351,135 352,135.2 353,135.1 354,135.4 355,135.6 356,136.3 357,135.5 358,135.3 359,135.3 360,135.6 361,135.5 362,135.2 363,134.7 364,134.9 365,135.7 366,136.1 367,136.3 368,136.2 369,135.7 370,135.6 371,135.4 372,135.3 373,135.4 374,135.1 375,134.5 376,135.7 377,135 378,135.8 379,135.7 380,136.2 381,135.6 382,136.1 383,135.4 384,135.6 385,135.2 386,135.2 387,135.4 388,135.6 389,136 390,135.2 391,135.5 392,135.5 393,134.5 394,135.6 395,135.2 396,135.2 397,134.9 398,134.7 399,134.8 400,136 401,135.5 402,134.9 403,135.6 404,135.7 405,135.5 406,135.3 407,135.9 408,135 409,136.3 410,135.4 411,135.8 412,135.2 413,135.5 414,136.1 415,136.1 416,136.1 417,135.9 418,135.6 419,135.6 420,135.6 421,135.5 422,136.3 423,136 424,135.8 425,136.1 426,136.2 427,134.4 428,132.1 429,133 430,133.2 431,133.6 432,132.8 433,130 434,129.9 435,130.4 436,128.9 437,126.1 438,125.7 439,127.9 440,128.2 441,129.9 442,130.4 443,131.1 444,131.8 445,132.9 446,133.2 447,130 448,126.7 449,128.2 450,128.8 451,124.8 452,123.7 453,126.4 454,128.1 455,129.6 456,130.1 457,132 458,132.5 459,133.1 460,133.1 461,133.3 462,134.7 463,133.9 464,134.4 465,134.2 466,134.4 467,134.9 468,135.3 469,135.4 470,135.5 471,134.7 472,134.9 473,135.3 474,135.4 475,135.7 476,135.2 477,135.5 478,135.9 479,136.1 480,135.5 481,135.7 482,135.5 483,135.8 484,135.4 485,134.1 486,134.7 487,135.4 488,135.3 489,134.8 490,135.1 491,135.3 492,135.2 493,135 494,135.7 495,135 496,134.8 497,135.6 498,135.6 499,135 500,134.3 501,135.3 502,134.7 503,135.3 504,135.5 505,135 506,135.3 507,134.7 508,135 509,135.5 510,134.9 511,135.5 512,135.3 513,136 514,135.5 515,135.4 516,135.3 517,135.7 518,135.2 519,135.8 520,135.7 521,135.4 522,135.5 523,135.1 524,136.2 525,135.6 526,135.1 527,135.4 528,135.1 529,130.6 530,127.1 531,127.8 532,129.3 533,130.8 534,131.4 535,131.9 536,132 537,133.1 538,134 539,133.9 540,134 541,134.4 542,133.7 543,134.6 544,134.4 545,133.3 546,131.5 547,132.1 548,133.1 549,131.4 550,130.4 551,131.7 552,133 553,134.1 554,134.3 555,134.6 556,134.8 557,135 558,135.2 559,135.5 560,135.1" fill="none" stroke="#2f8246" stroke-width="1.8" stroke-linejoin="round" />
<path d="M282,155.4 283,156.5 284,156.1 285,155.2 286,155.4 287,155.6 288,154.5 289,154 290,154.9 291,155 292,155.6 293,155 294,155.5 295,155.8 296,155 297,156.5 298,155.9 299,155.4 300,156.4 301,155.2 302,155.9 303,156.3 304,155.5 305,155.5 306,155.2 307,155.5 308,155.7 309,154.8 310,154.5 311,156.6 312,155.8 313,155.5 314,155.2 315,155.4 316,155.2 317,155 318,155.5 319,155.3 320,154.6 321,154.7 322,154.9 323,155.2 324,155 325,155 326,155 327,155.5 328,155.2 329,154.7 330,154.4 331,154.1 332,155.3 333,154.8 334,156 335,155.3 336,156.1 337,155.7 338,155.8 339,155.3 340,155.6 341,155.3 342,155.6 343,155.2 344,155.8 345,155.5 346,152.9 347,150.5 348,151.5 349,153.6 350,154.2 351,154.3 352,154.7 353,155.6 354,153.5 355,151.4 356,152.9 357,152.4 358,154 359,153.7 360,149.6 361,147.4 362,150 363,152.1 364,152.4 365,150.4 366,149.4 367,151.8 368,152.6 369,152.9 370,154.4 371,154.8 372,154.3 373,154.6 374,155.2 375,155.2 376,152.4 377,148.9 378,150.9 379,152.4 380,154.3 381,153.7 382,154.6 383,153.6 384,152.5 385,153.6 386,153.6 387,155.3 388,154.8 389,155 390,155 391,155.6 392,156.2 393,155.7 394,155.6 395,155.3 396,155.8 397,155.3 398,154.9 399,154.6 400,155.1 401,156.1 402,155.4 403,155.8 404,155.6 405,156.5 406,155.6 407,155.3 408,155.1 409,155.5 410,155.1 411,155.2 412,155.7 413,154.9 414,155.6 415,155.4 416,155.9 417,155.1 418,155.2 419,155.1 420,155.2 421,155.7 422,154.1 423,155.5 424,154.9 425,155.2 426,146.2 427,151.6 428,152.6 429,153.6 430,153.9 431,155.2 432,155.3 433,155.4 434,154.5 435,154.9 436,154.9 437,154.7 438,154.9 439,154.4 440,155.4 441,155.4 442,155.2 443,155.1 444,156.2 445,155.1 446,155.7 447,154.5 448,149.2 449,152.5 450,153.5 451,153.9 452,155.7 453,155.3 454,156 455,154.7 456,154.7 457,155.1 458,155.8 459,155.1 460,155.5 461,156.2 462,155.4 463,155.4 464,155.4 465,155 466,149.8 467,153 468,153.8 469,155.3 470,154.8 471,155.7 472,155.8 473,156.1 474,155.3 475,155.4 476,156.1 477,154.8 478,155.9 479,154.8 480,155.7 481,155.7 482,155.4 483,155.2 484,155.3 485,154.4 486,150.3 487,152.9 488,154.5 489,155.5 490,154.9 491,155.3 492,155.7 493,155.3 494,154.8 495,155.1 496,155.3 497,155.3 498,155.5 499,156.1 500,155.6 501,155.3 502,155.6 503,155.2 504,155.6 505,156.5 506,155.3 507,155.8 508,155.3 509,155.4 510,155.5 511,154.5 512,155 513,155 514,154.9 515,155.2 516,155.3 517,155 518,154.7 519,155.3 520,154.5 521,154.4 522,155 523,155.7 524,155.2 525,155.1 526,155.2 527,154.4 528,148.9 529,151.7 530,154 531,153.9 532,155.2 533,155.2 534,155.8 535,155.3 536,156 537,155.8 538,155.7 539,154.6 540,154.5 541,154.5 542,155 543,155.3 544,149.7 545,152.2 546,154 547,154.1 548,154.7 549,154.6 550,154 551,154.1 552,154.9 553,154.5 554,155 555,155.5 556,155.2 557,155.7 558,154.8 559,155.3 560,155" fill="none" stroke="#2f8246" stroke-width="1.8" stroke-linejoin="round" />
<path d="M282,175.5 283,175.8 284,175.3 285,175.3 286,176 287,176.1 288,175.7 289,175.1 290,175.1 291,175.3 292,174.8 293,174.7 294,175.5 295,175.1 296,174.9 297,175.5 298,175.1 299,174.7 300,174.9 301,175.7 302,175.2 303,175.7 304,175.8 305,174.9 306,175.6 307,175.7 308,174.9 309,175.7 310,174.9 311,175.3 312,174.8 313,174.2 314,176.4 315,175.8 316,176.1 317,174.4 318,174.7 319,174.6 320,174.8 321,175.5 322,175.7 323,175.4 324,175.5 325,176 326,175.5 327,174.9 328,175.7 329,175.3 330,176.1 331,174.7 332,175 333,174.5 334,175 335,175.7 336,174.8 337,174.8 338,175.9 339,175.8 340,175.2 341,175.5 342,175.1 343,176 344,175.3 345,174.9 346,163.6 347,167.7 348,170.1 349,171.7 350,172.5 351,172.7 352,173.2 353,173.8 354,175.2 355,175.6 356,175 357,174.8 358,175 359,175.6 360,176.2 361,175.5 362,175.3 363,174.9 364,175.4 365,175.6 366,176.3 367,175.3 368,175.3 369,174.9 370,175.1 371,175.3 372,175.8 373,176.4 374,176.3 375,176.7 376,176.5 377,176 378,175.7 379,175.5 380,177.1 381,175.8 382,176.2 383,176.7 384,175.6 385,174.8 386,174.9 387,175.1 388,175.6 389,175.3 390,175.5 391,174.8 392,175.1 393,175.8 394,174.3 395,176.1 396,175.9 397,176.3 398,175 399,176.1 400,175 401,175.4 402,175.5 403,175.8 404,175 405,175.5 406,175.9 407,175.3 408,174.9 409,175.7 410,175.2 411,174.4 412,175.5 413,175.5 414,175.2 415,175.6 416,175.8 417,175.9 418,175.1 419,175.9 420,175.4 421,175 422,175.2 423,175.8 424,176.3 425,176.1 426,174.9 427,175.3 428,176.1 429,175.6 430,175 431,174.9 432,175.4 433,175 434,175.5 435,174.3 436,175.2 437,175.4 438,176.7 439,176.1 440,175.2 441,175.9 442,175.6 443,174.3 444,174.1 445,175.9 446,175.2 447,175.2 448,168.7 449,171.6 450,171.8 451,170.6 452,172.8 453,173.7 454,175.8 455,175.6 456,174.7 457,175.1 458,175.4 459,174.6 460,175.1 461,174.8 462,175.8 463,174.4 464,174.7 465,174.7 466,174.7 467,174 468,174.3 469,175.8 470,170.9 471,173.7 472,175.3 473,175.4 474,174.6 475,174.8 476,175.7 477,175.2 478,176.2 479,175.7 480,174.2 481,174.5 482,176 483,174.7 484,175.3 485,175.4 486,175 487,175.1 488,176 489,175.3 490,175.4 491,175.5 492,176.2 493,175.5 494,175.1 495,175.4 496,174.8 497,174.3 498,175.4 499,175.5 500,176 501,174.8 502,174.5 503,174 504,175.2 505,174.6 506,175.2 507,175.5 508,175.6 509,175.3 510,175.4 511,174.6 512,175.6 513,175.1 514,175.6 515,175.5 516,176.3 517,175.4 518,175.7 519,174.5 520,175.7 521,174.8 522,175.1 523,175 524,175.3 525,175.6 526,175.2 527,175.6 528,166 529,168.8 530,171.9 531,173.1 532,173.1 533,173.5 534,174.2 535,174.9 536,175.8 537,174.6 538,174.5 539,175 540,175.4 541,175.2 542,175.2 543,175.5 544,175.3 545,175.8 546,175.4 547,177.1 548,175.2 549,175.3 550,175.4 551,175 552,175.2 553,175.9 554,175.7 555,175.9 556,176.8 557,176.2 558,175.3 559,175.8 560,175.9" fill="none" stroke="#2f8246" stroke-width="1.8" stroke-linejoin="round" />
<path d="M282,195.6 283,195.6 284,195.6 285,196 286,196.1 287,195.4 288,195.3 289,195.5 290,195.2 291,195.4 292,195.8 293,195.8 294,195.6 295,195.1 296,195.5 297,195.7 298,195 299,196 300,195.6 301,196.3 302,195.5 303,195.4 304,195.4 305,193.8 306,193.2 307,192.7 308,194 309,194.6 310,194.4 311,194.8 312,195.9 313,194.8 314,194.4 315,187.4 316,190.3 317,191.9 318,191.9 319,186.5 320,190.4 321,192 322,193.3 323,193.6 324,194.1 325,194.8 326,194.4 327,195.1 328,195.7 329,194.5 330,195.1 331,193.3 332,186.5 333,189.5 334,191.5 335,193.4 336,194.1 337,191.9 338,190.7 339,192.8 340,193.1 341,194 342,194.3 343,192.7 344,189.5 345,192 346,192.2 347,193.3 348,195 349,195.1 350,194.7 351,190.5 352,191.5 353,193.6 354,193.3 355,194.7 356,192.6 357,187.5 358,189.9 359,191.4 360,193.1 361,194 362,194.4 363,194.8 364,194.6 365,193.7 366,188.2 367,190.7 368,192.5 369,193.3 370,194.2 371,194.9 372,193.1 373,185.7 374,188.5 375,190.9 376,192.8 377,193.9 378,193.7 379,194 380,190.3 381,185.8 382,188.6 383,191 384,192.8 385,194 386,194 387,194.9 388,195.3 389,194.8 390,195.1 391,195.3 392,195.3 393,194 394,186.7 395,189.5 396,191.2 397,192.5 398,193.4 399,194.4 400,194.3 401,188.4 402,188.4 403,190.6 404,191.3 405,193.5 406,194 407,194.1 408,194.8 409,195.2 410,194.9 411,195.2 412,194.7 413,194.2 414,188.4 415,191.1 416,192.1 417,193.5 418,193.6 419,194.7 420,195.4 421,195.6 422,192.5 423,190.2 424,191.6 425,193.4 426,193.6 427,194.5 428,194.6 429,194.6 430,194.8 431,195.1 432,194.9 433,194.6 434,189.8 435,190.1 436,191.6 437,190.6 438,186 439,189.6 440,186.6 441,184.7 442,187.9 443,190.4 444,192.1 445,193.2 446,193.8 447,194.7 448,194.5 449,194.8 450,195.2 451,194.8 452,191 453,191.5 454,192.7 455,194.5 456,192.7 457,190.5 458,191.7 459,193.4 460,194.3 461,194.6 462,195.3 463,195.3 464,195.2 465,195.4 466,196.3 467,195.4 468,195.6 469,196 470,191.8 471,192.6 472,192.7 473,194.3 474,194.8 475,193.1 476,191.5 477,192.4 478,193.5 479,194.1 480,194.3 481,190 482,191.2 483,193.1 484,193.8 485,194.4 486,193.9 487,194.9 488,194.6 489,189.2 490,191.7 491,192.4 492,193.3 493,193.8 494,194.6 495,194 496,195 497,195.3 498,195.4 499,195.1 500,194.5 501,195.8 502,195.2 503,195.9 504,195.2 505,196.2 506,195.8 507,195.3 508,195.5 509,195 510,195.5 511,195.9 512,195.1 513,195.3 514,195.6 515,195.1 516,194.8 517,189.9 518,191.1 519,192.7 520,193.5 521,194.6 522,192.1 523,191.4 524,192.4 525,194.1 526,193.6 527,195 528,195 529,194.5 530,195.3 531,194.9 532,194.9 533,194.8 534,194.7 535,195.3 536,195.6 537,195.5 538,195 539,195.1 540,195.3 541,195.7 542,195.1 543,195.2 544,195.6 545,195.6 546,195.5 547,196 548,195.4 549,195.7 550,196.2 551,196 552,195.4 553,196.1 554,195.3 555,195.6 556,195.1 557,195.7 558,195.6 559,194.9 560,195.2" fill="none" stroke="#e9212c" stroke-width="1.5" stroke-linejoin="round" />
<path d="M282,227.2 283,227.6 284,226.8 285,227.2 286,226.8 287,227.1 288,227.2 289,227 290,227.3 291,226.8 292,227.2 293,227.3 294,227.2 295,227.2 296,227.1 297,227.2 298,227.5 299,227.5 300,226.6 301,226.6 302,226.7 303,227 304,227.1 305,226.7 306,226.6 307,226.7 308,226.8 309,226.8 310,227.1 311,227 312,227.3 313,226.4 314,226.7 315,226.6 316,226.7 317,227.2 318,226.7 319,226.8 320,226.5 321,226.7 322,226.9 323,227.4 324,226.4 325,226.7 326,227.1 327,227.1 328,227.2 329,227.1 330,226.1 331,227.5 332,226.7 333,226.9 334,227 335,227.1 336,227.4 337,226.7 338,226.8 339,227.3 340,227.2 341,227.6 342,227.1 343,227.2 344,227.5 345,227.2 346,227 347,227.3 348,227.1 349,226.3 350,226.8 351,227.9 352,227.1 353,227.4 354,226.9 355,227.1 356,227.1 357,226.8 358,227 359,226.2 360,227.1 361,226.5 362,227.1 363,227.2 364,227.3 365,227.7 366,227.6 367,226.8 368,227.4 369,226.9 370,227.3 371,226.7 372,227.7 373,227.8 374,226.9 375,226.9 376,226.7 377,227.7 378,226.8 379,227 380,227.1 381,226.9 382,226.9 383,226.9 384,227.2 385,226.7 386,227 387,227.4 388,226.6 389,226.5 390,226.5 391,226.8 392,226.7 393,227.2 394,226.8 395,221.1 396,208.8 397,213.1 398,216 399,218.7 400,218.4 401,207.5 402,205.5 403,209.9 404,213.1 405,215.8 406,218 407,219.5 408,220.9 409,221.7 410,222.4 411,224.1 412,224.1 413,225.3 414,224.8 415,218.5 416,208.9 417,213.1 418,216.3 419,218.4 420,220.7 421,221.5 422,217.7 423,216.1 424,218.8 425,221 426,222.7 427,223.8 428,224.6 429,225.5 430,225.1 431,219.4 432,215.7 433,218.4 434,220.4 435,222.1 436,222.8 437,223.8 438,220.7 439,217.5 440,219.8 441,221.9 442,223 443,224.3 444,225.2 445,225.8 446,226.2 447,226.5 448,226.8 449,226.3 450,226.7 451,226.5 452,227 453,227 454,223.4 455,214.4 456,217.4 457,218.8 458,220.9 459,222.7 460,222.6 461,223.8 462,225.3 463,225.7 464,226.2 465,226.1 466,226.8 467,226.5 468,226.5 469,226.3 470,226.9 471,225.6 472,222.4 473,223.8 474,224.2 475,225.2 476,224.3 477,221.1 478,223 479,223.9 480,222.5 481,215.5 482,218.9 483,221 484,222.5 485,224 486,224.5 487,225.8 488,224.5 489,221.6 490,222.1 491,223.6 492,224.1 493,225.2 494,226.2 495,226.9 496,225.3 497,222.9 498,222.8 499,223.9 500,224.8 501,225.6 502,226.1 503,226 504,226.6 505,223.2 506,218.2 507,220.7 508,222.2 509,223.9 510,224.8 511,225.8 512,226.1 513,225.9 514,227.1 515,223.9 516,217.5 517,221 518,222.4 519,223.3 520,223.5 521,220.7 522,219 523,221.7 524,222.9 525,224.2 526,224.5 527,225.4 528,225.7 529,226.5 530,226.6 531,226.7 532,226.9 533,226.9 534,226.8 535,227 536,226.6 537,226.2 538,225.9 539,226.5 540,227.2 541,226.7 542,227.2 543,227.3 544,227.6 545,226.9 546,226.4 547,226.7 548,226.9 549,226.9 550,226.8 551,227.5 552,226.7 553,227.5 554,227.2 555,226.7 556,226.7 557,226.7 558,226.9 559,227.5 560,226.9" fill="none" stroke="#e9212c" stroke-width="1.5" stroke-linejoin="round" />
<path d="M282,255.9 282.5,256 283,254.4 283.5,256.5 284,255.3 284.5,256 285,255.9 285.5,256.3 286,258 286.5,256.9 287,255.2 287.5,257.4 288,256.2 288.5,256.3 289,259.1 289.5,258.4 290,256.5 290.5,258.5 291,258.5 291.5,257.8 292,258.6 292.5,257.9 293,258.4 293.5,255.9 294,258 294.5,258.3 295,258 295.5,258.3 296,255.9 296.5,255.5 297,249.8 297.5,253.5 298,254.4 298.5,254.8 299,256 299.5,255.8 300,258.8 300.5,255.8 301,256.4 301.5,256.9 302,255.2 302.5,256.7 303,256.4 303.5,255 304,257.2 304.5,258.1 305,257.3 305.5,259 306,256.2 306.5,255.1 307,256.9 307.5,257.7 308,256.3 308.5,255.6 309,256.4 309.5,255 310,257.3 310.5,258.5 311,256.4 311.5,260.1 312,259.1 312.5,255.9 313,257.8 313.5,258.5 314,258.7 314.5,256.6 315,257.3 315.5,255 316,257.9 316.5,258.5 317,254.3 317.5,257.1 318,257.2 318.5,258 319,256.6 319.5,258.3 320,258.4 320.5,257.2 321,257.6 321.5,257.7 322,257.4 322.5,255.6 323,257.2 323.5,257.2 324,257.8 324.5,257.8 325,259.1 325.5,257.4 326,257.7 326.5,256.1 327,257.4 327.5,257.3 328,260.3 328.5,254.5 329,258.9 329.5,257.4 330,255.7 330.5,256 331,256.9 331.5,256.5 332,259.8 332.5,257.7 333,258.8 333.5,256.3 334,259.2 334.5,257 335,257.6 335.5,258.9 336,258.3 336.5,257.7 337,258.1 337.5,258.5 338,256.6 338.5,258.6 339,256.2 339.5,257.2 340,255.1 340.5,257 341,258.5 341.5,253.4 342,257 342.5,258.4 343,256.4 343.5,256.9 344,257.6 344.5,259 345,258.9 345.5,256.2 346,256.5 346.5,257.4 347,258.6 347.5,255.3 348,257.8 348.5,257.7 349,256.8 349.5,255.6 350,255.1 350.5,258.2 351,253.2 351.5,247.9 352,250.5 352.5,252.7 353,255 353.5,255 354,255.9 354.5,257.2 355,250 355.5,238.5 356,245.2 356.5,250.5 357,253.4 357.5,257.9 358,255.1 358.5,258.6 359,257.4 359.5,257.8 360,256 360.5,256.5 361,256.1 361.5,258.8 362,256.3 362.5,257.4 363,256.1 363.5,258.4 364,253.3 364.5,242.5 365,247.6 365.5,253.2 366,253.7 366.5,254 367,255.8 367.5,252 368,239.4 368.5,246.2 369,250.5 369.5,251.6 370,252.9 370.5,252.3 371,251 371.5,241.1 372,244.1 372.5,247.9 373,251.8 373.5,253.3 374,257.4 374.5,255.6 375,258.9 375.5,256.6 376,257.7 376.5,255.8 377,259.1 377.5,257.4 378,256 378.5,256.4 379,257.4 379.5,256.7 380,258.1 380.5,256.2 381,256.7 381.5,238.8 382,244.7 382.5,249.5 383,249.9 383.5,243.1 384,249.5 384.5,251.3 385,254.9 385.5,252.6 386,243.5 386.5,250 387,254.1 387.5,254.1 388,256.9 388.5,256.1 389,257.4 389.5,254.5 390,257 390.5,254.6 391,256.4 391.5,256.7 392,258.3 392.5,258 393,257.7 393.5,254.7 394,240.6 394.5,244.1 395,253 395.5,254.1 396,256.8 396.5,254.5 397,254 397.5,255.4 398,257.6 398.5,255.4 399,254.2 399.5,255.8 400,258.4 400.5,256.4 401,257.5 401.5,254.6 402,243.6 402.5,250.5 403,251.5 403.5,257.2 404,255.9 404.5,255.3 405,256.3 405.5,254.9 406,256.3 406.5,246.2 407,242.4 407.5,253.4 408,251.8 408.5,251.1 409,240.8 409.5,245.6 410,250.6 410.5,248.9 411,236.7 411.5,246.3 412,249.9 412.5,252.1 413,253.5 413.5,254.3 414,255 414.5,256.7 415,256.9 415.5,246.4 416,244.5 416.5,247.9 417,252 417.5,253.5 418,255.2 418.5,250.3 419,247.9 419.5,248.8 420,252 420.5,254 421,254.9 421.5,256.4 422,257.4 422.5,255.8 423,256.7 423.5,259.4 424,255 424.5,257.7 425,256 425.5,257.6 426,258.1 426.5,253.2 427,259.1 427.5,255.1 428,257.3 428.5,259.3 429,256.2 429.5,258.3 430,252.2 430.5,238 431,244.6 431.5,249 432,249.6 432.5,254.6 433,253.5 433.5,256.3 434,255.9 434.5,256.4 435,255 435.5,254.8 436,248.9 436.5,252 437,255.2 437.5,256 438,255.7 438.5,256.7 439,254.7 439.5,259.7 440,259.1 440.5,259.6 441,252.1 441.5,239.8 442,248.7 442.5,250.3 443,252.9 443.5,254.9 444,255.1 444.5,254.9 445,256.5 445.5,254.7 446,248.6 446.5,253.7 447,256.6 447.5,256.1 448,256.4 448.5,255.6 449,256.5 449.5,257.1 450,254.2 450.5,253.7 451,251 451.5,244.4 452,247.4 452.5,250.6 453,254.4 453.5,254.7 454,257.9 454.5,256.9 455,255.1 455.5,254.3 456,244.1 456.5,247.9 457,253.3 457.5,254 458,254.8 458.5,257.5 459,256.9 459.5,257.8 460,257.3 460.5,253.1 461,247.7 461.5,244.1 462,248.2 462.5,255 463,252.9 463.5,254.3 464,257.3 464.5,256.2 465,258.3 465.5,258.7 466,255.4 466.5,242.9 467,246.7 467.5,247.6 468,251.6 468.5,249.6 469,240.4 469.5,247.3 470,253 470.5,254.2 471,254.8 471.5,251.4 472,239.3 472.5,248 473,250 473.5,251.6 474,257.2 474.5,255.1 475,255.4 475.5,257.1 476,256.2 476.5,258.2 477,255.4 477.5,252.8 478,257.6 478.5,255 479,257.1 479.5,256.3 480,243.5 480.5,249.7 481,251.7 481.5,254.4 482,256.4 482.5,255.3 483,255.7 483.5,258.7 484,254.4 484.5,255.7 485,255.3 485.5,259.5 486,258.1 486.5,256 487,259.9 487.5,257.2 488,258.1 488.5,259 489,257.6 489.5,256 490,257 490.5,254.2 491,257.6 491.5,257.9 492,256.2 492.5,254.9 493,256.4 493.5,256.6 494,258.9 494.5,255.8 495,256.7 495.5,257.7 496,256.5 496.5,256.7 497,256 497.5,257.6 498,255.5 498.5,255.9 499,255.9 499.5,259 500,256.1 500.5,258.1 501,256.1 501.5,258.6 502,256.7 502.5,257.9 503,257.2 503.5,258.9 504,260.7 504.5,260.4 505,258.3 505.5,258.1 506,258 506.5,257.2 507,255.2 507.5,257.5 508,257.3 508.5,256.5 509,256.5 509.5,258.3 510,257.8 510.5,257.9 511,257.3 511.5,258.2 512,259.4 512.5,258.3 513,256.1 513.5,259.1 514,256.7 514.5,256.1 515,258.1 515.5,259.2 516,259.2 516.5,255.6 517,256.3 517.5,256.3 518,254.9 518.5,257 519,256.5 519.5,257.8 520,254.5 520.5,259.9 521,258.4 521.5,256.4 522,257 522.5,259.4 523,256.4 523.5,256.7 524,258.1 524.5,258.6 525,255.7 525.5,257.9 526,256.5 526.5,257.8 527,254.2 527.5,253.4 528,255.3 528.5,256.7 529,254.5 529.5,246 530,247.9 530.5,249.5 531,254.1 531.5,251.9 532,242.9 532.5,250.9 533,254.7 533.5,254.5 534,255.5 534.5,254.3 535,245.6 535.5,248.7 536,253 536.5,254.1 537,253.7 537.5,254.4 538,255.5 538.5,255.5 539,257.8 539.5,255.8 540,260.3 540.5,255.7 541,257.6 541.5,258.8 542,257.7 542.5,258.7 543,256.8 543.5,256.2 544,257.2 544.5,258.3 545,259.1 545.5,255.5 546,257 546.5,256.8 547,255 547.5,255.7 548,257.8 548.5,255 549,258 549.5,255.6 550,257.3 550.5,258.7 551,258.4 551.5,257.8 552,256.7 552.5,258.1 553,254.5 553.5,256.4 554,254.9 554.5,255.5 555,251.1 555.5,254.6 556,253.4 556.5,257.3 557,254.5 557.5,256.2 558,257.3 558.5,258 559,256.4 559.5,259.3 560,256.4" fill="none" stroke="#e9212c" stroke-width="1.3" stroke-linejoin="round" />
<path d="M282,282.5 283,283.2 284,282 285,280.8 286,277.9 287,279 288,280 289,280.4 290,277.7 291,275.7 292,278.2 293,279.6 294,279.8 295,277.5 296,273.6 297,276.3 298,276.4 299,278.8 300,279.1 301,280.9 302,280.8 303,281.7 304,280.3 305,277.5 306,278.9 307,279.6 308,280.2 309,280.1 310,280.6 311,281.5 312,282.2 313,282 314,282.9 315,283.2 316,281.7 317,280.4 318,279.3 319,280.9 320,280.5 321,281.2 322,279.9 323,277.4 324,278.9 325,279.7 326,280.1 327,280 328,281.2 329,281.6 330,281.6 331,282.3 332,282.4 333,282.7 334,283.5 335,282.1 336,282.1 337,282.6 338,282.6 339,281.8 340,281.4 341,278.1 342,272 343,275.4 344,276.7 345,277.5 346,279.2 347,280.9 348,280.2 349,281 350,281.2 351,281.3 352,282.3 353,281.8 354,282 355,280.6 356,280.1 357,281.3 358,280.8 359,282 360,282.6 361,282.3 362,282.1 363,279.8 364,277.9 365,278.6 366,280.3 367,280.8 368,280.7 369,281.5 370,280.2 371,275.7 372,272.5 373,275.4 374,276.6 375,275.8 376,273.3 377,275.9 378,278 379,279.2 380,279.6 381,280.4 382,281.1 383,281.2 384,281.8 385,281.3 386,278.2 387,272.4 388,275 389,277 390,278.5 391,279.8 392,280.2 393,281.1 394,281.3 395,281.1 396,281.5 397,280.8 398,279.5 399,277.6 400,278.6 401,279.7 402,280.1 403,281.2 404,279.1 405,275.3 406,277.9 407,278.3 408,279.8 409,281.2 410,280.9 411,281 412,281.5 413,281.6 414,280.1 415,277.8 416,279 417,278.9 418,279.8 419,280.8 420,281.1 421,281.4 422,281.5 423,282.4 424,283 425,282.4 426,282.4 427,282.7 428,282.4 429,282.6 430,282.6 431,282.8 432,282.7 433,282.4 434,282.1 435,280.1 436,277.4 437,278.3 438,279.1 439,278.8 440,276 441,274.8 442,276.1 443,274.3 444,267.5 445,271.2 446,273.9 447,275.4 448,277 449,279.7 450,280.2 451,280.7 452,281.1 453,281.9 454,281.6 455,282 456,281.8 457,281.7 458,280.3 459,279.4 460,280.7 461,281.2 462,281.1 463,281.4 464,282.3 465,282.4 466,282.5 467,282.7 468,281.7 469,281.6 470,281.5 471,282.2 472,282.2 473,282.7 474,282.5 475,282.5 476,282.4 477,282.4 478,282.4 479,281.6 480,281.3 481,278.3 482,279.7 483,280.5 484,280.6 485,281.5 486,281.4 487,281.5 488,281.6 489,281.9 490,282 491,281.1 492,280.1 493,280.9 494,281.7 495,281.4 496,281.9 497,282.2 498,282.2 499,282.2 500,282.6 501,282 502,279.2 503,276.6 504,278.7 505,279.1 506,280.5 507,280.4 508,276.2 509,268.6 510,269.9 511,268.1 512,265.9 513,270 514,273 515,275.5 516,277.3 517,277.9 518,276 519,277.5 520,278.8 521,279.8 522,280.9 523,281 524,281 525,280 526,277 527,278.8 528,279.3 529,279.8 530,280.4 531,280.9 532,281.5 533,281.7 534,281.9 535,282.1 536,282.4 537,282.1 538,281.9 539,282.7 540,280 541,273.4 542,273.4 543,275.1 544,277.6 545,277.8 546,279.5 547,279.9 548,280.7 549,280.8 550,281.2 551,281.8 552,281.9 553,282.2 554,280.6 555,278.1 556,278.7 557,279.7 558,280.9 559,281.9 560,281.1" fill="none" stroke="#c9b03a" stroke-width="1.7" stroke-linejoin="round" />
<path d="M282,310.5 283,310.8 284,310 285,310.5 286,310.6 287,311 288,310.8 289,310.2 290,311.1 291,310.6 292,310.2 293,310.8 294,310.7 295,310.9 296,310.5 297,310.3 298,310 299,310.5 300,310.1 301,310.4 302,310.5 303,310.9 304,310.9 305,311 306,310.4 307,310.7 308,311.3 309,310 310,311.1 311,311 312,310.9 313,310.3 314,310.2 315,310.8 316,310.8 317,311.5 318,310.6 319,310.3 320,310.6 321,311 322,310.4 323,309.8 324,310.4 325,310.6 326,310.7 327,311.2 328,310.5 329,311 330,311 331,311.1 332,311.3 333,310.5 334,311.3 335,311.1 336,310.5 337,310.3 338,310.4 339,310.5 340,311.1 341,310.4 342,310.2 343,310.2 344,310.8 345,311.3 346,310.8 347,311.1 348,310.6 349,311.3 350,311.5 351,310.8 352,310.7 353,311.3 354,310.6 355,310.1 356,310.7 357,310.8 358,310.6 359,310.8 360,310.9 361,310.8 362,311 363,311.5 364,310.7 365,311.2 366,310.9 367,310.7 368,310.5 369,310.3 370,311 371,310.7 372,310 373,310.6 374,310.6 375,310.4 376,311 377,310.6 378,311.3 379,310.4 380,310.3 381,310.8 382,311 383,310.8 384,310.7 385,310.7 386,310.9 387,310.9 388,310.3 389,310.7 390,310.4 391,310.9 392,310.8 393,310.3 394,310.9 395,310.3 396,311.4 397,310.9 398,310.2 399,310.7 400,310.5 401,310.1 402,310.5 403,309.8 404,310.8 405,310.8 406,310.2 407,310.9 408,310.8 409,311.3 410,311.3 411,311.7 412,310.6 413,311 414,310.4 415,309.6 416,310.4 417,310.3 418,309.6 419,310.6 420,311 421,311.1 422,310.4 423,310.3 424,310.2 425,310.2 426,310.4 427,310.8 428,310.4 429,310.1 430,310.6 431,311.3 432,310.8 433,310.6 434,311 435,311.3 436,310.1 437,310.6 438,310.9 439,310 440,310.7 441,311.4 442,310.3 443,310.4 444,311.3 445,311.4 446,310.1 447,310.5 448,310.6 449,310.5 450,311.5 451,310.7 452,310.4 453,310.8 454,311.1 455,310.6 456,310.3 457,310.8 458,310.8 459,310.8 460,310.8 461,311.2 462,310.5 463,310.3 464,310.7 465,311 466,311 467,310.3 468,305.4 469,293.8 470,293.6 471,299.8 472,302.7 473,305.7 474,307.2 475,308.6 476,309.2 477,309.7 478,310.5 479,310.4 480,310.4 481,309.9 482,310.3 483,310.1 484,310 485,310.8 486,310.2 487,310.1 488,310.3 489,310.7 490,311 491,310.5 492,310.6 493,311.1 494,310.4 495,310.5 496,309.9 497,311 498,311.7 499,310.7 500,311.4 501,310.5 502,309.2 503,309.4 504,310.1 505,310 506,310.2 507,310.5 508,310.7 509,311.1 510,310.2 511,310.3 512,310.8 513,310.9 514,310.5 515,311.1 516,310.4 517,310.6 518,310.5 519,310.4 520,309.7 521,310 522,310.5 523,310.8 524,310.1 525,310.7 526,310 527,306.9 528,308.5 529,309.8 530,310 531,310.1 532,310.2 533,310.5 534,310.7 535,311.1 536,311 537,311.1 538,310.4 539,310 540,310.8 541,310.9 542,311 543,310.1 544,309.9 545,310.5 546,310.7 547,311.3 548,310.5 549,310 550,311.1 551,310.5 552,310 553,310.8 554,311.1 555,310.7 556,310.6 557,310.1 558,311.2 559,310.5 560,311.9" fill="none" stroke="#c9b03a" stroke-width="1.7" stroke-linejoin="round" />
<path d="M282,335.4 283,335.6 284,334.5 285,334.9 286,335.1 287,335.3 288,334.4 289,334.7 290,334.5 291,335 292,334.7 293,334.4 294,334.6 295,334.8 296,335.6 297,335 298,335.1 299,335.9 300,334.5 301,334.8 302,334.3 303,334.8 304,334.6 305,335.6 306,334.9 307,334.7 308,335.5 309,335.2 310,335.6 311,334.4 312,335.1 313,335.3 314,335.4 315,335.7 316,336 317,335.7 318,335.3 319,335.6 320,335.4 321,334.2 322,335.1 323,335.6 324,334.6 325,334 326,334.6 327,334.8 328,335.9 329,335.1 330,334.6 331,334.1 332,334.9 333,335 334,334.5 335,335.2 336,335.3 337,335.5 338,335.4 339,335.2 340,335 341,334.6 342,334.3 343,334.3 344,334.7 345,335.6 346,335.1 347,334.9 348,334.8 349,334.9 350,334.6 351,332 352,327.9 353,330.2 354,332 355,333 356,333.4 357,330.8 358,323.8 359,326.9 360,329 361,330.8 362,329.8 363,323 364,320 365,324.3 366,328.3 367,328.9 368,331 369,332.9 370,332.3 371,333.6 372,333.4 373,330.6 374,330.9 375,331.7 376,332.8 377,333.4 378,333.5 379,332.9 380,326.5 381,323.5 382,326.8 383,329.2 384,330.8 385,331.6 386,333 387,330.1 388,328.3 389,329.1 390,331 391,331.8 392,333 393,333 394,330.9 395,325.1 396,327.8 397,330.6 398,331.6 399,332.3 400,330.7 401,326.3 402,325.8 403,328.9 404,330.9 405,331.2 406,332.2 407,333 408,333.6 409,333.9 410,335 411,335.4 412,334.8 413,334.7 414,334.7 415,334.8 416,334.9 417,335.3 418,335.7 419,334.5 420,334.8 421,335.4 422,334.6 423,335.4 424,334.9 425,334.6 426,334.8 427,335.1 428,333.4 429,332.7 430,333.3 431,333.1 432,334.3 433,334.3 434,334.1 435,334.1 436,334.4 437,334.6 438,334.9 439,334.9 440,334.8 441,335.3 442,334.8 443,334.5 444,334.9 445,335.3 446,335.1 447,335.5 448,335.5 449,335.7 450,335.6 451,336.1 452,335.4 453,335.2 454,334.7 455,335.2 456,335.2 457,335 458,335.2 459,335 460,335.3 461,334.7 462,334.9 463,334.3 464,335.3 465,335.2 466,335.5 467,334.5 468,334.8 469,334.7 470,334.4 471,335 472,334.9 473,334.8 474,335.4 475,334.7 476,334.7 477,334.8 478,335.5 479,334.7 480,334.9 481,335.3 482,335.7 483,336.5 484,335.3 485,335.6 486,335.5 487,335.4 488,335.1 489,335.1 490,335.2 491,334.7 492,334.7 493,335.2 494,335 495,335.8 496,334.6 497,335.4 498,335.3 499,335.1 500,334.7 501,335 502,334.3 503,335.2 504,334.9 505,335.6 506,335.2 507,335.7 508,334.9 509,334.8 510,335 511,335.5 512,334.7 513,335.3 514,335.2 515,335.2 516,335.5 517,335.3 518,335.8 519,335.4 520,335.1 521,334.4 522,335.2 523,334.9 524,335.2 525,334.4 526,334.9 527,335 528,334.5 529,334.9 530,335.3 531,334.3 532,334.6 533,334.9 534,335.3 535,334.8 536,334.6 537,334.9 538,335.5 539,335 540,335.3 541,335 542,334.4 543,334.5 544,335.3 545,335 546,335.1 547,335.2 548,334.9 549,334.8 550,334.3 551,335 552,334.3 553,334.4 554,335.6 555,335.8 556,335.2 557,334.6 558,335.2 559,335.2 560,334.8" fill="none" stroke="#c9b03a" stroke-width="1.7" stroke-linejoin="round" />
<path d="M282,386.6 283,386.8 284,386.5 285,386.7 286,386.6 287,386.6 288,386.8 289,386.6 290,386.6 291,386.7 292,386.7 293,386.6 294,386.7 295,386.5 296,386.6 297,386.5 298,386.4 299,386.4 300,386.4 301,386.6 302,386.6 303,386.6 304,386.6 305,386.4 306,386.6 307,386.6 308,386.7 309,386.5 310,386.6 311,386.4 312,386.5 313,386.3 314,386.4 315,386.7 316,386.3 317,386.7 318,386.6 319,386.6 320,386.7 321,386.7 322,386.7 323,386.6 324,386.5 325,386.5 326,386.5 327,386.6 328,386.5 329,386.7 330,386.4 331,386.5 332,386.5 333,386.3 334,386.8 335,386.3 336,386.6 337,386.5 338,386.8 339,386.4 340,386.7 341,386.5 342,386.6 343,386.5 344,386.7 345,386.5 346,386.6 347,386.6 348,386.8 349,386.3 350,386.8 351,386.7 352,386.5 353,386.6 354,386.5 355,386.8 356,386.6 357,386.6 358,386.6 359,386.6 360,386.6 361,386.5 362,386.8 363,386.4 364,386.2 365,386.6 366,386.6 367,386.6 368,386.6 369,386.6 370,386.6 371,386.7 372,386.5 373,386.6 374,386.8 375,386.7 376,386.5 377,386.9 378,386.7 379,386.5 380,386.5 381,386.6 382,386.5 383,386.5 384,386.4 385,386.5 386,386.7 387,386.5 388,386.4 389,386.7 390,386.6 391,386.7 392,386.7 393,386.6 394,386.6 395,386.6 396,386.5 397,386.7 398,386.8 399,386.6 400,386.6 401,386.6 402,386.5 403,386.5 404,386.6 405,386.5 406,386.5 407,386.4 408,386.6 409,386.6 410,386.5 411,386.3 412,386.6 413,386.7 414,386.5 415,386.5 416,386.5 417,386.7 418,386.5 419,386.7 420,386.6 421,386.7 422,386.6 423,386.6 424,386.4 425,386.5 426,386.6 427,386.7 428,386.6 429,386.5 430,386.6 431,386.7 432,386.6 433,386.5 434,386.6 435,386.7 436,386.7 437,386.5 438,386.6 439,386.5 440,386.5 441,386.7 442,386.7 443,386.5 444,386.6 445,386.7 446,386.5 447,386.6 448,386.7 449,386.4 450,386.6 451,386.7 452,386.7 453,386.4 454,386.6 455,386.5 456,386.7 457,386.7 458,386.6 459,386.5 460,386.5 461,386.7 462,386.5 463,386.7 464,386.7 465,386.6 466,386.9 467,386.6 468,386.9 469,386.4 470,386.3 471,386.7 472,386.7 473,386.6 474,386.6 475,386.4 476,386.5 477,386.5 478,386.6 479,386.7 480,386.6 481,386.6 482,386.5 483,386.5 484,386.6 485,386.6 486,386.8 487,386.5 488,386.8 489,386.5 490,386.7 491,386.5 492,386.8 493,386.6 494,386.6 495,386.7 496,386.5 497,386.5 498,386.4 499,386.7 500,386.5 501,386.5 502,386.6 503,386.8 504,386.4 505,386.6 506,386.6 507,386.7 508,386.4 509,386.6 510,386.7 511,386.8 512,386.8 513,386.5 514,386.6 515,386.6 516,386.4 517,386.4 518,386.7 519,386.6 520,386.6 521,386.7 522,386.5 523,386.7 524,386.6 525,386.6 526,386.7 527,386.6 528,386.6 529,386.6 530,386.8 531,386.6 532,386.7 533,386.7 534,386.6 535,386.7 536,386.5 537,386.7 538,386.5 539,386.5 540,386.6 541,386.7 542,386.7 543,386.7 544,386.6 545,386.5 546,386.7 547,387.8 548,389.8 549,391.2 550,391.1 551,391 552,391.2 553,390.9 554,391 555,391.1 556,390.9 557,391.1 558,390.9 559,391.2 560,391" fill="none" stroke="#8c8c8c" stroke-width="1.2" stroke-linejoin="round" />
<path d="M290.6,386.6 291.4,393.8 291.8,383.9 292.2,410.6 292.6,375.6 293,399.8 293.4,381.7 293.8,391.4 294.6,385.6 295.6,386.6" fill="none" stroke="#16262c" stroke-width="0.8" stroke-linejoin="round" />
<path d="M307,386.6 307.8,388.4 308.2,382.1 308.6,392.6 309,368.6 309.4,389.9 309.8,378.5 310.2,387.8 310.8,380.3 312,383.6 314,385.6 316,386.6" fill="none" stroke="#16262c" stroke-width="0.8" stroke-linejoin="round" />
<path d="M322.5,386.6 323.3,389.9 323.7,384.9 324.1,397.6 324.5,379.6 324.9,392.7 325.3,383.5 325.7,388.8 326.5,382.4 327,394.3 327.7,383.8 328.5,389.9 329.5,386.6" fill="none" stroke="#16262c" stroke-width="0.8" stroke-linejoin="round" />
<path d="M343,386.6 343.8,389.3 344.2,384.1 344.6,395.6 345,376.6 345.4,391.6 345.8,382.1 346.2,388.4 347,385.6 348,386.6" fill="none" stroke="#16262c" stroke-width="0.8" stroke-linejoin="round" />
<path d="M358.6,386.6 359.4,388.7 359.8,384.4 360.2,393.6 360.6,377.6 361,390.5 361.4,382.6 361.8,388 362.6,385.6 363.6,386.6" fill="none" stroke="#16262c" stroke-width="0.8" stroke-linejoin="round" />
<path d="M374.7,386.6 375.5,388.4 375.9,383.9 376.3,392.6 376.7,375.6 377.1,389.9 377.5,381.7 377.9,387.8 378.5,382.8 379.7,383.6 381.7,385.6 383.7,386.6" fill="none" stroke="#16262c" stroke-width="0.8" stroke-linejoin="round" />
<path d="M388,386.6 388.8,389 389.2,385.9 389.6,394.6 390,383.6 390.4,391 390.8,385.2 391.2,388.2 392,385.6 393,386.6" fill="none" stroke="#16262c" stroke-width="0.8" stroke-linejoin="round" />
<path d="M394,386.6 394.8,388.4 395.2,385.4 395.6,392.6 396,381.6 396.4,389.9 396.8,384.4 397.2,387.8 398,385.6 399,386.6" fill="none" stroke="#16262c" stroke-width="0.8" stroke-linejoin="round" />
<path d="M405.6,386.6 406.4,392 406.8,383.6 407.2,404.6 407.6,374.6 408,396.5 408.4,381.2 408.8,390.2 409.6,385.6 410.6,386.6" fill="none" stroke="#16262c" stroke-width="0.8" stroke-linejoin="round" />
<path d="M423.6,386.6 424.4,388.7 424.8,383.1 425.2,393.6 425.6,372.6 426,390.5 426.4,380.3 426.8,388 427.4,381.7 428.6,383.6 430.6,385.6 432.6,386.6" fill="none" stroke="#16262c" stroke-width="0.8" stroke-linejoin="round" />
<path d="M445,386.6 445.8,389.3 446.2,382.9 446.6,395.6 447,371.6 447.4,391.6 447.8,379.9 448.2,388.4 449,385.6 450,386.6" fill="none" stroke="#16262c" stroke-width="0.8" stroke-linejoin="round" />
<path d="M462.6,386.6 463.4,389 463.8,383.6 464.2,394.6 464.6,374.6 465,391 465.4,381.2 465.8,388.2 466.6,385.6 467.6,386.6" fill="none" stroke="#16262c" stroke-width="0.8" stroke-linejoin="round" />
<path d="M482,386.6 482.8,389.3 483.2,382.6 483.6,395.6 484,370.6 484.4,391.6 484.8,379.4 485.2,388.4 486,385.6 487,386.6" fill="none" stroke="#16262c" stroke-width="0.8" stroke-linejoin="round" />
<path d="M498,386.6 498.8,387.8 499.2,385.6 499.6,390.6 500,382.6 500.4,388.8 500.8,384.8 501.2,387.4 502,385.6 503,386.6" fill="none" stroke="#16262c" stroke-width="0.8" stroke-linejoin="round" />
<path d="M509,386.6 509.8,389 510.2,384.1 510.6,394.6 511,376.6 511.4,391 511.8,382.1 512.2,388.2 513,385.6 514,386.6" fill="none" stroke="#16262c" stroke-width="0.8" stroke-linejoin="round" />
<path d="M525.8,386.6 526.6,389.9 527,382.6 527.4,397.6 527.8,370.6 528.2,392.7 528.6,379.4 529,388.8 529.8,385.6 530.8,386.6" fill="none" stroke="#16262c" stroke-width="0.8" stroke-linejoin="round" />
<path d="M541,386.6 541.8,393.2 542.2,383.6 542.6,408.6 543,374.6 543.4,398.7 543.8,381.2 544.2,391 545,385.6 546,386.6" fill="none" stroke="#16262c" stroke-width="0.8" stroke-linejoin="round" />
<rect x="274.6" y="64.4" width="2.2" height="25" fill="#231f20"/>
<rect x="273.8" y="309.5" width="2.4" height="35.8" fill="#231f20"/>
<rect x="273.9" y="404.6" width="2.4" height="11.2" fill="#231f20"/>
<rect x="288.2" y="418" width="17.8" height="2.2" fill="#231f20"/>
<g filter="url(#hm)"><rect x="80" y="497" width="126" height="6.3" fill="url(#g1)"/><rect x="80" y="503" width="126" height="6.3" fill="url(#g2)"/><rect x="80" y="509" width="126" height="6.3" fill="url(#g3)"/><rect x="80" y="515" width="126" height="6.3" fill="url(#g4)"/><rect x="80" y="521" width="126" height="6.3" fill="url(#g5)"/><rect x="80" y="527" width="126" height="6.3" fill="url(#g6)"/><rect x="80" y="533" width="126" height="6.3" fill="url(#g7)"/><rect x="80" y="539" width="126" height="6.3" fill="url(#g8)"/><rect x="80" y="545" width="126" height="6.3" fill="url(#g9)"/><rect x="80" y="551" width="126" height="6.3" fill="url(#g10)"/><rect x="80" y="557" width="126" height="6.3" fill="url(#g11)"/><rect x="80" y="563" width="126" height="6.3" fill="url(#g12)"/><rect x="80" y="569" width="126" height="6.3" fill="url(#g13)"/><rect x="80" y="575" width="126" height="6.3" fill="url(#g14)"/><rect x="80" y="581" width="126" height="6.3" fill="url(#g15)"/><rect x="80" y="587" width="126" height="6.3" fill="url(#g16)"/><rect x="80" y="593" width="126" height="6.3" fill="url(#g17)"/><rect x="80" y="599" width="126" height="6.3" fill="url(#g18)"/><rect x="80" y="605" width="126" height="6.3" fill="url(#g19)"/><rect x="80" y="611" width="126" height="6.3" fill="url(#g20)"/><rect x="80" y="617" width="126" height="6.3" fill="url(#g21)"/><rect x="80" y="623" width="126" height="6.3" fill="url(#g22)"/><rect x="80" y="629" width="126" height="6.3" fill="url(#g23)"/><rect x="80" y="635" width="126" height="6.3" fill="url(#g24)"/><rect x="80" y="641" width="126" height="6.3" fill="url(#g25)"/><rect x="80" y="647" width="126" height="6.3" fill="url(#g26)"/><rect x="80" y="653" width="126" height="6.3" fill="url(#g27)"/><rect x="80" y="659" width="126" height="6.3" fill="url(#g28)"/><rect x="80" y="665" width="126" height="6.3" fill="url(#g29)"/><rect x="80" y="671" width="126" height="6.3" fill="url(#g30)"/><rect x="80" y="677" width="126" height="6.3" fill="url(#g31)"/><rect x="80" y="683" width="126" height="6.3" fill="url(#g32)"/><rect x="80" y="689" width="126" height="6.3" fill="url(#g33)"/><rect x="80" y="695" width="126" height="6.3" fill="url(#g34)"/><rect x="80" y="701" width="126" height="6.3" fill="url(#g35)"/><rect x="80" y="707" width="126" height="6.3" fill="url(#g36)"/><rect x="80" y="713" width="126" height="6.3" fill="url(#g37)"/><rect x="80" y="719" width="126" height="6.3" fill="url(#g38)"/><rect x="80" y="725" width="126" height="6.3" fill="url(#g39)"/><rect x="80" y="731" width="126" height="6.3" fill="url(#g40)"/><rect x="80" y="737" width="126" height="6.3" fill="url(#g41)"/><rect x="80" y="743" width="126" height="6.3" fill="url(#g42)"/><rect x="80" y="749" width="126" height="6.3" fill="url(#g43)"/><rect x="80" y="755" width="126" height="6.3" fill="url(#g44)"/><rect x="80" y="761" width="126" height="6.3" fill="url(#g45)"/><rect x="80" y="767" width="126" height="6.3" fill="url(#g46)"/><rect x="80" y="773" width="126" height="6.3" fill="url(#g47)"/><rect x="80" y="779" width="126" height="6.3" fill="url(#g48)"/><rect x="80" y="785" width="126" height="2.3" fill="url(#g49)"/></g>
<g filter="url(#hm)"><rect x="230" y="497" width="127" height="6.3" fill="url(#g50)"/><rect x="230" y="503" width="127" height="6.3" fill="url(#g51)"/><rect x="230" y="509" width="127" height="6.3" fill="url(#g52)"/><rect x="230" y="515" width="127" height="6.3" fill="url(#g53)"/><rect x="230" y="521" width="127" height="6.3" fill="url(#g54)"/><rect x="230" y="527" width="127" height="6.3" fill="url(#g55)"/><rect x="230" y="533" width="127" height="6.3" fill="url(#g56)"/><rect x="230" y="539" width="127" height="6.3" fill="url(#g57)"/><rect x="230" y="545" width="127" height="6.3" fill="url(#g58)"/><rect x="230" y="551" width="127" height="6.3" fill="url(#g59)"/><rect x="230" y="557" width="127" height="6.3" fill="url(#g60)"/><rect x="230" y="563" width="127" height="6.3" fill="url(#g61)"/><rect x="230" y="569" width="127" height="6.3" fill="url(#g62)"/><rect x="230" y="575" width="127" height="6.3" fill="url(#g63)"/><rect x="230" y="581" width="127" height="6.3" fill="url(#g64)"/><rect x="230" y="587" width="127" height="6.3" fill="url(#g65)"/><rect x="230" y="593" width="127" height="6.3" fill="url(#g66)"/><rect x="230" y="599" width="127" height="6.3" fill="url(#g67)"/><rect x="230" y="605" width="127" height="6.3" fill="url(#g68)"/><rect x="230" y="611" width="127" height="6.3" fill="url(#g69)"/><rect x="230" y="617" width="127" height="6.3" fill="url(#g70)"/><rect x="230" y="623" width="127" height="6.3" fill="url(#g71)"/><rect x="230" y="629" width="127" height="6.3" fill="url(#g72)"/><rect x="230" y="635" width="127" height="6.3" fill="url(#g73)"/><rect x="230" y="641" width="127" height="6.3" fill="url(#g74)"/><rect x="230" y="647" width="127" height="6.3" fill="url(#g75)"/><rect x="230" y="653" width="127" height="6.3" fill="url(#g76)"/><rect x="230" y="659" width="127" height="6.3" fill="url(#g77)"/><rect x="230" y="665" width="127" height="6.3" fill="url(#g78)"/><rect x="230" y="671" width="127" height="6.3" fill="url(#g79)"/><rect x="230" y="677" width="127" height="6.3" fill="url(#g80)"/><rect x="230" y="683" width="127" height="6.3" fill="url(#g81)"/><rect x="230" y="689" width="127" height="6.3" fill="url(#g82)"/><rect x="230" y="695" width="127" height="6.3" fill="url(#g83)"/><rect x="230" y="701" width="127" height="6.3" fill="url(#g84)"/><rect x="230" y="707" width="127" height="6.3" fill="url(#g85)"/><rect x="230" y="713" width="127" height="6.3" fill="url(#g86)"/><rect x="230" y="719" width="127" height="6.3" fill="url(#g87)"/><rect x="230" y="725" width="127" height="6.3" fill="url(#g88)"/><rect x="230" y="731" width="127" height="6.3" fill="url(#g89)"/><rect x="230" y="737" width="127" height="6.3" fill="url(#g90)"/><rect x="230" y="743" width="127" height="6.3" fill="url(#g91)"/><rect x="230" y="749" width="127" height="6.3" fill="url(#g92)"/><rect x="230" y="755" width="127" height="6.3" fill="url(#g93)"/><rect x="230" y="761" width="127" height="6.3" fill="url(#g94)"/><rect x="230" y="767" width="127" height="6.3" fill="url(#g95)"/><rect x="230" y="773" width="127" height="6.3" fill="url(#g96)"/><rect x="230" y="779" width="127" height="6.3" fill="url(#g97)"/><rect x="230" y="785" width="127" height="2.3" fill="url(#g98)"/></g>
<g filter="url(#hm)"><rect x="519" y="497" width="127" height="6.3" fill="url(#g99)"/><rect x="519" y="503" width="127" height="6.3" fill="url(#g100)"/><rect x="519" y="509" width="127" height="6.3" fill="url(#g101)"/><rect x="519" y="515" width="127" height="6.3" fill="url(#g102)"/><rect x="519" y="521" width="127" height="6.3" fill="url(#g103)"/><rect x="519" y="527" width="127" height="6.3" fill="url(#g104)"/><rect x="519" y="533" width="127" height="6.3" fill="url(#g105)"/><rect x="519" y="539" width="127" height="6.3" fill="url(#g106)"/><rect x="519" y="545" width="127" height="6.3" fill="url(#g107)"/><rect x="519" y="551" width="127" height="6.3" fill="url(#g108)"/></g>
<g filter="url(#hm)"><rect x="519" y="563" width="127" height="6.3" fill="url(#g109)"/><rect x="519" y="569" width="127" height="6.3" fill="url(#g110)"/><rect x="519" y="575" width="127" height="6.3" fill="url(#g111)"/><rect x="519" y="581" width="127" height="6.3" fill="url(#g112)"/><rect x="519" y="587" width="127" height="6.3" fill="url(#g113)"/><rect x="519" y="593" width="127" height="6.3" fill="url(#g114)"/><rect x="519" y="599" width="127" height="6.3" fill="url(#g115)"/><rect x="519" y="605" width="127" height="6.3" fill="url(#g116)"/><rect x="519" y="611" width="127" height="6.3" fill="url(#g117)"/><rect x="519" y="617" width="127" height="6.3" fill="url(#g118)"/><rect x="519" y="623" width="127" height="6.3" fill="url(#g119)"/><rect x="519" y="629" width="127" height="6.3" fill="url(#g120)"/><rect x="519" y="635" width="127" height="6.3" fill="url(#g121)"/><rect x="519" y="641" width="127" height="6.3" fill="url(#g122)"/><rect x="519" y="647" width="127" height="6.3" fill="url(#g123)"/><rect x="519" y="653" width="127" height="6.3" fill="url(#g124)"/><rect x="519" y="659" width="127" height="6.3" fill="url(#g125)"/><rect x="519" y="665" width="127" height="6.3" fill="url(#g126)"/><rect x="519" y="671" width="127" height="2.3" fill="url(#g127)"/></g>
<g filter="url(#hm)"><rect x="519" y="678" width="127" height="6.3" fill="url(#g128)"/><rect x="519" y="684" width="127" height="6.3" fill="url(#g129)"/><rect x="519" y="690" width="127" height="6.3" fill="url(#g130)"/><rect x="519" y="696" width="127" height="6.3" fill="url(#g131)"/><rect x="519" y="702" width="127" height="6.3" fill="url(#g132)"/><rect x="519" y="708" width="127" height="6.3" fill="url(#g133)"/><rect x="519" y="714" width="127" height="6.3" fill="url(#g134)"/><rect x="519" y="720" width="127" height="6.3" fill="url(#g135)"/><rect x="519" y="726" width="127" height="6.3" fill="url(#g136)"/><rect x="519" y="732" width="127" height="6.3" fill="url(#g137)"/><rect x="519" y="738" width="127" height="6.3" fill="url(#g138)"/><rect x="519" y="744" width="127" height="6.3" fill="url(#g139)"/><rect x="519" y="750" width="127" height="6.3" fill="url(#g140)"/><rect x="519" y="756" width="127" height="6.3" fill="url(#g141)"/><rect x="519" y="762" width="127" height="6.3" fill="url(#g142)"/><rect x="519" y="768" width="127" height="6.3" fill="url(#g143)"/><rect x="519" y="774" width="127" height="6.3" fill="url(#g144)"/><rect x="519" y="780" width="127" height="6.3" fill="url(#g145)"/><rect x="519" y="786" width="127" height="6.3" fill="url(#g146)"/><rect x="519" y="792" width="127" height="6.3" fill="url(#g147)"/><rect x="519" y="798" width="127" height="6.3" fill="url(#g148)"/><rect x="519" y="804" width="127" height="6.3" fill="url(#g149)"/><rect x="519" y="810" width="127" height="6.3" fill="url(#g150)"/><rect x="519" y="816" width="127" height="6.3" fill="url(#g151)"/><rect x="519" y="822" width="127" height="6.3" fill="url(#g152)"/></g>
<g filter="url(#hm)"><rect x="670" y="497" width="127" height="6.3" fill="url(#g153)"/><rect x="670" y="503" width="127" height="6.3" fill="url(#g154)"/><rect x="670" y="509" width="127" height="6.3" fill="url(#g155)"/><rect x="670" y="515" width="127" height="6.3" fill="url(#g156)"/><rect x="670" y="521" width="127" height="6.3" fill="url(#g157)"/><rect x="670" y="527" width="127" height="6.3" fill="url(#g158)"/><rect x="670" y="533" width="127" height="6.3" fill="url(#g159)"/><rect x="670" y="539" width="127" height="6.3" fill="url(#g160)"/><rect x="670" y="545" width="127" height="6.3" fill="url(#g161)"/><rect x="670" y="551" width="127" height="6.3" fill="url(#g162)"/></g>
<g filter="url(#hm)"><rect x="670" y="563" width="127" height="6.3" fill="url(#g163)"/><rect x="670" y="569" width="127" height="6.3" fill="url(#g164)"/><rect x="670" y="575" width="127" height="6.3" fill="url(#g165)"/><rect x="670" y="581" width="127" height="6.3" fill="url(#g166)"/><rect x="670" y="587" width="127" height="6.3" fill="url(#g167)"/><rect x="670" y="593" width="127" height="6.3" fill="url(#g168)"/><rect x="670" y="599" width="127" height="6.3" fill="url(#g169)"/><rect x="670" y="605" width="127" height="6.3" fill="url(#g170)"/><rect x="670" y="611" width="127" height="6.3" fill="url(#g171)"/><rect x="670" y="617" width="127" height="6.3" fill="url(#g172)"/><rect x="670" y="623" width="127" height="6.3" fill="url(#g173)"/><rect x="670" y="629" width="127" height="6.3" fill="url(#g174)"/><rect x="670" y="635" width="127" height="6.3" fill="url(#g175)"/><rect x="670" y="641" width="127" height="6.3" fill="url(#g176)"/><rect x="670" y="647" width="127" height="6.3" fill="url(#g177)"/><rect x="670" y="653" width="127" height="6.3" fill="url(#g178)"/><rect x="670" y="659" width="127" height="6.3" fill="url(#g179)"/><rect x="670" y="665" width="127" height="6.3" fill="url(#g180)"/><rect x="670" y="671" width="127" height="2.3" fill="url(#g181)"/></g>
<g filter="url(#hm)"><rect x="670" y="678" width="127" height="6.3" fill="url(#g182)"/><rect x="670" y="684" width="127" height="6.3" fill="url(#g183)"/><rect x="670" y="690" width="127" height="6.3" fill="url(#g184)"/><rect x="670" y="696" width="127" height="6.3" fill="url(#g185)"/><rect x="670" y="702" width="127" height="6.3" fill="url(#g186)"/><rect x="670" y="708" width="127" height="6.3" fill="url(#g187)"/><rect x="670" y="714" width="127" height="6.3" fill="url(#g188)"/><rect x="670" y="720" width="127" height="6.3" fill="url(#g189)"/><rect x="670" y="726" width="127" height="6.3" fill="url(#g190)"/><rect x="670" y="732" width="127" height="6.3" fill="url(#g191)"/><rect x="670" y="738" width="127" height="6.3" fill="url(#g192)"/><rect x="670" y="744" width="127" height="6.3" fill="url(#g193)"/><rect x="670" y="750" width="127" height="6.3" fill="url(#g194)"/><rect x="670" y="756" width="127" height="6.3" fill="url(#g195)"/><rect x="670" y="762" width="127" height="6.3" fill="url(#g196)"/><rect x="670" y="768" width="127" height="6.3" fill="url(#g197)"/><rect x="670" y="774" width="127" height="6.3" fill="url(#g198)"/><rect x="670" y="780" width="127" height="6.3" fill="url(#g199)"/><rect x="670" y="786" width="127" height="6.3" fill="url(#g200)"/><rect x="670" y="792" width="127" height="6.3" fill="url(#g201)"/><rect x="670" y="798" width="127" height="6.3" fill="url(#g202)"/><rect x="670" y="804" width="127" height="6.3" fill="url(#g203)"/><rect x="670" y="810" width="127" height="6.3" fill="url(#g204)"/><rect x="670" y="816" width="127" height="6.3" fill="url(#g205)"/><rect x="670" y="822" width="127" height="6.3" fill="url(#g206)"/></g>
<rect x="80" y="787" width="126" height="41" fill="#0d0707"/>
<rect x="230" y="787" width="127" height="41" fill="#0d0707"/>
<line x1="174" y1="497.9" x2="174" y2="828.3" stroke="#fff" stroke-width="3.0" stroke-dasharray="8.0 8.05"/>
<line x1="261.4" y1="497.9" x2="261.4" y2="828.3" stroke="#fff" stroke-width="3.0" stroke-dasharray="8.0 8.05"/>
<line x1="613.5" y1="497.9" x2="613.5" y2="828.3" stroke="#fff" stroke-width="3.0" stroke-dasharray="8.0 8.05"/>
<line x1="701" y1="497.9" x2="701" y2="828.3" stroke="#fff" stroke-width="3.0" stroke-dasharray="8.0 8.05"/>
<rect x="42.8" y="729.8" width="13.6" height="61.4" fill="url(#cb)" stroke="#231414" stroke-width="1.2"/>
<path d="M80.5,901.4 81.1,901.4 81.8,901.4 82.5,901.4 83.4,901.5 84.4,901.5 85.4,901.5 86.4,901.5 87.6,901.6 88.7,901.6 89.9,901.6 91.1,901.6 92.3,901.7 93.5,901.7 94.7,901.7 95.8,901.8 97,901.8 98,901.8 99.1,901.9 100,901.9 101.1,901.9 102.1,902 103.1,902 104.1,902.1 105,902.1 105.8,902.2 106.7,902.3 107.6,902.3 108.5,902.4 109.4,902.4 110.4,902.5 111.4,902.5 112.5,902.5 113.7,902.6 115,902.6 115.8,902.6 116.7,902.6 117.6,902.6 118.5,902.6 119.5,902.6 120.5,902.6 121.6,902.5 122.6,902.5 123.7,902.5 124.8,902.5 125.9,902.4 127,902.4 128,902.4 129.1,902.4 130.2,902.3 131.3,902.3 132.4,902.3 133.4,902.3 134.5,902.3 135.5,902.4 136.5,902.4 137.4,902.4 138.3,902.5 139.2,902.5 140,902.6 141.3,902.7 142.5,902.9 143.7,903.1 144.9,903.4 146,903.6 147,903.9 148,904.2 149,904.5 149.9,904.8 150.8,905.1 151.7,905.4 152.5,905.7 153.4,906 154.2,906.3 155,906.6 156.3,907.1 157.5,907.5 158.6,907.9 159.6,908.4 160.5,908.8 161.4,909.3 162.3,909.8 163.2,910.4 164,911 165.2,912 166.3,912.9 167.2,914 168.2,915.2 169.1,916.5 170,918 171.1,920.1 172.1,922.6 173,925.2 174,927.8 175,930.2 176,932.7 177,935.3 178.1,937.8 179.1,939.7 180,940.8 181,940.8 181.9,939.7 182.9,937.9 184,935.5 184.9,933.4 185.9,930.8 187,927.8 188.1,924.9 189.1,922.4 190,920.6 191.1,919.1 192,918.7 192.9,918.7 194,918.9 194.9,919.1 195.8,919.4 196.8,919.9 197.9,920.5 199,921 200,921.5 201.1,922 202.3,922.5 203.6,923 204.7,923.4 205.7,923.8 206.4,924.1 L206.4,946 205.8,945.8 204.9,945.4 203.9,945 202.8,944.5 201.6,944 200.3,943.6 199.1,943.1 198,942.8 196.9,942.6 196,942.5 194.7,942.6 193.6,943 192.7,943.5 191.8,944.2 190.9,945 190,946 188.9,947.5 187.9,949.3 187,951.2 186,953.1 185,954.8 184,956.2 183,957.7 181.9,959 180.9,959.8 180,960 178.9,959.1 177.9,957.3 177,955 176,953 175.1,951.2 174.2,949.4 173.2,947.6 172,946 171.2,945.2 170.3,944.4 169.4,943.6 168.4,942.9 167.3,942.2 166.2,941.5 165,940.8 164.1,940.2 163.3,939.7 162.4,939.1 161.5,938.6 160.5,938 159.5,937.5 158.5,936.9 157.4,936.4 156.2,936 155,935.5 154.2,935.2 153.3,934.9 152.4,934.6 151.5,934.3 150.6,934 149.6,933.8 148.6,933.5 147.6,933.2 146.6,933 145.6,932.8 144.5,932.6 143.4,932.4 142.3,932.2 141.2,932.1 140,932 139.1,931.9 138.2,931.9 137.3,931.9 136.3,931.9 135.4,931.9 134.4,931.9 133.4,932 132.4,932 131.3,932.1 130.3,932.2 129.3,932.3 128.2,932.3 127.2,932.4 126.2,932.5 125.1,932.6 124.1,932.7 123,932.7 122,932.8 121,932.9 120,932.9 119,932.9 118,933 117,933 116,933.1 115,933.2 114,933.2 113,933.3 112,933.3 111,933.4 110,933.4 109,933.5 108,933.5 107,933.6 106,933.6 105,933.7 104,933.7 103,933.7 102,933.7 101,933.7 100,933.8 98.9,933.7 97.8,933.7 96.7,933.7 95.5,933.7 94.3,933.6 93.1,933.6 91.9,933.5 90.8,933.5 89.6,933.4 88.4,933.3 87.3,933.3 86.2,933.2 85.2,933.2 84.2,933.1 83.3,933.1 82.5,933 81.7,933 81.1,932.9 80.5,932.9Z" fill="#959595"/>
<path d="M80.5,917.1 81.1,917.2 81.8,917.2 82.6,917.3 83.4,917.4 84.4,917.6 85.5,917.7 86.5,917.8 87.7,918 88.9,918.1 90,918.2 91.2,918.4 92.4,918.5 93.6,918.6 94.7,918.7 95.8,918.8 96.9,918.8 97.9,918.9 98.8,918.9 100,918.9 101.1,918.8 102.1,918.6 103.1,918.5 104,918.3 104.9,918.1 105.8,917.8 106.8,917.6 107.7,917.4 108.7,917.3 109.8,917.2 111,917.1 111.9,917.1 112.8,917.1 113.8,917.1 114.8,917.2 115.9,917.2 116.9,917.3 118,917.4 119.1,917.5 120.2,917.6 121.3,917.7 122.4,917.7 123.4,917.8 124.5,917.9 125.6,917.9 126.6,918 127.6,918 128.5,918 129.6,918 130.7,917.9 131.8,917.8 132.8,917.6 133.8,917.4 134.8,917.3 135.8,917.1 136.8,916.9 137.8,916.8 138.7,916.7 139.7,916.6 140.6,916.5 141.6,916.5 142.5,916.6 143.6,916.7 144.7,917 145.8,917.2 146.8,917.6 147.9,917.9 149,918.3 150,918.7 151,919.1 152,919.5 152.9,919.9 153.9,920.3 154.8,920.6 156,921 157.2,921.4 158.4,921.8 159.5,922.1 160.5,922.5 161.5,922.9 162.5,923.5 163.5,924.1 164.6,925 165.7,926 166.8,927.1 167.8,928.3 168.7,929.5 169.7,930.7 170.5,932 171.8,934.3 172.9,936.8 173.9,939.3 174.9,941.6 176,943.9 177.1,946.3 178.2,948.3 179.2,949.5 180.4,949.7 181.5,948.7 182.8,946.9 183.7,945.2 184.7,943 185.8,940.6 186.9,938.3 188,936.4 189,934.9 190,933.6 191,932.5 192.1,931.6 193.2,931.1 194.2,931 195.1,931.1 196.2,931.3 197.2,931.7 198.3,932.1 199.3,932.5 200.2,932.9 201.4,933.4 202.6,933.9 203.8,934.5 204.8,935.1 205.7,935.6 206.4,935.9" fill="none" stroke="#231f20" stroke-width="5.0" stroke-linejoin="round" stroke-linecap="butt"/>
<path d="M231.4,906.8 232,906.3 232.8,905.8 233.6,905.1 234.6,904.4 235.7,903.6 236.9,902.7 238,901.9 239.2,901.1 240.4,900.3 241.5,899.5 242.5,898.9 243.6,898.3 244.7,897.7 245.8,897.2 247,896.7 248.1,896.2 249.2,895.8 250.2,895.3 251.2,894.8 252.1,894.2 253,893.6 254.3,892.6 255.4,891.6 256.5,890.5 257.4,889.3 258.2,887.7 259,885.8 260.2,880.1 261,873.2 262,866.5 262.9,861.7 263.8,856.9 264.8,852.5 266,849 266.9,847.3 267.8,845.9 268.8,844.9 269.8,844.2 270.9,843.5 272,842.9 272.9,842.5 273.9,842.1 274.9,841.9 275.9,841.7 276.9,841.6 278,841.5 279,841.5 280,841.6 281,841.7 282,841.9 283,842.2 284.1,842.5 285.1,842.9 286.1,843.4 287,844 288,844.6 289,845.4 290,846.4 291,847.5 292,848.6 293,849.8 294,851.1 295,852.5 295.9,853.8 296.9,855.1 297.9,856.5 298.9,857.9 299.9,859.4 300.9,860.9 301.9,862.4 303,863.9 304,865.2 304.9,866.6 305.9,868 306.9,869.4 307.9,870.8 308.9,872.1 309.9,873.5 311,874.8 312,876.1 312.9,877.2 313.9,878.4 314.8,879.5 315.8,880.5 316.8,881.6 317.7,882.7 318.7,883.7 319.8,884.7 320.9,885.7 322,886.6 322.9,887.3 323.8,887.9 324.8,888.6 325.7,889.2 326.7,889.8 327.7,890.3 328.7,890.9 329.7,891.5 330.8,892 331.8,892.6 332.9,893.2 333.9,893.8 335,894.5 336,895.1 337,895.7 338,896.4 339.1,897.1 340.2,897.8 341.2,898.5 342.3,899.2 343.4,899.9 344.5,900.6 345.5,901.3 346.5,901.9 347.5,902.5 348.4,903.1 349.2,903.6 350,904 351.7,904.9 353.1,905.5 354.3,906 355.3,906.3 356.2,906.5 356.8,906.8 L356.8,939.1 356.2,938.9 355.3,938.6 354.3,938.2 353.1,937.7 351.7,937.2 350,936.5 349.2,936.2 348.4,935.9 347.5,935.5 346.5,935.1 345.5,934.7 344.5,934.3 343.4,933.9 342.3,933.5 341.2,933 340.2,932.6 339.1,932.1 338,931.7 337,931.2 336,930.8 335,930.4 333.9,929.9 332.9,929.5 331.8,929 330.8,928.5 329.7,928 328.7,927.6 327.7,927.1 326.7,926.6 325.7,926.1 324.8,925.7 323.8,925.2 322.9,924.7 322,924.2 320.9,923.6 319.8,923 318.7,922.5 317.7,921.9 316.8,921.3 315.8,920.7 314.8,920.1 313.9,919.4 312.9,918.8 312,918.1 311,917.3 309.9,916.5 308.9,915.6 307.9,914.8 306.9,913.9 305.9,913 304.9,912.1 304,911.2 303,910.2 301.9,909.2 300.9,908.1 299.9,906.9 298.9,905.8 297.9,904.6 296.9,903.5 295.9,902.5 295,901.5 294,900.5 293,899.5 292,898.5 291,897.6 290,896.8 289,896.1 288,895.4 287,894.9 286.1,894.4 285.1,894 284.1,893.6 283,893.3 282,893 281,892.8 280,892.8 279,892.7 278,892.8 276.9,892.9 275.9,893.1 274.9,893.4 273.9,893.7 272.9,894.1 272,894.5 270.9,895.1 269.8,895.9 268.8,896.7 267.8,897.7 266.9,898.7 266,899.8 264.8,901.5 263.8,903.4 262.9,905.5 262,907.6 261,910.7 260.2,914 259,917.2 258.2,918.8 257.4,920.4 256.5,921.9 255.4,923.4 254.3,924.8 253,926 252.1,926.7 251.2,927.3 250.2,927.8 249.2,928.3 248.1,928.8 247,929.3 245.8,929.7 244.7,930.2 243.6,930.7 242.5,931.2 241.5,931.8 240.4,932.4 239.2,933 238,933.7 236.9,934.3 235.7,935 234.6,935.6 233.6,936.1 232.8,936.6 232,937.1 231.4,937.4Z" fill="#959595"/>
<path d="M231.4,921.6 232,921.3 232.8,920.9 233.6,920.4 234.6,919.8 235.7,919.2 236.9,918.6 238,918 239.2,917.3 240.4,916.7 241.5,916.1 242.5,915.5 243.6,914.9 244.7,914.3 245.8,913.7 247,913.1 248.1,912.6 249.2,912 250.2,911.4 251.2,910.7 252.1,910.1 253,909.4 254.3,908.2 255.5,907 256.5,905.7 257.4,904.4 258.2,903 259,901.5 260.6,896.4 261.8,891 263,885.7 264.4,880.5 265.3,877.9 266.3,875.2 267.4,872.8 268.8,870.9 269.6,870.1 270.6,869.5 271.6,869 272.6,868.7 273.7,868.5 274.7,868.3 275.8,868.2 276.7,868.2 277.7,868.3 278.7,868.5 279.6,868.7 280.6,869.1 281.7,869.5 282.8,870 283.8,870.5 284.8,871.1 285.9,871.7 287,872.4 288.1,873.2 289.3,874.1 290.4,875.1 291.5,876.1 292.6,877.3 293.7,878.6 294.8,880 295.9,881.5 297,883 298.1,884.5 299.2,886 300.2,887.5 301.3,888.9 302.4,890.4 303.5,891.9 304.5,893.4 305.6,894.9 306.7,896.3 307.8,897.6 309,898.9 310,899.8 310.9,900.7 311.9,901.5 312.9,902.3 313.9,903.1 315,903.8 316,904.6 317.1,905.3 318.3,906 319.5,906.8 320.4,907.3 321.3,907.8 322.3,908.3 323.2,908.9 324.2,909.4 325.3,909.9 326.3,910.4 327.3,910.9 328.4,911.4 329.4,911.9 330.4,912.4 331.5,912.8 332.5,913.3 333.5,913.8 334.5,914.2 335.5,914.6 336.6,915 337.6,915.4 338.7,915.8 339.7,916.2 340.8,916.6 341.8,917 342.8,917.3 343.8,917.7 344.8,918 345.7,918.4 346.6,918.7 347.5,919 348.8,919.5 350.1,920 351.3,920.4 352.5,920.9 353.6,921.3 354.6,921.7 355.4,922 356.2,922.3 356.8,922.5" fill="none" stroke="#231f20" stroke-width="5.0" stroke-linejoin="round" stroke-linecap="butt"/>
<line x1="79.6" y1="841.2" x2="79.6" y2="1002.6" stroke="#231f20" stroke-width="2.4"/>
<line x1="78.4" y1="1001.5" x2="206.4" y2="1001.5" stroke="#231f20" stroke-width="2.4"/>
<line x1="230.3" y1="1001.5" x2="356.8" y2="1001.5" stroke="#231f20" stroke-width="2.4"/>
<line x1="79.6" y1="845.75" x2="83.8" y2="845.75" stroke="#231f20" stroke-width="2"/>
<line x1="79.6" y1="861.33" x2="83.8" y2="861.33" stroke="#231f20" stroke-width="2"/>
<line x1="79.6" y1="876.90" x2="83.8" y2="876.90" stroke="#231f20" stroke-width="2"/>
<line x1="79.6" y1="892.48" x2="83.8" y2="892.48" stroke="#231f20" stroke-width="2"/>
<line x1="79.6" y1="908.05" x2="83.8" y2="908.05" stroke="#231f20" stroke-width="2"/>
<line x1="79.6" y1="923.62" x2="83.8" y2="923.62" stroke="#231f20" stroke-width="2"/>
<line x1="79.6" y1="939.20" x2="83.8" y2="939.20" stroke="#231f20" stroke-width="2"/>
<line x1="79.6" y1="954.77" x2="83.8" y2="954.77" stroke="#231f20" stroke-width="2"/>
<line x1="79.6" y1="970.35" x2="83.8" y2="970.35" stroke="#231f20" stroke-width="2"/>
<line x1="79.6" y1="985.92" x2="83.8" y2="985.92" stroke="#231f20" stroke-width="2"/>
<line x1="79.6" y1="1001.50" x2="83.8" y2="1001.50" stroke="#231f20" stroke-width="2"/>
<line x1="174" y1="847.2" x2="174" y2="1001" stroke="#231f20" stroke-width="2.6" stroke-dasharray="7.6 8.45"/>
<line x1="261.4" y1="847" x2="261.4" y2="1001" stroke="#231f20" stroke-width="2.6" stroke-dasharray="7.6 8.45"/>
<line x1="80" y1="1009" x2="93.2" y2="1009" stroke="#231f20" stroke-width="2.4"/>
<path d="M519.5,930 520.1,930 520.9,930.1 521.9,930.1 523,930.1 524.1,930.2 525.3,930.2 526.6,930.3 527.8,930.3 528.9,930.4 530,930.5 531,930.6 532,930.7 533,930.8 534,931 535,931.1 536,931.2 537,931.4 538,931.6 539,931.8 540,932 541,932.2 542,932.5 543,932.8 544,933.1 545,933.4 546,933.7 547,934.1 548,934.4 549,934.7 550,935 551,935.3 551.9,935.6 552.8,935.9 553.8,936.1 554.7,936.4 555.6,936.7 556.6,937 557.7,937.3 558.8,937.6 560,938 560.9,938.2 561.8,938.5 562.8,938.8 563.8,939 564.8,939.3 565.9,939.6 567,939.8 568,940.1 569.1,940.4 570.2,940.7 571.2,941 572.2,941.4 573.2,941.7 574.1,942 575,942.4 576.2,943 577.3,943.6 578.4,944.3 579.4,945 580.3,945.7 581.2,946.4 582.2,947.1 583.1,947.8 584,948.4 585,949 586,949.6 587,950.1 588.1,950.7 589.1,951.2 590.1,951.7 591.1,952.2 592.1,952.6 593.1,953.1 594.1,953.4 595,953.8 596.1,954.2 597.2,954.5 598.3,954.8 599.3,955.1 600.3,955.3 601.3,955.5 602.2,955.6 603,955.7 604.2,955.8 605.2,955.8 606.2,955.7 607.1,955.6 608,955.3 609.2,955.3 610.3,955.4 611.4,955 612.5,953.2 613.6,950.2 614.6,946.2 615.6,941 616.8,934.6 617.8,928.2 619,920.6 620.1,912.4 621.3,904.2 622.3,896.6 623.4,887.5 624.5,878.6 625.5,870.3 626.4,863.1 627.5,854.9 628.6,848.3 629.8,844.3 630.9,843.7 632,844.8 633.2,846.8 634.5,848.6 635.5,849.8 636.6,851.3 637.8,852.7 638.9,854.2 640,855.4 641.2,856.4 642.5,857.4 643.8,858.2 644.8,858.9 645.6,859.4 L645.6,888.4 644.8,888.4 643.8,888.3 642.5,888.2 641.2,888.1 640,887.7 638.9,887.2 637.8,886.5 636.6,885.7 635.5,884.9 634.5,884.3 633.2,883.7 632,883.2 630.9,882.9 629.8,882.8 628.6,882.4 627.5,882.4 626.4,884.5 625.5,888.2 624.5,893.3 623.4,899.4 622.3,906.2 621.3,912.7 620.1,920.1 619,927.8 617.8,935.3 616.8,941.8 615.6,948.9 614.6,955.3 613.6,960.6 612.5,964.8 611.4,967.1 610.3,968 609.2,968.3 608,968.7 607.1,969.2 606.2,969.8 605.2,970.2 604.2,970.5 603,970.7 602.2,970.8 601.3,970.8 600.3,970.8 599.3,970.7 598.3,970.6 597.2,970.4 596.1,970.2 595,969.9 594.1,969.6 593.1,969.3 592.1,968.9 591.1,968.5 590.1,968 589.1,967.5 588.1,967 587,966.5 586,965.9 585,965.4 584,964.8 583.1,964.2 582.2,963.5 581.2,962.8 580.3,962.2 579.4,961.5 578.4,960.8 577.3,960.2 576.2,959.6 575,959 574.1,958.7 573.2,958.4 572.2,958 571.2,957.7 570.2,957.5 569.1,957.2 568,956.9 567,956.6 565.9,956.4 564.8,956.2 563.8,955.9 562.8,955.7 561.8,955.4 560.9,955.2 560,955 558.8,954.7 557.7,954.4 556.6,954.1 555.6,953.8 554.7,953.5 553.8,953.3 552.8,953 551.9,952.8 551,952.5 550,952.2 549,952 548,951.7 547,951.4 546,951.1 545,950.8 544,950.5 543,950.2 542,949.9 541,949.7 540,949.5 539,949.3 538,949.1 537,949 536,948.8 535,948.7 534,948.6 533,948.5 532,948.4 531,948.3 530,948.2 528.9,948.2 527.8,948.1 526.6,948.1 525.3,948 524.1,948 523,948 521.9,948 520.9,948 520.1,948 519.5,948Z" fill="#a2c6ad"/>
<path d="M519.5,903.8 520.1,903.9 520.8,903.9 521.6,904 522.5,904.1 523.5,904.2 524.6,904.3 525.8,904.3 526.9,904.4 528.1,904.5 529.4,904.6 530.6,904.7 531.8,904.7 533,904.7 533.9,904.7 534.9,904.8 535.8,904.8 536.8,904.7 537.8,904.7 538.8,904.7 539.9,904.7 540.9,904.7 541.9,904.7 543,904.6 544,904.6 545,904.6 546.1,904.5 547.1,904.5 548.1,904.4 549,904.4 550,904.3 551.1,904.3 552.1,904.2 553.2,904.1 554.2,904.1 555.2,904 556.2,903.9 557.2,903.8 558.2,903.8 559.2,903.7 560.2,903.6 561.2,903.5 562.2,903.3 563.1,903.2 564.1,903 565,902.9 566.1,902.6 567.2,902.4 568.3,902.1 569.3,901.8 570.4,901.4 571.5,901.1 572.5,900.7 573.5,900.4 574.5,900.1 575.5,899.7 576.4,899.5 577.2,899.2 578,899 579.3,898.7 580.4,898.4 581.4,898.1 582.2,898 583.1,897.9 584,897.8 585,897.9 586,898 587,898.2 588,898.4 589,898.6 590,898.9 591,899.3 592,899.8 593,900.3 594.1,900.9 595.1,901.7 596.2,902.5 597.2,903.4 598.2,904.4 599.1,905.5 600,906.6 601.1,908.4 602.2,910.4 603.2,912.6 604.1,914.8 605,916.9 606.1,919.6 607.1,922.3 608.1,924.9 609,927.6 610.1,930.8 611,934 612,937.7 613,942.1 614,946.9 615,951.7 616,956.5 617,961.3 618,965.3 619,968.2 619.9,970.4 621,971.9 621.9,972.6 622.9,973.1 623.9,973.1 625,973 625.9,972.6 626.9,971.9 627.9,971.1 628.9,970.3 630,969.6 631,969 632,968.5 633,967.9 634,967.4 635,967 636,966.8 637.1,966.8 638.1,967.1 639.1,967.5 640,968 641,968.4 642.3,968.9 643.6,969.5 644.8,970.1 645.6,970.5 L645.6,974.5 644.8,974.1 643.6,973.6 642.3,973.1 641,972.6 640,972.2 639.1,971.8 638.1,971.4 637.1,971.2 636,971.2 635,971.5 634,971.9 633,972.5 632,973.1 631,973.8 630,974.4 628.9,975.2 627.9,976 626.9,976.9 625.9,977.6 625,978 623.9,978.2 622.9,978.2 621.9,977.8 621,977.1 619.9,975.6 619,973.6 618,970.7 617,966.8 616,962 615,957.3 614,952.5 613,947.7 612,943.3 611,939.7 610.1,936.5 609,933.4 608.1,931 607.1,928.5 606.1,926.2 605,924.3 604.1,923.2 603.2,922.5 602.2,922 601.1,921.4 600,920.6 599.1,919.8 598.2,919 597.2,918 596.2,917.1 595.1,916.2 594.1,915.4 593,914.7 592,914.3 591,913.9 590,913.6 589,913.4 588,913.2 587,913 586,913 585,912.9 584,912.9 583.1,913 582.2,913.1 581.4,913.3 580.4,913.5 579.3,913.8 578,914.2 577.2,914.5 576.4,914.7 575.5,915.1 574.5,915.4 573.5,915.8 572.5,916.1 571.5,916.5 570.4,916.9 569.3,917.3 568.3,917.6 567.2,918 566.1,918.3 565,918.5 564.1,918.7 563.1,918.9 562.2,919.1 561.2,919.2 560.2,919.4 559.2,919.5 558.2,919.7 557.2,919.8 556.2,919.9 555.2,920 554.2,920.1 553.2,920.2 552.1,920.3 551.1,920.4 550,920.5 549,920.6 548.1,920.7 547.1,920.7 546.1,920.8 545,920.9 544,921 543,921 541.9,921.1 540.9,921.2 539.9,921.2 538.8,921.3 537.8,921.3 536.8,921.4 535.8,921.4 534.9,921.4 533.9,921.4 533,921.5 531.8,921.5 530.6,921.5 529.4,921.4 528.1,921.4 526.9,921.4 525.8,921.3 524.6,921.3 523.5,921.2 522.5,921.2 521.6,921.1 520.8,921.1 520.1,921 519.5,921Z" fill="#f3a2a9"/>
<path d="M519.5,939 520.1,939 520.7,939 521.5,938.9 522.3,938.9 523.2,938.9 524.2,938.9 525.2,938.8 526.2,938.8 527.4,938.7 528.5,938.7 529.7,938.7 530.9,938.6 532,938.6 533.2,938.6 534.4,938.5 535.6,938.5 536.8,938.5 537.9,938.4 539,938.4 540,938.4 541,938.4 542,938.4 543.1,938.4 544.1,938.3 545.2,938.3 546.2,938.3 547.2,938.3 548.3,938.3 549.3,938.3 550.3,938.3 551.4,938.3 552.4,938.3 553.4,938.3 554.4,938.3 555.4,938.3 556.3,938.3 557.3,938.3 558.2,938.2 559.1,938.2 560,938.2 561.2,938.2 562.3,938.1 563.4,938.1 564.6,938.1 565.7,938 566.7,938 567.8,937.9 568.8,937.9 569.8,937.8 570.8,937.8 571.7,937.7 572.6,937.7 573.4,937.6 574.2,937.6 575,937.5 576.4,937.3 577.6,937.1 578.5,936.9 579.3,936.6 580.2,936.4 581,936.3 582,936.3 583,936.4 584,936.5 585,936.8 586,937 587,937.3 588,937.6 589,937.9 590,938.2 591.1,938.5 592.1,938.9 593.1,939.3 594.1,939.6 595.1,940 596.1,940.4 597,940.7 598.1,941 599.1,941.4 600.1,941.6 601.1,941.9 602.1,942.3 603,942.7 604.1,943.3 605.1,943.9 606,944.5 607,945.3 608,946.1 609,947.1 610,948.1 611.1,949.3 612.1,950.4 613,951.6 614.1,953.1 615.1,954.8 616.1,956.4 617,957.7 618,959.3 618.9,960.7 620,961.1 620.9,960.7 621.9,959.8 622.9,958.7 624,957.5 625,956.4 626,955.3 627,954.1 627.9,952.9 628.9,951.8 630,950.9 631,950.2 632,949.6 633,949.1 634,948.6 635,948.3 636,948.2 637.1,948.3 638.1,948.7 639.1,949.2 640,949.8 641,950.2 642.3,950.6 643.6,951 644.8,951.4 645.6,951.6 L645.6,961.6 644.8,961.4 643.6,961 642.3,960.6 641,960.2 640,959.8 639.1,959.2 638.1,958.7 637.1,958.3 636,958.2 635,958.3 634,958.6 633,959.1 632,959.6 631,960.2 630,960.9 628.9,961.8 627.9,962.9 627,964.1 626,965.3 625,966.4 624,967.5 622.9,968.7 621.9,969.8 620.9,970.7 620,971.1 618.9,970.7 618,969.3 617,967.7 616.1,966.4 615.1,964.8 614.1,963.1 613,961.6 612.1,960.4 611.1,959.3 610,958.1 609,957.1 608,956.1 607,955.3 606,954.5 605.1,953.9 604.1,953.3 603,952.7 602.1,952.3 601.1,951.9 600.1,951.6 599.1,951.4 598.1,951 597,950.7 596.1,950.4 595.1,950 594.1,949.6 593.1,949.3 592.1,948.9 591.1,948.5 590,948.2 589,947.9 588,947.6 587,947.3 586,947 585,946.8 584,946.5 583,946.4 582,946.3 581,946.3 580.2,946.4 579.3,946.6 578.5,946.9 577.6,947.1 576.4,947.3 575,947.5 574.2,947.6 573.4,947.6 572.6,947.7 571.7,947.7 570.8,947.8 569.8,947.8 568.8,947.9 567.8,947.9 566.7,948 565.7,948 564.6,948.1 563.4,948.1 562.3,948.1 561.2,948.2 560,948.2 559.1,948.2 558.2,948.2 557.3,948.3 556.3,948.3 555.4,948.3 554.4,948.3 553.4,948.3 552.4,948.3 551.4,948.3 550.3,948.3 549.3,948.3 548.3,948.3 547.2,948.3 546.2,948.3 545.2,948.3 544.1,948.3 543.1,948.4 542,948.4 541,948.4 540,948.4 539,948.4 537.9,948.4 536.8,948.5 535.6,948.5 534.4,948.5 533.2,948.6 532,948.6 530.9,948.6 529.7,948.7 528.5,948.7 527.4,948.7 526.2,948.8 525.2,948.8 524.2,948.9 523.2,948.9 522.3,948.9 521.5,948.9 520.7,949 520.1,949 519.5,949Z" fill="#e7dc97" fill-opacity="0.9"/>
<path d="M519.5,938 520.1,938 520.9,938.1 521.9,938.1 523,938.1 524.1,938.2 525.3,938.2 526.6,938.3 527.8,938.3 528.9,938.4 530,938.5 531,938.6 532,938.7 533,938.8 534,939 535,939.1 536,939.2 537,939.4 538,939.6 539,939.8 540,940 541,940.2 542,940.5 543,940.8 544,941.1 545,941.4 546,941.7 547,942.1 548,942.4 549,942.7 550,943 551,943.3 551.9,943.6 552.8,943.9 553.8,944.1 554.7,944.4 555.6,944.7 556.6,945 557.7,945.3 558.8,945.6 560,946 560.9,946.2 561.8,946.5 562.8,946.8 563.8,947 564.8,947.3 565.9,947.6 567,947.8 568,948.1 569.1,948.4 570.2,948.7 571.2,949 572.2,949.4 573.2,949.7 574.1,950 575,950.4 576.2,951 577.3,951.6 578.4,952.3 579.4,953 580.3,953.7 581.2,954.4 582.2,955.1 583.1,955.8 584,956.4 585,957 586,957.6 587,958.1 588.1,958.7 589.1,959.2 590.1,959.7 591.1,960.2 592.1,960.7 593.1,961.1 594.1,961.5 595,961.8 596.1,962.2 597.2,962.4 598.3,962.7 599.3,962.9 600.3,963 601.3,963.1 602.2,963.2 603,963.2 604.2,963.2 605.2,963 606.2,962.7 607.1,962.4 608,962 609.2,961.8 610.3,961.7 611.4,961 612.5,959 613.6,955.4 614.6,950.7 615.6,944.9 616.8,938.2 617.8,931.7 619,924.2 620.1,916.2 621.3,908.4 622.3,901.4 623.4,893.5 624.5,886 625.5,879.4 626.4,874 627.5,868.9 628.6,865.8 629.8,864 630.9,863.7 632,864.4 633.2,865.5 634.5,866.6 635.5,867.5 636.6,868.5 637.8,869.6 638.9,870.6 640,871.4 641.2,872 642.5,872.5 643.8,872.9 644.8,873.2 645.6,873.4" fill="none" stroke="#2e8a4e" stroke-width="4.6" stroke-linejoin="round" stroke-linecap="butt"/>
<path d="M519.5,944 520.1,944 520.7,944 521.5,943.9 522.3,943.9 523.2,943.9 524.2,943.9 525.2,943.8 526.2,943.8 527.4,943.7 528.5,943.7 529.7,943.7 530.9,943.6 532,943.6 533.2,943.6 534.4,943.5 535.6,943.5 536.8,943.5 537.9,943.4 539,943.4 540,943.4 541,943.4 542,943.4 543.1,943.4 544.1,943.3 545.2,943.3 546.2,943.3 547.2,943.3 548.3,943.3 549.3,943.3 550.3,943.3 551.4,943.3 552.4,943.3 553.4,943.3 554.4,943.3 555.4,943.3 556.3,943.3 557.3,943.3 558.2,943.2 559.1,943.2 560,943.2 561.2,943.2 562.3,943.1 563.4,943.1 564.6,943.1 565.7,943 566.7,943 567.8,942.9 568.8,942.9 569.8,942.8 570.8,942.8 571.7,942.7 572.6,942.7 573.4,942.6 574.2,942.6 575,942.5 576.4,942.3 577.6,942.1 578.5,941.9 579.3,941.6 580.2,941.4 581,941.3 582,941.3 583,941.4 584,941.5 585,941.8 586,942 587,942.3 588,942.6 589,942.9 590,943.2 591.1,943.5 592.1,943.9 593.1,944.3 594.1,944.6 595.1,945 596.1,945.4 597,945.7 598.1,946 599.1,946.4 600.1,946.6 601.1,946.9 602.1,947.3 603,947.7 604.1,948.3 605.1,948.9 606,949.5 607,950.3 608,951.1 609,952.1 610,953.1 611.1,954.3 612.1,955.4 613,956.6 614.1,958.1 615.1,959.8 616.1,961.4 617,962.7 618,964.3 618.9,965.7 620,966.1 620.9,965.7 621.9,964.8 622.9,963.7 624,962.5 625,961.4 626,960.3 627,959.1 627.9,957.9 628.9,956.8 630,955.9 631,955.2 632,954.6 633,954.1 634,953.6 635,953.3 636,953.2 637.1,953.3 638.1,953.7 639.1,954.2 640,954.8 641,955.2 642.3,955.6 643.6,956 644.8,956.4 645.6,956.6" fill="none" stroke="#c9b22e" stroke-width="5.2" stroke-linejoin="round" stroke-linecap="butt"/>
<path d="M519.5,912.4 520.1,912.4 520.8,912.5 521.6,912.5 522.5,912.6 523.5,912.7 524.6,912.8 525.8,912.8 526.9,912.9 528.1,913 529.4,913 530.6,913.1 531.8,913.1 533,913.1 533.9,913.1 534.9,913.1 535.8,913.1 536.8,913.1 537.8,913 538.8,913 539.9,913 540.9,912.9 541.9,912.9 543,912.8 544,912.8 545,912.7 546.1,912.7 547.1,912.6 548.1,912.5 549,912.5 550,912.4 551.1,912.3 552.1,912.2 553.2,912.2 554.2,912.1 555.2,912 556.2,911.9 557.2,911.8 558.2,911.7 559.2,911.6 560.2,911.5 561.2,911.4 562.2,911.2 563.1,911.1 564.1,910.9 565,910.7 566.1,910.5 567.2,910.2 568.3,909.9 569.3,909.5 570.4,909.2 571.5,908.8 572.5,908.4 573.5,908.1 574.5,907.7 575.5,907.4 576.4,907.1 577.2,906.8 578,906.6 579.3,906.2 580.4,905.9 581.4,905.7 582.2,905.5 583.1,905.4 584,905.4 585,905.4 586,905.5 587,905.6 588,905.8 589,906 590,906.3 591,906.6 592,907 593,907.5 594.1,908.2 595.1,908.9 596.2,909.8 597.2,910.7 598.2,911.7 599.1,912.6 600,913.6 601.1,914.9 602.2,916.2 603.2,917.5 604.1,919 605,920.6 606.1,922.9 607.1,925.4 608.1,928 609,930.5 610.1,933.7 611,936.9 612,940.5 613,944.9 614,949.7 615,954.5 616,959.3 617,964 618,968 619,970.9 619.9,973 621,974.5 621.9,975.2 622.9,975.6 623.9,975.7 625,975.5 625.9,975.1 626.9,974.4 627.9,973.6 628.9,972.7 630,972 631,971.4 632,970.8 633,970.2 634,969.6 635,969.2 636,969 637.1,969 638.1,969.3 639.1,969.6 640,970.1 641,970.5 642.3,971 643.6,971.6 644.8,972.1 645.6,972.5" fill="none" stroke="#ec1c26" stroke-width="4.8" stroke-linejoin="round" stroke-linecap="butt"/>
<path d="M670.5,841.7 671.2,841.8 672.3,841.9 673.5,842.1 674.8,842.3 676,842.4 677,842.6 678,842.7 679,842.8 680.1,843 681.1,843.3 682,843.8 683.1,844.6 684.1,845.8 685,847 686,848.1 687,849.1 688,849.8 689,850.4 690,850.8 691,851.3 692,851.8 693,852.3 694,852.9 695.1,853.4 696.1,854 697,854.5 698.1,855.1 699.1,855.6 700,856.2 701,857 702,857.7 703.1,858.3 704.1,859.4 705,861.4 706.1,866.3 707.1,872.7 708,878.2 709,883.5 710,888 710.9,891.6 712,895.3 713,898.9 714,902.2 714.9,905.5 716,908.4 716.9,910.2 717.9,911.7 719,913.2 720,914.7 721,916.4 721.9,918 722.9,919.7 724,921.4 724.9,922.7 725.9,923.8 726.9,925 727.9,926.4 729,927.9 730,929.6 731,931.5 732,933.6 733,935.5 734,937.3 735,938.5 736.1,939.5 737.1,939.9 738,940.1 739,940.1 740,940 741,939.8 742,939.5 743,939.1 744,938.6 745,938.1 745.9,937.6 746.8,937 747.6,936.4 748.7,935.8 750,935.5 750.8,935.4 751.7,935.4 752.6,935.4 753.6,935.5 754.7,935.6 755.8,935.7 756.8,935.8 757.9,935.9 759,936 760,936.1 761,936.2 762,936.4 763,936.5 764,936.6 765,936.8 766,936.9 767,937.1 768,937.2 769,937.3 770,937.4 771,937.5 771.9,937.6 772.8,937.7 773.7,937.8 774.6,937.9 775.5,937.9 776.5,938 777.6,938 778.7,938 780,938.1 780.9,938.1 781.9,938.1 783,938.1 784.1,938 785.3,938 786.5,938 787.8,938 789,937.9 790.2,937.9 791.4,937.9 792.6,937.8 793.6,937.8 794.6,937.8 795.5,937.7 796.2,937.7 796.8,937.7 L796.8,953.2 796.2,953.3 795.5,953.3 794.6,953.4 793.6,953.5 792.6,953.7 791.4,953.8 790.2,953.9 789,954 787.8,954.2 786.5,954.3 785.3,954.4 784.1,954.5 783,954.6 781.9,954.7 780.9,954.8 780,954.9 778.7,955 777.6,955 776.5,955.1 775.5,955.1 774.6,955.1 773.7,955.1 772.8,955.1 771.9,955.1 771,955.1 770,955.1 769,955 768,955 767,954.9 766,954.9 765,954.8 764,954.7 763,954.7 762,954.6 761,954.6 760,954.5 759,954.5 757.9,954.5 756.8,954.5 755.8,954.4 754.7,954.4 753.6,954.4 752.6,954.4 751.7,954.5 750.8,954.6 750,954.7 748.7,955.2 747.6,955.8 746.8,956.4 745.9,957.1 745,957.7 744,958.3 743,958.9 742,959.4 741,959.8 740,960 739,960.2 738,960.3 737.1,960.3 736.1,959.8 735,958.6 734,957 733,954.7 732,952.1 731,949.5 730,946.9 729,944.8 727.9,942.8 726.9,941.1 725.9,939.5 724.9,938 724,936.5 722.9,934.5 721.9,932.5 721,930.5 720,928.7 719,927.1 717.9,925.6 716.9,924 716,922.2 714.9,919.1 714,915.7 713,912.5 712,909.8 710.9,907.3 710,904.9 709,900.8 708,897.2 707.1,895.4 706.1,894 705,892.6 704.1,891.6 703.1,890.6 702,889.6 701,888.8 700,888 699.1,887.3 698.1,886.6 697,886.1 696.1,885.8 695.1,885.6 694,885.4 693,885.3 692,885.2 691,885.1 690,885.1 689,885 688,884.9 687,884.5 686,883.8 685,882.8 684.1,881.8 683.1,880.8 682,879.9 681.1,879.3 680.1,878.8 679,878.4 678,878 677,877.6 676,877.3 674.8,876.9 673.5,876.5 672.3,876.2 671.2,876 670.5,875.8Z" fill="#a2c6ad"/>
<path d="M670.5,964.8 671.2,964.3 672.3,963.6 673.5,962.8 674.8,961.9 676,961.1 677,960.4 678,959.7 679,958.9 680,958.2 681,957.4 682,956.7 683,956 684.1,955.2 685.1,954.5 686.1,953.8 687.1,953 688,952.3 689.1,951.2 690.1,950.2 691,949.1 692,947.9 693,946.9 694,945.8 695.1,944.6 696.1,943.4 697,942.1 698.2,940 699.1,937.7 700,934.8 701,929.2 702,922.6 702.9,917.7 704,912.4 705,907.2 706,902.6 707,898 708,893.3 709,888.2 709.9,882.8 711,877.4 711.9,873.2 712.9,869 714,864.8 715,861.1 716,857.8 716.9,854.9 717.9,852.2 719,849.8 719.9,848.1 720.9,846.5 722,845.1 723,843.9 724,842.9 725,842.2 726,841.7 727,841.3 728,841.2 729,841.4 730,841.7 731,842.3 731.9,843 732.9,844.1 734,845.3 735,846.6 736,848.2 737,850 738,851.8 739,853.6 740,855.3 741.1,857.2 742.1,859 743,860.8 744,862.6 745,864.3 746,866 747,867.6 748,869.2 749,870.7 750,872.3 751,873.8 752,875.3 753,876.7 754,878.1 755,879.5 756,880.9 757,882.3 758,883.6 759,884.8 760,886 761,887.1 762,888 763,888.9 764,889.8 765,890.7 766,891.7 767,892.7 768,893.6 769,894.6 770,895.5 771,896.3 772,897.1 773,897.9 774,898.7 775,899.4 776,900.1 777,900.7 778,901.4 779,902 780,902.5 781,903.1 782,903.6 783,904.1 784,904.5 785,905 786,905.3 786.9,905.7 787.9,906 788.9,906.4 790,906.7 791.1,907 792.4,907.3 793.7,907.7 795,908 796,908.2 796.8,908.4 L796.8,927 796,926.8 795,926.4 793.7,926.1 792.4,925.7 791.1,925.3 790,924.9 788.9,924.5 787.9,924.1 786.9,923.7 786,923.3 785,922.9 784,922.4 783,921.8 782,921.3 781,920.7 780,920.1 779,919.5 778,918.8 777,918.1 776,917.4 775,916.7 774,916 773,915.2 772,914.5 771,913.7 770,912.9 769,912 768,911.1 767,910.1 766,909.2 765,908.2 764,907.3 763,906.3 762,905.4 761,904.5 760,903.6 759,902.8 758,902 757,901.2 756,900.4 755,899.6 754,898.7 753,897.8 752,896.8 751,895.8 750,894.8 749,893.8 748,892.8 747,891.7 746,890.6 745,889.3 744,887.9 743,886.3 742.1,884.7 741.1,883 740,881.3 739,879.8 738,878.2 737,876.5 736,874.9 735,873.4 734,872.1 732.9,870.8 731.9,869.6 731,868.6 730,867.8 729,867.2 728,866.9 727,866.7 726,866.8 725,867 724,867.3 723,867.9 722,868.6 720.9,869.5 719.9,870.5 719,871.5 717.9,872.8 716.9,874.1 716,875.7 715,877.6 714,880 712.9,882.7 711.9,885.6 711,888.7 709.9,893.1 709,897.8 708,902.3 707,906.5 706,910.5 705,914.8 704,919.4 702.9,924.1 702,928.6 701,934.6 700,939.8 699.1,942.6 698.2,944.9 697,947.1 696.1,948.4 695.1,949.6 694,950.8 693,951.9 692,952.9 691,954.1 690.1,955.2 689.1,956.2 688,957.3 687.1,958 686.1,958.8 685.1,959.5 684.1,960.2 683,961 682,961.7 681,962.4 680,963.2 679,963.9 678,964.7 677,965.4 676,966.1 674.8,966.9 673.5,967.8 672.3,968.6 671.2,969.3 670.5,969.8Z" fill="#f3a2a9"/>
<path d="M670.5,937.4 671.2,937 672.3,936.5 673.5,935.8 674.8,935.1 676,934.5 677,934 678,933.6 679,933.1 680,932.6 681,932.1 682,931.5 683,930.9 684,930.2 685.1,929.4 686.1,928.7 687.1,927.9 688,927.1 689.1,926.2 690.1,925.2 691.1,924.2 692.1,923.2 693,922 694.1,920.3 695.1,918.5 696,916.6 697,914.7 698,912.9 699.1,911.1 700.1,909.3 701,907.4 702.1,904.4 703,901.3 704,898.6 705,896.5 706,894.8 707,893.5 708,892.7 708.9,892.2 710,892.1 710.9,892.2 711.9,892.5 713,892.9 714,893.5 715,894.2 715.9,895.1 716.9,896.2 718,897.2 718.9,897.9 719.9,898.6 720.9,899.4 721.9,900.2 723,901 724,901.9 725,902.8 726,903.8 727.1,904.8 728.1,905.9 729.1,906.9 730,908 731.1,909.3 732.1,910.6 733,912 734,913.3 735,914.6 736,915.8 737,917 738,918.2 739,919.3 740,920.4 741,921.5 742,922.6 743,923.6 744,924.6 745,925.5 746,926.4 747,927.2 748,927.9 749,928.6 750,929.2 750.9,929.7 751.8,930.2 752.6,930.6 753.7,931 755,931.4 755.8,931.6 756.7,931.7 757.6,931.9 758.6,932 759.7,932.1 760.8,932.2 761.8,932.3 762.9,932.5 764,932.6 765,932.8 766,933 767,933.2 768,933.4 769,933.6 770,933.8 771,934 772,934.3 773,934.5 774,934.7 775,935 776,935.3 777,935.5 777.9,935.8 778.9,936.1 779.9,936.4 780.9,936.7 781.9,937 782.9,937.3 783.9,937.6 785,937.9 786,938.2 787.2,938.5 788.4,938.8 789.7,939.1 790.9,939.4 792.1,939.7 793.3,940 794.4,940.3 795.3,940.5 796.2,940.7 796.8,940.9 L796.8,953.9 796.2,953.7 795.3,953.5 794.4,953.3 793.3,953 792.1,952.7 790.9,952.4 789.7,952.1 788.4,951.8 787.2,951.5 786,951.2 785,950.9 783.9,950.6 782.9,950.3 781.9,950 780.9,949.7 779.9,949.4 778.9,949.1 777.9,948.8 777,948.5 776,948.3 775,948 774,947.7 773,947.5 772,947.3 771,947 770,946.8 769,946.6 768,946.4 767,946.2 766,946 765,945.8 764,945.6 762.9,945.5 761.8,945.3 760.8,945.2 759.7,945.1 758.6,945 757.6,944.9 756.7,944.7 755.8,944.6 755,944.4 753.7,944 752.6,943.6 751.8,943.2 750.9,942.7 750,942.2 749,941.6 748,940.9 747,940.2 746,939.4 745,938.5 744,937.6 743,936.6 742,935.6 741,934.5 740,933.4 739,932.3 738,931.2 737,930 736,928.8 735,927.6 734,926.3 733,925 732.1,923.6 731.1,922.3 730,921 729.1,919.9 728.1,918.9 727.1,917.8 726,916.8 725,915.8 724,914.9 723,914 721.9,913.2 720.9,912.4 719.9,911.6 718.9,910.9 718,910.2 716.9,909.2 715.9,908.1 715,907.2 714,906.5 713,905.9 711.9,905.5 710.9,905.2 710,905.1 708.9,905.2 708,905.7 707,906.5 706,907.8 705,909.5 704,911.6 703,914.3 702.1,917.4 701,920.4 700.1,922.3 699.1,924.1 698,925.9 697,927.7 696,929.6 695.1,931.5 694.1,933.3 693,935 692.1,936.2 691.1,937.2 690.1,938.2 689.1,939.2 688,940.1 687.1,940.9 686.1,941.7 685.1,942.4 684,943.2 683,943.9 682,944.5 681,945.1 680,945.6 679,946.1 678,946.6 677,947 676,947.5 674.8,948.1 673.5,948.8 672.3,949.5 671.2,950 670.5,950.4Z" fill="#e7dc97" fill-opacity="0.9"/>
<path d="M670.5,859.8 671.2,860 672.3,860.3 673.5,860.6 674.8,860.9 676,861.3 677,861.6 678,861.9 679,862.3 680.1,862.6 681.1,863 682,863.5 683.1,864.2 684.1,864.9 685,865.7 686,866.5 687,867.1 688,867.5 689,867.8 690,868.1 691,868.3 692,868.6 693,869 694,869.4 695.1,869.9 696.1,870.3 697,870.8 698.1,871.3 699.1,871.8 700,872.3 701,873 702,873.9 703.1,875 704.1,876.1 705,877.4 706.1,879.1 707.1,880.9 708,883.2 709,888 710,893.5 710.9,897.3 712,901.3 713,905.1 714,908.7 714.9,912.2 716,915.4 716.9,917.4 717.9,919.2 719,920.9 720,922.7 721,924.5 721.9,926.4 722.9,928.2 724,930 724.9,931.4 725.9,932.7 726.9,934.1 727.9,935.6 729,937.3 730,939.1 731,941.2 732,943.4 733,945.5 734,947.4 735,948.8 736.1,949.9 737.1,950.6 738,950.9 739,951 740,951 741,950.9 742,950.5 743,949.9 744,949.4 745,948.8 745.9,948.2 746.8,947.6 747.6,946.9 748.7,946.3 750,945.9 750.8,945.8 751.7,945.7 752.6,945.7 753.6,945.7 754.7,945.7 755.8,945.7 756.8,945.8 757.9,945.8 759,945.9 760,945.9 761,945.9 762,946 763,946.1 764,946.2 765,946.3 766,946.3 767,946.4 768,946.5 769,946.6 770,946.6 771,946.6 771.9,946.7 772.8,946.7 773.7,946.7 774.6,946.7 775.5,946.7 776.5,946.7 777.6,946.7 778.7,946.7 780,946.6 780.9,946.5 781.9,946.5 783,946.4 784.1,946.3 785.3,946.2 786.5,946.1 787.8,946 789,945.9 790.2,945.8 791.4,945.7 792.6,945.6 793.6,945.5 794.6,945.4 795.5,945.3 796.2,945.3 796.8,945.2" fill="none" stroke="#2e8a4e" stroke-width="4.6" stroke-linejoin="round" stroke-linecap="butt"/>
<path d="M670.5,943.9 671.2,943.5 672.3,943 673.5,942.3 674.8,941.6 676,941 677,940.5 678,940.1 679,939.6 680,939.1 681,938.6 682,938 683,937.4 684,936.7 685.1,935.9 686.1,935.2 687.1,934.4 688,933.6 689.1,932.7 690.1,931.7 691.1,930.7 692.1,929.7 693,928.5 694.1,926.8 695.1,925 696,923.1 697,921.2 698,919.4 699.1,917.6 700.1,915.8 701,913.9 702.1,910.9 703,907.8 704,905.1 705,903 706,901.3 707,900 708,899.2 708.9,898.7 710,898.6 710.9,898.7 711.9,899 713,899.4 714,900 715,900.7 715.9,901.6 716.9,902.7 718,903.7 718.9,904.4 719.9,905.1 720.9,905.9 721.9,906.7 723,907.5 724,908.4 725,909.3 726,910.3 727.1,911.3 728.1,912.4 729.1,913.4 730,914.5 731.1,915.8 732.1,917.1 733,918.5 734,919.8 735,921.1 736,922.3 737,923.5 738,924.7 739,925.8 740,926.9 741,928 742,929.1 743,930.1 744,931.1 745,932 746,932.9 747,933.7 748,934.4 749,935.1 750,935.7 750.9,936.2 751.8,936.7 752.6,937.1 753.7,937.5 755,937.9 755.8,938.1 756.7,938.2 757.6,938.4 758.6,938.5 759.7,938.6 760.8,938.7 761.8,938.8 762.9,939 764,939.1 765,939.3 766,939.5 767,939.7 768,939.9 769,940.1 770,940.3 771,940.5 772,940.8 773,941 774,941.2 775,941.5 776,941.8 777,942 777.9,942.3 778.9,942.6 779.9,942.9 780.9,943.2 781.9,943.5 782.9,943.8 783.9,944.1 785,944.4 786,944.7 787.2,945 788.4,945.3 789.7,945.6 790.9,945.9 792.1,946.2 793.3,946.5 794.4,946.8 795.3,947 796.2,947.2 796.8,947.4" fill="none" stroke="#c9b22e" stroke-width="5.2" stroke-linejoin="round" stroke-linecap="butt"/>
<path d="M670.5,967.3 671.2,966.8 672.3,966.1 673.5,965.3 674.8,964.4 676,963.6 677,962.9 678,962.2 679,961.4 680,960.7 681,959.9 682,959.2 683,958.5 684.1,957.7 685.1,957 686.1,956.3 687.1,955.5 688,954.8 689.1,953.7 690.1,952.7 691,951.6 692,950.4 693,949.4 694,948.3 695.1,947.1 696.1,945.9 697,944.6 698.2,942.4 699.1,940.1 700,937.3 701,931.9 702,925.6 702.9,920.9 704,915.9 705,911 706,906.5 707,902.3 708,897.8 709,893 709.9,888 711,883.2 711.9,879.7 712.9,876.2 714,873 715,870.1 716,867.7 716.9,865.6 717.9,863.7 719,862 719.9,860.6 720.9,859.3 722,858.1 723,857.1 724,856.2 725,855.5 726,855 727,854.6 728,854.5 729,854.5 730,854.7 731,855 731.9,855.5 732.9,856.4 734,857.5 735,858.8 736,860.4 737,862.2 738,864.2 739,866 740,867.8 741.1,869.8 742.1,871.8 743,873.7 744,875.6 745,877.3 746,878.9 747,880.4 748,881.8 749,883.2 750,884.6 751,886 752,887.3 753,888.7 754,889.9 755,891.2 756,892.4 757,893.6 758,894.8 759,895.9 760,897 761,898 762,898.9 763,899.7 764,900.5 765,901.4 766,902.3 767,903.2 768,904.1 769,905 770,905.8 771,906.6 772,907.3 773,908 774,908.7 775,909.4 776,910 777,910.6 778,911.2 779,911.8 780,912.3 781,912.8 782,913.3 783,913.7 784,914.1 785,914.5 786,914.8 786.9,915.2 787.9,915.4 788.9,915.7 790,916 791.1,916.3 792.4,916.5 793.7,916.8 795,917 796,917.2 796.8,917.4" fill="none" stroke="#ec1c26" stroke-width="4.8" stroke-linejoin="round" stroke-linecap="butt"/>
<line x1="519" y1="840.5" x2="519" y2="1001.2" stroke="#231f20" stroke-width="2.4"/>
<line x1="517.8" y1="1000" x2="645.6" y2="1000" stroke="#231f20" stroke-width="2.4"/>
<line x1="670.2" y1="1000" x2="796.8" y2="1000" stroke="#231f20" stroke-width="2.4"/>
<line x1="519" y1="871" x2="523" y2="871" stroke="#231f20" stroke-width="2"/>
<line x1="519" y1="903.5" x2="523" y2="903.5" stroke="#231f20" stroke-width="2"/>
<line x1="519" y1="936" x2="523" y2="936" stroke="#231f20" stroke-width="2"/>
<line x1="519" y1="968" x2="523" y2="968" stroke="#231f20" stroke-width="2"/>
<line x1="613.5" y1="846.1" x2="613.5" y2="1000" stroke="#231f20" stroke-width="2.6" stroke-dasharray="7.6 8.45"/>
<line x1="701" y1="846.1" x2="701" y2="1000" stroke="#231f20" stroke-width="2.6" stroke-dasharray="7.6 8.45"/>
<line x1="520.5" y1="1009.6" x2="535" y2="1009.6" stroke="#231f20" stroke-width="2.4"/>
<rect x="507" y="497.2" width="8.2" height="59.8" fill="#3a8a4e"/>
<rect x="507" y="561.6" width="8.2" height="110.7" fill="#e8202e"/>
<rect x="507" y="678.3" width="8.2" height="150" fill="#c9ac3a"/>
<text x="206.5" y="25" font-size="31" text-anchor="start" fill="#111" >a</text>
<text x="15.2" y="479" font-size="31" text-anchor="start" fill="#111" >b</text>
<text x="462" y="479" font-size="31" text-anchor="start" fill="#111" >c</text>
<text x="353.2" y="11.2" font-size="14.6" text-anchor="start" fill="#231f20" textLength="135" lengthAdjust="spacingAndGlyphs" >Population average</text>
<text x="382.6" y="109.2" font-size="14.6" text-anchor="start" fill="#231f20" textLength="76.2" lengthAdjust="spacingAndGlyphs" >Single cells</text>
<text x="401.6" y="362" font-size="14.6" text-anchor="start" fill="#231f20" textLength="38" lengthAdjust="spacingAndGlyphs" >Lever</text>
<text x="229" y="81.8" font-size="15.4" text-anchor="start" fill="#231f20" textLength="43.8" lengthAdjust="spacingAndGlyphs" >1 ΔF/F</text>
<text x="220.2" y="333.4" font-size="15.4" text-anchor="start" fill="#231f20" textLength="52" lengthAdjust="spacingAndGlyphs" >10 ΔF/F</text>
<text x="232.6" y="415.6" font-size="15.4" text-anchor="start" fill="#231f20" textLength="38.6" lengthAdjust="spacingAndGlyphs" >3 mm</text>
<text x="276.6" y="432" font-size="15.4" text-anchor="start" fill="#231f20" textLength="41.6" lengthAdjust="spacingAndGlyphs" >10 sec</text>
<text x="76.5" y="479.5" font-size="17.4" text-anchor="start" fill="#231f20" textLength="133" lengthAdjust="spacingAndGlyphs" >Movement onset</text>
<text x="227.2" y="479.5" font-size="17.4" text-anchor="start" fill="#231f20" textLength="133.6" lengthAdjust="spacingAndGlyphs" >Movement offset</text>
<text transform="translate(23.6,821.4) rotate(-90)" font-size="16.6" fill="#231f20" textLength="128.5" lengthAdjust="spacingAndGlyphs">Normalized ΔF/F</text>
<path d="M35.6,734 V723.4 L32.6,725.6" fill="none" stroke="#231f20" stroke-width="1.6" stroke-linejoin="round"/>
<text x="29.5" y="796.2" font-size="16.6" text-anchor="start" fill="#231f20" >0</text>
<text x="51.4" y="849.6" font-size="17" text-anchor="start" fill="#231f20" textLength="20.4" lengthAdjust="spacingAndGlyphs" >0.1</text>
<text x="42.4" y="927.6" font-size="17" text-anchor="start" fill="#231f20" textLength="32.6" lengthAdjust="spacingAndGlyphs" >0.05</text>
<text x="-0.6" y="927.6" font-size="17" text-anchor="start" fill="#231f20" textLength="34.8" lengthAdjust="spacingAndGlyphs" >ΔF/F</text>
<text x="63.8" y="1004.4" font-size="17" text-anchor="start" fill="#231f20" >0</text>
<text x="68.2" y="1026" font-size="17" text-anchor="start" fill="#231f20" textLength="35" lengthAdjust="spacingAndGlyphs" >0.5 s</text>
<text x="515.6" y="479.3" font-size="17.4" text-anchor="start" fill="#231f20" textLength="133.6" lengthAdjust="spacingAndGlyphs" >Movement onset</text>
<text x="665.8" y="479.3" font-size="17.4" text-anchor="start" fill="#231f20" textLength="134.6" lengthAdjust="spacingAndGlyphs" >Movement offset</text>
<text x="501" y="521.5" font-size="17.4" text-anchor="end" fill="#231f20" textLength="92.4" lengthAdjust="spacingAndGlyphs" >Movement-</text>
<text x="501" y="545" font-size="17.4" text-anchor="end" fill="#231f20" textLength="46.6" lengthAdjust="spacingAndGlyphs" >active</text>
<text x="504.4" y="612.2" font-size="17.4" text-anchor="end" fill="#231f20" textLength="98" lengthAdjust="spacingAndGlyphs" >Quiescence-</text>
<text x="504.4" y="634" font-size="17.4" text-anchor="end" fill="#231f20" textLength="46.6" lengthAdjust="spacingAndGlyphs" >active</text>
<text x="497.2" y="747" font-size="17.4" text-anchor="end" fill="#231f20" textLength="127.4" lengthAdjust="spacingAndGlyphs" >Indiscriminately</text>
<text x="497.2" y="770" font-size="17.4" text-anchor="end" fill="#231f20" textLength="47.2" lengthAdjust="spacingAndGlyphs" >active</text>
<text x="491.4" y="875.6" font-size="17" text-anchor="start" fill="#231f20" textLength="24.4" lengthAdjust="spacingAndGlyphs" >0.2</text>
<text x="492.4" y="941" font-size="17" text-anchor="start" fill="#231f20" textLength="22.4" lengthAdjust="spacingAndGlyphs" >0.1</text>
<text x="504" y="1006" font-size="17" text-anchor="start" fill="#231f20" >0</text>
<text x="448" y="927.2" font-size="17" text-anchor="start" fill="#231f20" textLength="35.4" lengthAdjust="spacingAndGlyphs" >ΔF/F</text>
<text x="511" y="1027" font-size="17" text-anchor="start" fill="#231f20" textLength="34" lengthAdjust="spacingAndGlyphs" >0.5 s</text>
</svg>
</body></html>
